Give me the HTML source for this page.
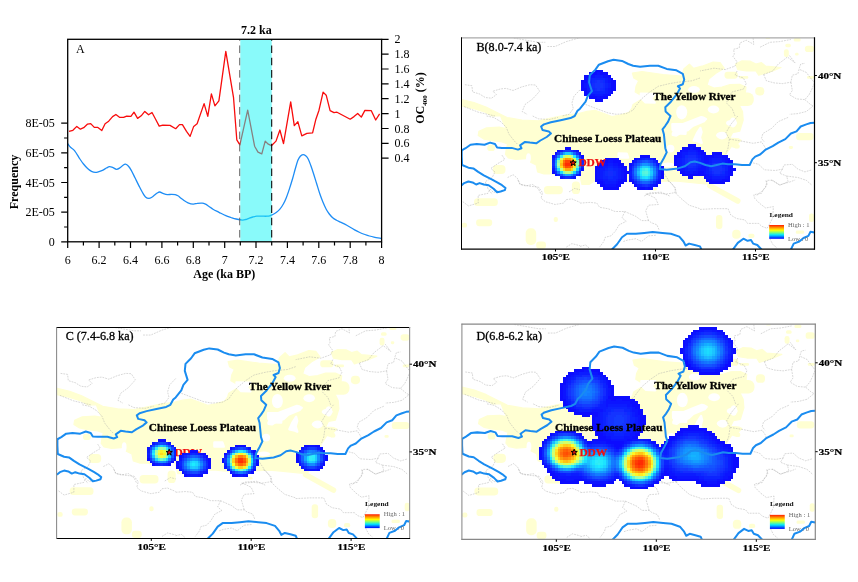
<!DOCTYPE html>
<html><head><meta charset="utf-8"><title>Figure</title>
<style>html,body{margin:0;padding:0;background:#fff;}svg{display:block;font-family:"Liberation Serif", serif;will-change:transform;opacity:0.999}.t{font-size:12px;fill:#000}.b{font-weight:bold}.riv{fill:none;stroke:#1a8cf0;stroke-width:2;stroke-linejoin:round;stroke-linecap:round}.dot{fill:none;stroke:#a8a8a8;stroke-width:0.45;stroke-dasharray:1.8 1}.yl{fill:#ffffd2;stroke:#ffffd2;stroke-width:1.2;stroke-linejoin:round}.wh{fill:#fff;stroke:#fff;stroke-width:2.4;stroke-linejoin:round}</style></head><body>
<svg width="858" height="582" viewBox="0 0 858 582">
<rect width="858" height="582" fill="#fff"/>
<defs>
<linearGradient id="ramp" x1="0" y1="0" x2="0" y2="1"><stop offset="0" stop-color="#ff1a00"/><stop offset="0.2" stop-color="#ff9a00"/><stop offset="0.38" stop-color="#ffff00"/><stop offset="0.55" stop-color="#7dff7d"/><stop offset="0.72" stop-color="#00e6ff"/><stop offset="0.88" stop-color="#0060ff"/><stop offset="1" stop-color="#0000ff"/></linearGradient>
<g id="land">
<polygon class="yl" points="0,61.7 12.5,64.7 24.5,69.2 35.5,74.7 45.5,79.7 60.5,82.2 77.1,83 91.5,79.9 104.5,77.2 117,75.7 125.5,73.6 133.5,72.5 142.5,75.7 150.5,78.8 158.5,77.2 167.5,74.6 170.5,70.2 171.5,66.7 178.5,62.5 184.2,59.7 178.5,56.9 173.7,54.1 174.5,48.5 177.2,43 172.3,40.2 170.9,35.2 180.5,33.7 201.5,36.7 220.5,38.2 222.3,31.2 227.9,26.3 232.1,30.5 240.5,28.4 251.6,24.2 258.6,24.9 262.8,30.5 254.4,35.4 247.5,41 245.5,47.2 252.5,50.2 260.5,49.2 268.5,46.7 278.2,46.6 284.5,49.2 283.8,55.6 279.6,61.2 276.8,65.4 281,73.8 281.7,82.2 278.2,93.4 271.2,94.8 268.4,100.3 276.8,101 279.6,102.4 276.1,105.9 274.7,110.1 269.8,108.7 267,112.9 264.2,117.1 260.5,127.2 254.5,138.2 250.5,146.2 243.5,146.2 228.5,144.7 218.5,143.7 210.5,143.2 200.5,143.7 194.5,144.7 189.5,147.2 183.5,145.2 168.5,144.2 158.5,143.2 143.5,143.2 133.8,142.7 127.5,146.7 120.5,146.7 119,140.2 117,133.4 98.5,138.2 90.8,136.2 82.4,136.2 76.1,134.1 74.7,127.2 69.1,124.4 68.4,116.7 65.6,116 64.2,120.9 54.4,121.6 46.8,120.2 44,116.7 44.7,111.8 46.1,106.2 40.5,104.1 29.3,102.7 22.3,101.3 16.7,97.8 17.4,93.6 25.1,90.1 37.7,89.4 44.7,90.8 41.9,85.2 39.1,78.2 30.7,78.2 23.7,74.4 12.5,70.9 0,68.1"/>
<polygon class="yl" points="274.2,26.2 280.5,23.1 288.8,23.4 294.4,26.2 300,24.8 304.2,28.3 319.6,29.7 311.2,33.2 304.2,35.3 297.2,37.4 294.4,33.2 284.7,33.2 276.3,31.8"/>
<polygon class="wh" points="179.3,56 193.2,56.1 189.5,61 193.2,64.8 184,64.5 179.5,60.2"/>
<polygon class="wh" points="210.9,86.5 224,86.5 224,95.9 214.9,95.5 211.1,92.1"/>
<ellipse fill="#fff" cx="210.1" cy="110.8" rx="2.4" ry="2.7"/>
<ellipse fill="#fff" cx="206.6" cy="127.1" rx="6.3" ry="2.3"/>
<ellipse fill="#fff" cx="241.3" cy="81.7" rx="3.1" ry="3.1"/>
<ellipse fill="#fff" cx="270" cy="85.2" rx="5.5" ry="3.1"/>
<ellipse fill="#fff" cx="260.5" cy="97.8" rx="5.1" ry="3.9"/>
<polygon class="wh" points="211.3,95.8 214.9,89.2 222.9,85.8 230.1,83 239.7,79.3 244.5,81.2 239.5,84.6 231.1,88 226.3,92.4 220.2,94.1 214.7,97.7 211.3,97.1"/>
<ellipse fill="#fff" cx="220.2" cy="74.5" rx="5.5" ry="7.1"/>
<ellipse fill="#fff" cx="232.5" cy="51.8" rx="5.9" ry="3.5"/>
<ellipse fill="#fff" cx="252" cy="71.7" rx="5.8" ry="3.9"/>
<polygon class="wh" points="232.2,102.6 235.4,95.6 238.9,90.2 240,94.3 238.4,99.6 240.1,105 236.5,103.5"/>
<ellipse fill="#fff" cx="259.7" cy="97.5" rx="5.1" ry="3.1"/>
<ellipse fill="#fff" cx="271.5" cy="84.7" rx="3.5" ry="5.1"/>
<ellipse fill="#fff" cx="209" cy="110.8" rx="3.9" ry="3.9"/>
<polygon class="wh" points="157.2,115.7 165.2,115.8 166.6,119.8 157.2,119.8"/>
<ellipse fill="#fff" cx="67" cy="120.1" rx="2.4" ry="4.6"/>
<rect class="yl" style="stroke:none" x="25.8" y="106.9" width="7.7" height="6.3" rx="2.8"/>
<rect class="yl" style="stroke:none" x="31.4" y="127.2" width="12.6" height="9" rx="4"/>
<rect class="yl" style="stroke:none" x="82.4" y="148.2" width="18.9" height="8.3" rx="3.7"/>
<rect class="yl" style="stroke:none" x="110.4" y="143.6" width="8.1" height="12.6" rx="3.6"/>
<rect class="yl" style="stroke:none" x="12.5" y="160.4" width="23.8" height="7.7" rx="3.5"/>
<rect class="yl" style="stroke:none" x="14.6" y="181.4" width="16.1" height="7" rx="3.1"/>
<rect class="yl" style="stroke:none" x="0.2" y="184.9" width="5.3" height="4.9" rx="2.2"/>
<rect class="yl" style="stroke:none" x="64.2" y="190.5" width="10.5" height="16.7" rx="4.7"/>
<rect class="yl" style="stroke:none" x="74.7" y="203.7" width="9.8" height="7.3" rx="3.3"/>
<rect class="yl" style="stroke:none" x="92.2" y="179.2" width="4.2" height="5" rx="1.9"/>
<rect class="yl" style="stroke:none" x="263" y="33.9" width="13.3" height="7" rx="3.1"/>
<rect class="yl" style="stroke:none" x="277.7" y="38.1" width="9.1" height="2.8" rx="1.3"/>
<rect class="yl" style="stroke:none" x="268.5" y="46.5" width="9.9" height="4.1" rx="1.8"/>
<rect class="yl" style="stroke:none" x="293.7" y="49.2" width="9.1" height="8.4" rx="3.8"/>
<rect class="yl" style="stroke:none" x="266.5" y="54.8" width="25.8" height="13.3" rx="6"/>
<rect class="yl" style="stroke:none" x="322.4" y="11.5" width="4.9" height="7.7" rx="2.2"/>
<rect class="yl" style="stroke:none" x="323.8" y="5.9" width="5.6" height="3.5" rx="1.6"/>
<rect class="yl" style="stroke:none" x="332.2" y="0.3" width="7" height="3.5" rx="1.6"/>
<rect class="yl" style="stroke:none" x="333.6" y="15" width="3.5" height="2.8" rx="1.3"/>
<rect class="yl" style="stroke:none" x="343.4" y="8" width="9.1" height="6.3" rx="2.8"/>
<rect class="yl" style="stroke:none" x="345.5" y="38.1" width="7" height="2.8" rx="1.3"/>
<rect class="yl" style="stroke:none" x="304.2" y="0" width="4.2" height="1.2" rx="0.5"/>
<rect class="yl" style="stroke:none" x="254.5" y="177.2" width="6.4" height="14" rx="2.9"/>
<rect class="yl" style="stroke:none" x="270.7" y="191.9" width="8.4" height="9" rx="3.8"/>
<rect class="yl" style="stroke:none" x="286.8" y="196" width="6.2" height="4.2" rx="1.9"/>
<rect class="yl" style="stroke:none" x="334.3" y="192.8" width="8.4" height="3.2" rx="1.4"/>
<rect class="yl" style="stroke:none" x="347.5" y="175.8" width="5" height="8.4" rx="2.2"/>
<rect class="yl" style="stroke:none" x="334.6" y="95.2" width="17.4" height="7.2" rx="3.2"/>
<rect class="yl" style="stroke:none" x="327.3" y="108.3" width="4.2" height="2.8" rx="1.3"/>
<rect class="yl" style="stroke:none" x="274.2" y="106.2" width="3.5" height="4.2" rx="1.6"/>
<rect class="yl" style="stroke:none" x="273.3" y="106.6" width="4.9" height="4.2" rx="1.9"/>
<rect class="yl" style="stroke:none" x="191.2" y="149.9" width="4.2" height="2.8" rx="1.3"/>
<line x1="248.3" y1="147.8" x2="276.3" y2="163.2" stroke="#ffffd2" stroke-width="5.5" stroke-linecap="round"/>
<polyline class="dot" points="52.3,0.3 76.8,4.5 83.8,4.5"/>
<polyline class="dot" points="85.9,8.7 93.6,8.7 104.8,3.8 118.5,-0.1"/>
<polyline class="dot" points="3.4,46.9 10.4,47.9 11.1,54.1 18.1,56.2 23.7,59.7 30,60.4 34.9,56.9 31.4,53.4 39.1,51.1 44.7,50.6 51.6,52.7 60,49.2 68.4,46.9 74,47.2 78.2,53.4 71.2,61.1 63.5,66.7 60.7,73.7 65.6,76.5"/>
<polyline class="dot" points="118.5,52 112.5,58.3 110.4,65.3 111.8,70.9 107.6,76.5 100.6,78.2"/>
<polyline class="dot" points="2.7,68.8 16.7,74.4 33.5,78.2"/>
<polyline class="dot" points="124.1,66.7 135.3,70.9 146.5,75.1 154.9,76.5 164.7,75.8 171.6,72.3 174.4,68.1 180,61.1 188.4,54.1 196.8,48.5 208,45.8 216.4,44.4 230.4,43 238.5,40.2"/>
<polyline class="dot" points="291.6,0.3 292.3,6.6 284.7,2.4 278.4,5.2 277.7,10.1 272.1,11.5 272.8,16.4 271.4,18.5 275.6,24.1 273.5,28.3 263.7,31.8 252.5,30.4 238.5,33.2"/>
<polyline class="dot" points="298.6,9.4 308.4,4.5 318.2,3.8 329.4,1.7"/>
<polyline class="dot" points="275.6,33.2 273.5,37.4 281.9,40.2 284.7,45.8 281.9,51.3 270.7,54.1 266.5,59.7 265.1,65.3 270.7,70.9 273.5,78.2"/>
<polyline class="dot" points="302.1,36.7 311.2,33.2 316.8,26.2 322.4,22 325.9,19.2 333.6,25.1 328,17.8"/>
<polyline class="dot" points="302.1,36.7 304.9,43 312.6,45.1 321,45.8 329.4,44.4 330.8,37.4 336.4,36 337.8,30.4 339.2,26.2 343.4,25.5"/>
<polyline class="dot" points="329.4,44.4 330.8,52.7 328,56.9 335,61.1 343.4,61.8 347.6,56.9 350.4,51.3 352.5,45.8"/>
<polyline class="dot" points="343.4,61.8 349,66.7 351.8,68.1 344.8,73.7 336.4,75.8 328,76.5"/>
<polyline class="dot" points="338.5,31.8 344.8,34.6 349,40.2 352.5,44.4"/>
<polyline class="dot" points="276.3,78.2 269.3,86.6 264.4,95 267.9,101.3 280.5,103.4 291.6,105.5 300,104.1 302.8,108.3 304.2,111.1"/>
<polyline class="dot" points="267.9,101.3 266.5,110.4 264.4,116"/>
<polyline class="dot" points="326.6,79.6 316.8,83.8 309.8,90.8 301.4,95.7 300,100.6 302.8,104.1"/>
<polyline class="dot" points="291.6,125.1 297.2,126.5 302.8,132 314,132.7 321,131.3 322.4,127.2 330.8,126.5 336.4,131.3 343.4,134.1 350.4,132"/>
<polyline class="dot" points="321,131.3 318.2,135.5 325.2,138.3 326.6,143.9 318.2,147.4 311.2,142.5 305.6,142.5 304.2,149.5 300,153.7 294.4,158.2"/>
<polyline class="dot" points="325.2,138.3 336.4,139.7 344.8,142.5 350.4,147.4"/>
<polyline class="dot" points="238.5,171.6 252.5,170.9 266.5,170.9 269.3,177.2 274.9,180.7 283.3,182.1 286.1,185.6 297.2,185.6 300,188.4 305.6,190.5 308.4,185.6 311.2,180 311.9,168.8 304.2,170.2 298.6,166 293,160.4 292.3,156.9 300,155.5 302.8,150.6 305.6,146.4 304.2,142.2"/>
<polyline class="dot" points="308.4,200.9 311.2,206.5 315.4,210"/>
<polyline class="dot" points="309.8,142.2 318.2,147.1 328,144.3 333.6,142.2"/>
<polyline class="dot" points="118.5,165.3 128.3,164.6 135.3,165.3 138.1,169.5 146.5,170.9 153.5,173.7 163.3,173.7 174.4,178.6 180,182.8 187,182.8 189.8,184.9 195.4,187 197.5,191.9"/>
<polyline class="dot" points="163.3,173.7 160.5,180 164.7,183.5 157.7,187 153.5,193.9 149.3,198.1 143.7,199.5 142.3,203.7 138.1,209.3"/>
<polyline class="dot" points="187,182.8 184.2,173 187,167.4 196.8,166.7 194,160.4 188.4,157.6 184.2,156.2 196.8,155.5 205.2,156.2 213.6,154.8 213.6,150.6 209.4,145 205.2,142.2"/>
<polyline class="dot" points="213.6,154.8 219.2,160.4 227.6,167.4 238.5,170.9"/>
<polyline class="dot" points="161.9,203.7 166.1,202.3 174.4,200.9 180,203.7 187,198.1 194.7,197.4"/>
<polyline class="dot" points="118.5,208.6 124.1,207.2 128.3,210.7"/>
<polyline class="dot" points="1.3,163.9 6.9,168.1 16.7,165.3 16.7,157.6 26.5,155.5 28.6,151.3 32.1,154.8 36.3,152.7"/>
<polyline class="dot" points="56.5,142.2 58.6,146.4 68.4,148.5 76.8,149.2 81,154.8 79.6,160.4 83.8,163.9 93.6,166.7 102,165.3 104.8,161.8 110.4,161.1 118.5,164.6"/>
<polyline class="dot" points="107.6,154.1 113.2,150.6 118.5,152"/>
<polyline class="dot" points="104.8,209.3 110.4,205.8 118.5,207.9"/>
<polyline class="dot" points="25.1,78.2 32.1,79.6 39.1,83.8 44.7,89.4 47.5,96.4 53,103.4 55.8,106.2"/>
<polyline class="dot" points="40.5,117.4 43.3,121.6 36.3,125.8 29.3,130.6 33.5,134.1 30.7,139.7 23.7,143.9 26.5,150.9 30.7,156.5"/>
<polyline class="dot" points="46.1,139.7 51.6,136.9 55.8,140.4 58.6,146.7 64.2,148.1 71.2,146.7 76.8,150.9 79.6,156.5"/>
<polyline class="dot" points="71.2,78.2 76.8,81 88,81.7 96.4,79.6"/>
<polyline class="dot" points="202.4,135.5 208,143.9 213.6,149.5 215,156.5"/>
<polyline class="dot" points="182.8,158.2 188.4,155.1 199.6,154.4 208,158.2"/>
</g>
<g id="riv">
<polyline class="riv" points="0.2,112.5 4.1,110.4 9,106.9 15.3,106.2 23,106.9 28.6,104.8 33.5,106.2 35.6,109.7 40.4,110.1 50.2,110.1 56.5,111.8 60,110.4 58.6,107.6 63.5,104.1 68.4,104.8 74.7,105.5 78.9,102.7 85.2,99.2 89.4,95.7 87.3,93.6 81,92.2 79.6,88.7 82.4,86.6 89.4,84.5 99.2,82.4 109,80.3 113.2,78.2 116,73 118.5,70.9 124.1,63.9 126.2,58.3 130.4,53.4 127.6,44.4 128.3,37.4 133.9,31.8 137.4,26.9 146.5,23.4 152.1,22 160.5,23.1 166.8,26.2 171.6,27.9 178.6,29 188.4,27.9 196.8,27.9 205.2,31.1 215,32.5 221.3,36 222.7,41.6 221.3,46.5 216.4,48.5 218.5,50.6 215,56.9 209.4,63.9 203.8,69.5 204.1,73.7 209,78.2 206.6,83.8 203.8,88 201,91.5 202.4,96.4 203.1,103.4 203.8,110.4 205.2,114.6 202.4,120.2 198.9,126.5 198.2,131.3 205.2,132 216.4,130.6 223.4,128.5 229,124.4 233.2,123.7 238.5,125.1 244.1,127.2 249.7,128.5 255.3,127.2 260.9,125.8 266.5,126.5 273.5,126.5 280.5,127.2 288.2,127.2 290.9,121.6 293.7,118.8 298.6,116.7 304.2,111.8 311.2,108.3 316.8,104.8 323.8,101.3 329.4,95.7 335,93.6 339.2,88.7 344.8,86.6 349,85.2 353,84.9"/>
<polyline class="riv" points="0.2,112.5 0.2,118.8 0.6,127.2 6.9,129.9 11.8,130.6 16.7,134.1 22.3,137.6 30.7,141.8 37,145.3 40.5,147.4 44,150.2 43.3,152.3 39.1,153.7 35.6,154.4 32.1,150.9 27.2,147.4 22.3,146.7 18.1,145.3 14.6,146.7 11.1,144.6 6.9,143.7 2.7,145.3 0.2,147.4"/>
<polyline class="riv" points="150.7,211.4 155.6,206.5 160.5,199.5 165.4,196 174.4,196 182.8,195.1 191.2,194.2 201,195.1 209.4,196 217.8,198.8 222,203.7 224.1,207.7 227.6,205.8 233.2,207.2 238.5,208.6 239.9,211.7"/>
<polyline class="riv" points="271.4,211.7 276.3,205.1 281.9,200.9 286.1,203 289.5,202.3 291.6,205.8 295.8,207.2 300,211.7"/>
<polyline class="riv" points="329.4,211.7 332.2,205.8 337.8,203.7 342,200.2 346.9,198.1 349,193.9 353,194.6"/>
</g>
<g id="legend">
<g transform="translate(307.9,178.8) scale(1.13,1)"><text x="0" y="0" font-size="6.6" font-weight="bold" fill="#111">Legend</text></g>
<rect x="307.7" y="187.2" width="14.8" height="13.8" fill="url(#ramp)"/>
<g transform="translate(326.5,189.4) scale(1.13,1)"><text x="0" y="0" font-size="5.8" fill="#666">High : 1</text></g>
<g transform="translate(326.5,202.8) scale(1.13,1)"><text x="0" y="0" font-size="5.8" fill="#666">Low : 0</text></g>
</g>
</defs>
<g id="panelA">
<path d="M67.7 143.6 C68.17 144.22 69.33 146.10 70.5 147.3 C71.67 148.50 73.13 148.85 74.7 150.8 C76.27 152.75 78.43 156.80 79.9 159 C81.37 161.20 82.22 162.42 83.5 164 C84.78 165.58 86.27 167.28 87.6 168.5 C88.93 169.72 90.22 170.65 91.5 171.3 C92.78 171.95 94.05 172.35 95.3 172.4 C96.55 172.45 97.72 171.98 99 171.6 C100.28 171.22 101.75 170.70 103 170.1 C104.25 169.50 105.42 168.57 106.5 168 C107.58 167.43 108.42 166.77 109.5 166.7 C110.58 166.63 111.85 167.17 113 167.6 C114.15 168.03 115.23 169.27 116.4 169.3 C117.57 169.33 118.90 168.48 120 167.8 C121.10 167.12 122.08 165.80 123 165.2 C123.92 164.60 124.58 164.02 125.5 164.2 C126.42 164.38 127.52 165.23 128.5 166.3 C129.48 167.37 130.32 168.68 131.4 170.6 C132.48 172.52 133.72 175.22 135 177.8 C136.28 180.38 137.85 183.65 139.1 186.1 C140.35 188.55 141.43 190.70 142.5 192.5 C143.57 194.30 144.43 195.92 145.5 196.9 C146.57 197.88 147.85 198.33 148.9 198.4 C149.95 198.47 150.85 197.85 151.8 197.3 C152.75 196.75 153.70 195.82 154.6 195.1 C155.50 194.38 156.35 193.52 157.2 193 C158.05 192.48 158.65 191.90 159.7 192 C160.75 192.10 162.22 193.17 163.5 193.6 C164.78 194.03 166.10 194.47 167.4 194.6 C168.70 194.73 170.00 194.40 171.3 194.4 C172.60 194.40 174.08 194.37 175.2 194.6 C176.32 194.83 177.15 195.28 178 195.8 C178.85 196.32 179.30 196.92 180.3 197.7 C181.30 198.48 182.72 199.65 184 200.5 C185.28 201.35 186.47 202.20 188 202.8 C189.53 203.40 191.62 204.02 193.2 204.1 C194.78 204.18 196.00 203.47 197.5 203.3 C199.00 203.13 200.87 202.95 202.2 203.1 C203.53 203.25 204.42 203.68 205.5 204.2 C206.58 204.72 207.45 205.37 208.7 206.2 C209.95 207.03 211.28 208.18 213 209.2 C214.72 210.22 216.87 211.22 219 212.3 C221.13 213.38 223.80 214.83 225.8 215.7 C227.80 216.57 229.28 216.95 231 217.5 C232.72 218.05 234.18 218.57 236.1 219 C238.02 219.43 240.88 220.02 242.5 220.1 C244.12 220.18 244.73 219.80 245.8 219.5 C246.87 219.20 247.73 218.72 248.9 218.3 C250.07 217.88 251.50 217.35 252.8 217 C254.10 216.65 255.17 216.33 256.7 216.2 C258.23 216.07 260.28 216.20 262 216.2 C263.72 216.20 265.70 216.27 267 216.2 C268.30 216.13 268.95 216.02 269.8 215.8 C270.65 215.58 271.03 215.43 272.1 214.9 C273.17 214.37 274.90 213.55 276.2 212.6 C277.50 211.65 278.73 210.58 279.9 209.2 C281.07 207.82 282.13 206.22 283.2 204.3 C284.27 202.38 285.25 200.32 286.3 197.7 C287.35 195.08 288.43 191.83 289.5 188.6 C290.57 185.37 291.73 181.60 292.7 178.3 C293.67 175.00 294.43 171.80 295.3 168.8 C296.17 165.80 297.07 162.40 297.9 160.3 C298.73 158.20 299.45 157.15 300.3 156.2 C301.15 155.25 302.10 154.67 303 154.6 C303.90 154.53 304.83 155.07 305.7 155.8 C306.57 156.53 307.35 157.38 308.2 159 C309.05 160.62 309.93 163.13 310.8 165.5 C311.67 167.87 312.43 170.20 313.4 173.2 C314.37 176.20 315.53 180.07 316.6 183.5 C317.67 186.93 318.73 190.67 319.8 193.8 C320.87 196.93 321.93 199.73 323 202.3 C324.07 204.87 325.15 207.25 326.2 209.2 C327.25 211.15 328.22 212.58 329.3 214 C330.38 215.42 331.50 216.67 332.7 217.7 C333.90 218.73 335.22 219.47 336.5 220.2 C337.78 220.93 338.68 221.27 340.4 222.1 C342.12 222.93 344.43 223.90 346.8 225.2 C349.17 226.50 352.43 228.68 354.6 229.9 C356.77 231.12 358.08 231.73 359.8 232.5 C361.52 233.27 363.30 233.92 364.9 234.5 C366.50 235.08 367.90 235.57 369.4 236 C370.90 236.43 371.87 236.70 373.9 237.1 C375.93 237.50 380.32 238.18 381.6 238.4" fill="none" stroke="#1e8df5" stroke-width="1.3" stroke-linejoin="round"/>
<path d="M69 131.3 L72.9 130.3 L76.8 126.4 L80.4 129.2 L83.7 127.7 L87.6 124.1 L90.7 123.6 L94.3 127.4 L97.9 127.4 L101.8 130.5 L105.1 123.8 L108.7 121.2 L112.6 116.6 L115.9 114.5 L119.8 117.4 L123.6 117.4 L126.7 116.1 L130.9 116.3 L134 112.2 L137.6 118.4 L141.2 115.8 L144.8 111.4 L148.6 114.8 L152 112.5 L155.6 119.2 L159.2 126.1 L162.8 125.1 L170 125.4 L175.7 128.7 L179.5 124.6 L182.4 124.6 L186.5 131.3 L190.1 136.4 L193.7 126.4 L197.1 123.8 L204.1 103.6 L207.8 116.4 L211.4 93.9 L214.9 105.9 L218.9 100.8 L225.8 51.4 L229.6 74.1 L233.5 97.3 L236.8 139.8 L239.9 144.9 L247.7 110.2 L254.6 146.2 L258 152.1 L261.8 153.9 L265.2 141.1 L268.3 144.2 L271.4 145.7 L276 141.1 L279.9 130 L283.5 143.6 L290.7 101.9 L294.3 125.6 L297.9 121.8 L301.8 135.9 L306.9 133.3 L312.6 132.8 L315.9 119.2 L319 110.2 L323.1 92.1 L326.2 95.2 L330.1 110.7 L334 112.7 L337 112.2 L350.2 119.2 L354 116.6 L357.7 113.5 L361.3 117.1 L364.9 110.4 L371.3 110.7 L375.7 120 L379.6 113.8" fill="none" stroke="#f80c0c" stroke-width="1.3" stroke-linejoin="round"/>
<rect x="240.3" y="39.3" width="31.4" height="202.5" fill="#14f5f5" fill-opacity="0.5"/>
<line x1="239.7" y1="39.3" x2="239.7" y2="241.8" stroke="#666" stroke-width="1" stroke-dasharray="7.6 4.7" stroke-dashoffset="6.15"/>
<line x1="271.7" y1="39.3" x2="271.7" y2="241.8" stroke="#000" stroke-width="1.05" stroke-dasharray="7.6 4.7" stroke-dashoffset="6.15"/>
<rect x="67.7" y="39.3" width="313.9" height="202.5" fill="none" stroke="#000" stroke-width="1.3"/>
<path d="M67.7 241.8 v6.3 M83.4 241.8 v3.6 M99.1 241.8 v6.3 M114.8 241.8 v3.6 M130.5 241.8 v6.3 M146.2 241.8 v3.6 M161.9 241.8 v6.3 M177.6 241.8 v3.6 M193.3 241.8 v6.3 M209 241.8 v3.6 M224.7 241.8 v6.3 M240.3 241.8 v3.6 M256 241.8 v6.3 M271.7 241.8 v3.6 M287.4 241.8 v6.3 M303.1 241.8 v3.6 M318.8 241.8 v6.3 M334.5 241.8 v3.6 M350.2 241.8 v6.3 M365.9 241.8 v3.6 M381.6 241.8 v6.3 M67.7 241.8 h-6.5 M67.7 227 h-3.6 M67.7 212.2 h-6.5 M67.7 197.3 h-3.6 M67.7 182.5 h-6.5 M67.7 167.7 h-3.6 M67.7 152.9 h-6.5 M67.7 138 h-3.6 M67.7 123.2 h-6.5 M381.6 158.2 h7 M381.6 143.3 h7 M381.6 128.5 h7 M381.6 113.6 h7 M381.6 98.7 h7 M381.6 83.9 h7 M381.6 69 h7 M381.6 54.2 h7 M381.6 39.3 h7" stroke="#000" stroke-width="1.2" fill="none"/>
<text class="t" x="67.7" y="264.2" text-anchor="middle">6</text>
<text class="t" x="99.1" y="264.2" text-anchor="middle">6.2</text>
<text class="t" x="130.5" y="264.2" text-anchor="middle">6.4</text>
<text class="t" x="161.9" y="264.2" text-anchor="middle">6.6</text>
<text class="t" x="193.3" y="264.2" text-anchor="middle">6.8</text>
<text class="t" x="224.7" y="264.2" text-anchor="middle">7</text>
<text class="t" x="256" y="264.2" text-anchor="middle">7.2</text>
<text class="t" x="287.4" y="264.2" text-anchor="middle">7.4</text>
<text class="t" x="318.8" y="264.2" text-anchor="middle">7.6</text>
<text class="t" x="350.2" y="264.2" text-anchor="middle">7.8</text>
<text class="t" x="381.6" y="264.2" text-anchor="middle">8</text>
<text class="t" x="54.8" y="245.9" text-anchor="end">0</text>
<text class="t" x="54.8" y="216.2" text-anchor="end">2E-05</text>
<text class="t" x="54.8" y="186.6" text-anchor="end">4E-05</text>
<text class="t" x="54.8" y="157" text-anchor="end">6E-05</text>
<text class="t" x="54.8" y="127.3" text-anchor="end">8E-05</text>
<text class="t" x="394.4" y="162.3">0.4</text>
<text class="t" x="394.4" y="147.4">0.6</text>
<text class="t" x="394.4" y="132.6">0.8</text>
<text class="t" x="394.4" y="117.7">1</text>
<text class="t" x="394.4" y="102.8">1.2</text>
<text class="t" x="394.4" y="88">1.4</text>
<text class="t" x="394.4" y="73.1">1.6</text>
<text class="t" x="394.4" y="58.3">1.8</text>
<text class="t" x="394.4" y="43.4">2</text>
<text class="t b" x="224.3" y="277.6" text-anchor="middle">Age (ka BP)</text>
<text class="t b" transform="translate(17.9,182) rotate(-90)" text-anchor="middle">Frequency</text>
<text class="t b" transform="translate(424.3,98) rotate(-90)" text-anchor="middle">OC<tspan font-size="7" dy="2.5">400</tspan><tspan dy="-2.5"> (%)</tspan></text>
<text class="t" x="76" y="53">A</text>
<text class="t b" x="256.3" y="33.6" text-anchor="middle">7.2 ka</text>
</g>
<g id="B">
<clipPath id="clipB"><rect x="461.5" y="37.8" width="353" height="211.3"/></clipPath>
<g clip-path="url(#clipB)">
<use href="#land" transform="translate(461.5,37.8) scale(1,1)"/>
<g shape-rendering="crispEdges"><rect x="594.5" y="69.7" width="8" height="2.7" fill="#0c0cff"/><rect x="589.2" y="72.4" width="8" height="2.7" fill="#0c0cff"/><rect x="597.2" y="72.4" width="2.7" height="2.7" fill="#0c14ff"/><rect x="599.8" y="72.4" width="8" height="2.7" fill="#0c0cff"/><rect x="583.9" y="75" width="5.4" height="2.7" fill="#0c0cff"/><rect x="589.2" y="75" width="5.4" height="2.7" fill="#0c14ff"/><rect x="594.5" y="75" width="8" height="2.7" fill="#0c1cff"/><rect x="602.5" y="75" width="5.4" height="2.7" fill="#0c14ff"/><rect x="607.8" y="75" width="2.7" height="2.7" fill="#0c0cff"/><rect x="583.9" y="77.7" width="2.7" height="2.7" fill="#0c0cff"/><rect x="586.5" y="77.7" width="2.7" height="2.7" fill="#0c14ff"/><rect x="589.2" y="77.7" width="2.7" height="2.7" fill="#0c1cff"/><rect x="591.8" y="77.7" width="13.4" height="2.7" fill="#0c24ff"/><rect x="605.1" y="77.7" width="2.7" height="2.7" fill="#0c1cff"/><rect x="607.8" y="77.7" width="2.7" height="2.7" fill="#0c14ff"/><rect x="610.5" y="77.7" width="2.7" height="2.7" fill="#0c0cff"/><rect x="581.2" y="80.4" width="5.4" height="2.7" fill="#0c0cff"/><rect x="586.5" y="80.4" width="2.7" height="2.7" fill="#0c1cff"/><rect x="589.2" y="80.4" width="2.7" height="2.7" fill="#0c24ff"/><rect x="591.8" y="80.4" width="2.7" height="2.7" fill="#0c2cff"/><rect x="594.5" y="80.4" width="2.7" height="2.7" fill="#142cff"/><rect x="597.2" y="80.4" width="2.7" height="2.7" fill="#1434ff"/><rect x="599.8" y="80.4" width="2.7" height="2.7" fill="#142cff"/><rect x="602.5" y="80.4" width="2.7" height="2.7" fill="#0c2cff"/><rect x="605.1" y="80.4" width="2.7" height="2.7" fill="#0c1cff"/><rect x="607.8" y="80.4" width="2.7" height="2.7" fill="#0c14ff"/><rect x="610.5" y="80.4" width="5.4" height="2.7" fill="#0c0cff"/><rect x="581.2" y="83" width="2.7" height="2.7" fill="#0c0cff"/><rect x="583.9" y="83" width="2.7" height="2.7" fill="#0c14ff"/><rect x="586.5" y="83" width="2.7" height="2.7" fill="#0c1cff"/><rect x="589.2" y="83" width="2.7" height="2.7" fill="#0c24ff"/><rect x="591.8" y="83" width="2.7" height="2.7" fill="#142cff"/><rect x="594.5" y="83" width="8" height="2.7" fill="#1434ff"/><rect x="602.5" y="83" width="2.7" height="2.7" fill="#142cff"/><rect x="605.1" y="83" width="2.7" height="2.7" fill="#0c24ff"/><rect x="607.8" y="83" width="2.7" height="2.7" fill="#0c1cff"/><rect x="610.5" y="83" width="5.4" height="2.7" fill="#0c0cff"/><rect x="581.2" y="85.7" width="2.7" height="2.7" fill="#0c0cff"/><rect x="583.9" y="85.7" width="2.7" height="2.7" fill="#0c14ff"/><rect x="586.5" y="85.7" width="2.7" height="2.7" fill="#0c1cff"/><rect x="589.2" y="85.7" width="2.7" height="2.7" fill="#0c24ff"/><rect x="591.8" y="85.7" width="2.7" height="2.7" fill="#142cff"/><rect x="594.5" y="85.7" width="8" height="2.7" fill="#1434ff"/><rect x="602.5" y="85.7" width="2.7" height="2.7" fill="#142cff"/><rect x="605.1" y="85.7" width="2.7" height="2.7" fill="#0c24ff"/><rect x="607.8" y="85.7" width="2.7" height="2.7" fill="#0c1cff"/><rect x="610.5" y="85.7" width="5.4" height="2.7" fill="#0c0cff"/><rect x="581.2" y="88.3" width="5.4" height="2.7" fill="#0c0cff"/><rect x="586.5" y="88.3" width="2.7" height="2.7" fill="#0c1cff"/><rect x="589.2" y="88.3" width="2.7" height="2.7" fill="#0c24ff"/><rect x="591.8" y="88.3" width="2.7" height="2.7" fill="#0c2cff"/><rect x="594.5" y="88.3" width="2.7" height="2.7" fill="#142cff"/><rect x="597.2" y="88.3" width="2.7" height="2.7" fill="#1434ff"/><rect x="599.8" y="88.3" width="2.7" height="2.7" fill="#142cff"/><rect x="602.5" y="88.3" width="2.7" height="2.7" fill="#0c2cff"/><rect x="605.1" y="88.3" width="2.7" height="2.7" fill="#0c1cff"/><rect x="607.8" y="88.3" width="2.7" height="2.7" fill="#0c14ff"/><rect x="610.5" y="88.3" width="5.4" height="2.7" fill="#0c0cff"/><rect x="583.9" y="91" width="2.7" height="2.7" fill="#0c0cff"/><rect x="586.5" y="91" width="2.7" height="2.7" fill="#0c14ff"/><rect x="589.2" y="91" width="2.7" height="2.7" fill="#0c1cff"/><rect x="591.8" y="91" width="13.4" height="2.7" fill="#0c24ff"/><rect x="605.1" y="91" width="2.7" height="2.7" fill="#0c1cff"/><rect x="607.8" y="91" width="2.7" height="2.7" fill="#0c14ff"/><rect x="610.5" y="91" width="2.7" height="2.7" fill="#0c0cff"/><rect x="583.9" y="93.7" width="5.4" height="2.7" fill="#0c0cff"/><rect x="589.2" y="93.7" width="5.4" height="2.7" fill="#0c14ff"/><rect x="594.5" y="93.7" width="8" height="2.7" fill="#0c1cff"/><rect x="602.5" y="93.7" width="5.4" height="2.7" fill="#0c14ff"/><rect x="607.8" y="93.7" width="2.7" height="2.7" fill="#0c0cff"/><rect x="589.2" y="96.3" width="8" height="2.7" fill="#0c0cff"/><rect x="597.2" y="96.3" width="2.7" height="2.7" fill="#0c14ff"/><rect x="599.8" y="96.3" width="8" height="2.7" fill="#0c0cff"/><rect x="594.5" y="99" width="8" height="2.7" fill="#0c0cff"/><rect x="687.6" y="144.2" width="8" height="2.7" fill="#0c0cff"/><rect x="565.2" y="146.9" width="5.4" height="2.7" fill="#0c0cff"/><rect x="682.3" y="146.9" width="8" height="2.7" fill="#0c0cff"/><rect x="690.3" y="146.9" width="2.7" height="2.7" fill="#0c14ff"/><rect x="692.9" y="146.9" width="8" height="2.7" fill="#0c0cff"/><rect x="557.3" y="149.5" width="2.7" height="2.7" fill="#0c0cff"/><rect x="559.9" y="149.5" width="2.7" height="2.7" fill="#0c1cff"/><rect x="562.6" y="149.5" width="2.7" height="2.7" fill="#1434ff"/><rect x="565.2" y="149.5" width="5.4" height="2.7" fill="#143cff"/><rect x="570.6" y="149.5" width="2.7" height="2.7" fill="#142cff"/><rect x="573.2" y="149.5" width="2.7" height="2.7" fill="#0c1cff"/><rect x="575.9" y="149.5" width="2.7" height="2.7" fill="#0c0cff"/><rect x="679.6" y="149.5" width="2.7" height="2.7" fill="#0c0cff"/><rect x="682.3" y="149.5" width="5.4" height="2.7" fill="#0c14ff"/><rect x="687.6" y="149.5" width="8" height="2.7" fill="#0c1cff"/><rect x="695.6" y="149.5" width="2.7" height="2.7" fill="#0c14ff"/><rect x="698.2" y="149.5" width="5.4" height="2.7" fill="#0c0cff"/><rect x="554.6" y="152.2" width="2.7" height="2.7" fill="#0c0cff"/><rect x="557.3" y="152.2" width="2.7" height="2.7" fill="#1434ff"/><rect x="559.9" y="152.2" width="2.7" height="2.7" fill="#146cff"/><rect x="562.6" y="152.2" width="2.7" height="2.7" fill="#14a4ff"/><rect x="565.2" y="152.2" width="5.4" height="2.7" fill="#1cccff"/><rect x="570.6" y="152.2" width="2.7" height="2.7" fill="#14a4ff"/><rect x="573.2" y="152.2" width="2.7" height="2.7" fill="#1464ff"/><rect x="575.9" y="152.2" width="2.7" height="2.7" fill="#142cff"/><rect x="578.5" y="152.2" width="2.7" height="2.7" fill="#0c0cff"/><rect x="677" y="152.2" width="2.7" height="2.7" fill="#0c0cff"/><rect x="679.6" y="152.2" width="2.7" height="2.7" fill="#0c14ff"/><rect x="682.3" y="152.2" width="5.4" height="2.7" fill="#0c1cff"/><rect x="687.6" y="152.2" width="8" height="2.7" fill="#0c24ff"/><rect x="695.6" y="152.2" width="2.7" height="2.7" fill="#0c1cff"/><rect x="698.2" y="152.2" width="2.7" height="2.7" fill="#0c14ff"/><rect x="700.9" y="152.2" width="5.4" height="2.7" fill="#0c0cff"/><rect x="711.5" y="152.2" width="10.7" height="2.7" fill="#0c0cff"/><rect x="551.9" y="154.8" width="2.7" height="2.7" fill="#0c0cff"/><rect x="554.6" y="154.8" width="2.7" height="2.7" fill="#1434ff"/><rect x="557.3" y="154.8" width="2.7" height="2.7" fill="#1484ff"/><rect x="559.9" y="154.8" width="2.7" height="2.7" fill="#34ecf4"/><rect x="562.6" y="154.8" width="2.7" height="2.7" fill="#acff9c"/><rect x="565.2" y="154.8" width="2.7" height="2.7" fill="#dcff54"/><rect x="567.9" y="154.8" width="2.7" height="2.7" fill="#dcff5c"/><rect x="570.6" y="154.8" width="2.7" height="2.7" fill="#acffa4"/><rect x="573.2" y="154.8" width="2.7" height="2.7" fill="#24ecff"/><rect x="575.9" y="154.8" width="2.7" height="2.7" fill="#147cff"/><rect x="578.5" y="154.8" width="2.7" height="2.7" fill="#142cff"/><rect x="581.2" y="154.8" width="2.7" height="2.7" fill="#0c0cff"/><rect x="639.7" y="154.8" width="10.7" height="2.7" fill="#0c0cff"/><rect x="674.3" y="154.8" width="5.4" height="2.7" fill="#0c0cff"/><rect x="679.6" y="154.8" width="2.7" height="2.7" fill="#0c14ff"/><rect x="682.3" y="154.8" width="2.7" height="2.7" fill="#0c1cff"/><rect x="684.9" y="154.8" width="2.7" height="2.7" fill="#0c2cff"/><rect x="687.6" y="154.8" width="8" height="2.7" fill="#142cff"/><rect x="695.6" y="154.8" width="2.7" height="2.7" fill="#0c24ff"/><rect x="698.2" y="154.8" width="2.7" height="2.7" fill="#0c1cff"/><rect x="700.9" y="154.8" width="2.7" height="2.7" fill="#0c14ff"/><rect x="703.6" y="154.8" width="10.7" height="2.7" fill="#0c0cff"/><rect x="714.2" y="154.8" width="8" height="2.7" fill="#0c14ff"/><rect x="722.2" y="154.8" width="5.4" height="2.7" fill="#0c0cff"/><rect x="551.9" y="157.5" width="2.7" height="2.7" fill="#0c1cff"/><rect x="554.6" y="157.5" width="2.7" height="2.7" fill="#1464ff"/><rect x="557.3" y="157.5" width="2.7" height="2.7" fill="#24ecff"/><rect x="559.9" y="157.5" width="2.7" height="2.7" fill="#d4ff64"/><rect x="562.6" y="157.5" width="2.7" height="2.7" fill="#ffc414"/><rect x="565.2" y="157.5" width="2.7" height="2.7" fill="#ff940c"/><rect x="567.9" y="157.5" width="2.7" height="2.7" fill="#ff9c0c"/><rect x="570.6" y="157.5" width="2.7" height="2.7" fill="#ffcc1c"/><rect x="573.2" y="157.5" width="2.7" height="2.7" fill="#ccff6c"/><rect x="575.9" y="157.5" width="2.7" height="2.7" fill="#1ce4ff"/><rect x="578.5" y="157.5" width="2.7" height="2.7" fill="#145cff"/><rect x="581.2" y="157.5" width="2.7" height="2.7" fill="#0c14ff"/><rect x="605.1" y="157.5" width="13.4" height="2.7" fill="#0c0cff"/><rect x="634.4" y="157.5" width="2.7" height="2.7" fill="#0c0cff"/><rect x="637.1" y="157.5" width="2.7" height="2.7" fill="#0c14ff"/><rect x="639.7" y="157.5" width="2.7" height="2.7" fill="#0c1cff"/><rect x="642.4" y="157.5" width="2.7" height="2.7" fill="#0c24ff"/><rect x="645" y="157.5" width="2.7" height="2.7" fill="#0c2cff"/><rect x="647.7" y="157.5" width="2.7" height="2.7" fill="#0c24ff"/><rect x="650.4" y="157.5" width="2.7" height="2.7" fill="#0c1cff"/><rect x="653" y="157.5" width="2.7" height="2.7" fill="#0c0cff"/><rect x="674.3" y="157.5" width="2.7" height="2.7" fill="#0c0cff"/><rect x="677" y="157.5" width="2.7" height="2.7" fill="#0c14ff"/><rect x="679.6" y="157.5" width="2.7" height="2.7" fill="#0c1cff"/><rect x="682.3" y="157.5" width="2.7" height="2.7" fill="#0c24ff"/><rect x="684.9" y="157.5" width="2.7" height="2.7" fill="#142cff"/><rect x="687.6" y="157.5" width="8" height="2.7" fill="#1434ff"/><rect x="695.6" y="157.5" width="2.7" height="2.7" fill="#142cff"/><rect x="698.2" y="157.5" width="2.7" height="2.7" fill="#0c24ff"/><rect x="700.9" y="157.5" width="2.7" height="2.7" fill="#0c14ff"/><rect x="703.6" y="157.5" width="5.4" height="2.7" fill="#0c0cff"/><rect x="708.9" y="157.5" width="2.7" height="2.7" fill="#0c14ff"/><rect x="711.5" y="157.5" width="10.7" height="2.7" fill="#0c1cff"/><rect x="722.2" y="157.5" width="2.7" height="2.7" fill="#0c14ff"/><rect x="724.8" y="157.5" width="5.4" height="2.7" fill="#0c0cff"/><rect x="551.9" y="160.2" width="2.7" height="2.7" fill="#0c2cff"/><rect x="554.6" y="160.2" width="2.7" height="2.7" fill="#1494ff"/><rect x="557.3" y="160.2" width="2.7" height="2.7" fill="#8cffb4"/><rect x="559.9" y="160.2" width="2.7" height="2.7" fill="#ffd41c"/><rect x="562.6" y="160.2" width="2.7" height="2.7" fill="#ff740c"/><rect x="565.2" y="160.2" width="5.4" height="2.7" fill="#ff4404"/><rect x="570.6" y="160.2" width="2.7" height="2.7" fill="#ff7c0c"/><rect x="573.2" y="160.2" width="2.7" height="2.7" fill="#ffdc1c"/><rect x="575.9" y="160.2" width="2.7" height="2.7" fill="#7cfcc4"/><rect x="578.5" y="160.2" width="2.7" height="2.7" fill="#1484ff"/><rect x="581.2" y="160.2" width="2.7" height="2.7" fill="#0c24ff"/><rect x="599.8" y="160.2" width="8" height="2.7" fill="#0c0cff"/><rect x="607.8" y="160.2" width="5.4" height="2.7" fill="#0c14ff"/><rect x="613.1" y="160.2" width="8" height="2.7" fill="#0c0cff"/><rect x="631.7" y="160.2" width="2.7" height="2.7" fill="#0c0cff"/><rect x="634.4" y="160.2" width="2.7" height="2.7" fill="#0c1cff"/><rect x="637.1" y="160.2" width="2.7" height="2.7" fill="#1434ff"/><rect x="639.7" y="160.2" width="2.7" height="2.7" fill="#1444ff"/><rect x="642.4" y="160.2" width="2.7" height="2.7" fill="#1454ff"/><rect x="645" y="160.2" width="2.7" height="2.7" fill="#145cff"/><rect x="647.7" y="160.2" width="2.7" height="2.7" fill="#144cff"/><rect x="650.4" y="160.2" width="2.7" height="2.7" fill="#143cff"/><rect x="653" y="160.2" width="2.7" height="2.7" fill="#0c24ff"/><rect x="655.7" y="160.2" width="2.7" height="2.7" fill="#0c14ff"/><rect x="674.3" y="160.2" width="2.7" height="2.7" fill="#0c0cff"/><rect x="677" y="160.2" width="2.7" height="2.7" fill="#0c14ff"/><rect x="679.6" y="160.2" width="2.7" height="2.7" fill="#0c1cff"/><rect x="682.3" y="160.2" width="2.7" height="2.7" fill="#0c24ff"/><rect x="684.9" y="160.2" width="2.7" height="2.7" fill="#142cff"/><rect x="687.6" y="160.2" width="8" height="2.7" fill="#1434ff"/><rect x="695.6" y="160.2" width="2.7" height="2.7" fill="#142cff"/><rect x="698.2" y="160.2" width="2.7" height="2.7" fill="#0c24ff"/><rect x="700.9" y="160.2" width="2.7" height="2.7" fill="#0c1cff"/><rect x="703.6" y="160.2" width="5.4" height="2.7" fill="#0c14ff"/><rect x="708.9" y="160.2" width="2.7" height="2.7" fill="#0c1cff"/><rect x="711.5" y="160.2" width="10.7" height="2.7" fill="#0c24ff"/><rect x="722.2" y="160.2" width="2.7" height="2.7" fill="#0c1cff"/><rect x="724.8" y="160.2" width="2.7" height="2.7" fill="#0c14ff"/><rect x="727.5" y="160.2" width="5.4" height="2.7" fill="#0c0cff"/><rect x="551.9" y="162.8" width="2.7" height="2.7" fill="#142cff"/><rect x="554.6" y="162.8" width="2.7" height="2.7" fill="#14a4ff"/><rect x="557.3" y="162.8" width="2.7" height="2.7" fill="#acffa4"/><rect x="559.9" y="162.8" width="2.7" height="2.7" fill="#ffbc14"/><rect x="562.6" y="162.8" width="2.7" height="2.7" fill="#ff5c04"/><rect x="565.2" y="162.8" width="5.4" height="2.7" fill="#ff2c04"/><rect x="570.6" y="162.8" width="2.7" height="2.7" fill="#ff640c"/><rect x="573.2" y="162.8" width="2.7" height="2.7" fill="#ffcc14"/><rect x="575.9" y="162.8" width="2.7" height="2.7" fill="#94ffac"/><rect x="578.5" y="162.8" width="2.7" height="2.7" fill="#1494ff"/><rect x="581.2" y="162.8" width="2.7" height="2.7" fill="#0c2cff"/><rect x="597.2" y="162.8" width="5.4" height="2.7" fill="#0c0cff"/><rect x="602.5" y="162.8" width="5.4" height="2.7" fill="#0c14ff"/><rect x="607.8" y="162.8" width="5.4" height="2.7" fill="#0c1cff"/><rect x="613.1" y="162.8" width="5.4" height="2.7" fill="#0c14ff"/><rect x="618.4" y="162.8" width="5.4" height="2.7" fill="#0c0cff"/><rect x="629.1" y="162.8" width="2.7" height="2.7" fill="#0c0cff"/><rect x="631.7" y="162.8" width="2.7" height="2.7" fill="#0c1cff"/><rect x="634.4" y="162.8" width="2.7" height="2.7" fill="#143cff"/><rect x="637.1" y="162.8" width="2.7" height="2.7" fill="#145cff"/><rect x="639.7" y="162.8" width="2.7" height="2.7" fill="#147cff"/><rect x="642.4" y="162.8" width="5.4" height="2.7" fill="#1494ff"/><rect x="647.7" y="162.8" width="2.7" height="2.7" fill="#1484ff"/><rect x="650.4" y="162.8" width="2.7" height="2.7" fill="#146cff"/><rect x="653" y="162.8" width="2.7" height="2.7" fill="#1444ff"/><rect x="655.7" y="162.8" width="2.7" height="2.7" fill="#0c24ff"/><rect x="658.3" y="162.8" width="2.7" height="2.7" fill="#0c0cff"/><rect x="674.3" y="162.8" width="2.7" height="2.7" fill="#0c0cff"/><rect x="677" y="162.8" width="2.7" height="2.7" fill="#0c14ff"/><rect x="679.6" y="162.8" width="2.7" height="2.7" fill="#0c1cff"/><rect x="682.3" y="162.8" width="2.7" height="2.7" fill="#0c24ff"/><rect x="684.9" y="162.8" width="2.7" height="2.7" fill="#142cff"/><rect x="687.6" y="162.8" width="8" height="2.7" fill="#1434ff"/><rect x="695.6" y="162.8" width="2.7" height="2.7" fill="#0c2cff"/><rect x="698.2" y="162.8" width="2.7" height="2.7" fill="#0c24ff"/><rect x="700.9" y="162.8" width="2.7" height="2.7" fill="#0c1cff"/><rect x="703.6" y="162.8" width="2.7" height="2.7" fill="#0c14ff"/><rect x="706.2" y="162.8" width="2.7" height="2.7" fill="#0c1cff"/><rect x="708.9" y="162.8" width="2.7" height="2.7" fill="#0c24ff"/><rect x="711.5" y="162.8" width="2.7" height="2.7" fill="#142cff"/><rect x="714.2" y="162.8" width="5.4" height="2.7" fill="#1434ff"/><rect x="719.5" y="162.8" width="2.7" height="2.7" fill="#142cff"/><rect x="722.2" y="162.8" width="2.7" height="2.7" fill="#0c24ff"/><rect x="724.8" y="162.8" width="2.7" height="2.7" fill="#0c1cff"/><rect x="727.5" y="162.8" width="2.7" height="2.7" fill="#0c14ff"/><rect x="730.2" y="162.8" width="2.7" height="2.7" fill="#0c0cff"/><rect x="551.9" y="165.5" width="2.7" height="2.7" fill="#0c24ff"/><rect x="554.6" y="165.5" width="2.7" height="2.7" fill="#148cff"/><rect x="557.3" y="165.5" width="2.7" height="2.7" fill="#7cfcc4"/><rect x="559.9" y="165.5" width="2.7" height="2.7" fill="#ffdc1c"/><rect x="562.6" y="165.5" width="2.7" height="2.7" fill="#ff840c"/><rect x="565.2" y="165.5" width="2.7" height="2.7" fill="#ff4c04"/><rect x="567.9" y="165.5" width="2.7" height="2.7" fill="#ff5404"/><rect x="570.6" y="165.5" width="2.7" height="2.7" fill="#ff840c"/><rect x="573.2" y="165.5" width="2.7" height="2.7" fill="#ffe424"/><rect x="575.9" y="165.5" width="2.7" height="2.7" fill="#6cf4cc"/><rect x="578.5" y="165.5" width="2.7" height="2.7" fill="#1484ff"/><rect x="581.2" y="165.5" width="2.7" height="2.7" fill="#0c24ff"/><rect x="594.5" y="165.5" width="5.4" height="2.7" fill="#0c0cff"/><rect x="599.8" y="165.5" width="2.7" height="2.7" fill="#0c14ff"/><rect x="602.5" y="165.5" width="5.4" height="2.7" fill="#0c1cff"/><rect x="607.8" y="165.5" width="5.4" height="2.7" fill="#0c24ff"/><rect x="613.1" y="165.5" width="5.4" height="2.7" fill="#0c1cff"/><rect x="618.4" y="165.5" width="2.7" height="2.7" fill="#0c14ff"/><rect x="621.1" y="165.5" width="5.4" height="2.7" fill="#0c0cff"/><rect x="629.1" y="165.5" width="2.7" height="2.7" fill="#0c14ff"/><rect x="631.7" y="165.5" width="2.7" height="2.7" fill="#142cff"/><rect x="634.4" y="165.5" width="2.7" height="2.7" fill="#1454ff"/><rect x="637.1" y="165.5" width="2.7" height="2.7" fill="#148cff"/><rect x="639.7" y="165.5" width="2.7" height="2.7" fill="#1cb4ff"/><rect x="642.4" y="165.5" width="5.4" height="2.7" fill="#1cd4ff"/><rect x="647.7" y="165.5" width="2.7" height="2.7" fill="#1cc4ff"/><rect x="650.4" y="165.5" width="2.7" height="2.7" fill="#1494ff"/><rect x="653" y="165.5" width="2.7" height="2.7" fill="#146cff"/><rect x="655.7" y="165.5" width="2.7" height="2.7" fill="#143cff"/><rect x="658.3" y="165.5" width="2.7" height="2.7" fill="#0c1cff"/><rect x="661" y="165.5" width="2.7" height="2.7" fill="#0c0cff"/><rect x="677" y="165.5" width="2.7" height="2.7" fill="#0c0cff"/><rect x="679.6" y="165.5" width="2.7" height="2.7" fill="#0c14ff"/><rect x="682.3" y="165.5" width="2.7" height="2.7" fill="#0c1cff"/><rect x="684.9" y="165.5" width="2.7" height="2.7" fill="#0c24ff"/><rect x="687.6" y="165.5" width="5.4" height="2.7" fill="#142cff"/><rect x="692.9" y="165.5" width="2.7" height="2.7" fill="#0c2cff"/><rect x="695.6" y="165.5" width="2.7" height="2.7" fill="#0c24ff"/><rect x="698.2" y="165.5" width="2.7" height="2.7" fill="#0c1cff"/><rect x="700.9" y="165.5" width="5.4" height="2.7" fill="#0c14ff"/><rect x="706.2" y="165.5" width="2.7" height="2.7" fill="#0c1cff"/><rect x="708.9" y="165.5" width="2.7" height="2.7" fill="#0c2cff"/><rect x="711.5" y="165.5" width="10.7" height="2.7" fill="#1434ff"/><rect x="722.2" y="165.5" width="2.7" height="2.7" fill="#0c2cff"/><rect x="724.8" y="165.5" width="2.7" height="2.7" fill="#0c24ff"/><rect x="727.5" y="165.5" width="2.7" height="2.7" fill="#0c14ff"/><rect x="730.2" y="165.5" width="2.7" height="2.7" fill="#0c0cff"/><rect x="551.9" y="168.1" width="2.7" height="2.7" fill="#0c14ff"/><rect x="554.6" y="168.1" width="2.7" height="2.7" fill="#145cff"/><rect x="557.3" y="168.1" width="2.7" height="2.7" fill="#1cdcff"/><rect x="559.9" y="168.1" width="2.7" height="2.7" fill="#c4ff84"/><rect x="562.6" y="168.1" width="2.7" height="2.7" fill="#ffdc1c"/><rect x="565.2" y="168.1" width="5.4" height="2.7" fill="#ffac0c"/><rect x="570.6" y="168.1" width="2.7" height="2.7" fill="#ffdc1c"/><rect x="573.2" y="168.1" width="2.7" height="2.7" fill="#b4ff8c"/><rect x="575.9" y="168.1" width="2.7" height="2.7" fill="#1cd4ff"/><rect x="578.5" y="168.1" width="2.7" height="2.7" fill="#1454ff"/><rect x="581.2" y="168.1" width="2.7" height="2.7" fill="#0c14ff"/><rect x="594.5" y="168.1" width="2.7" height="2.7" fill="#0c0cff"/><rect x="597.2" y="168.1" width="2.7" height="2.7" fill="#0c14ff"/><rect x="599.8" y="168.1" width="5.4" height="2.7" fill="#0c1cff"/><rect x="605.1" y="168.1" width="2.7" height="2.7" fill="#0c24ff"/><rect x="607.8" y="168.1" width="5.4" height="2.7" fill="#0c2cff"/><rect x="613.1" y="168.1" width="5.4" height="2.7" fill="#0c24ff"/><rect x="618.4" y="168.1" width="2.7" height="2.7" fill="#0c1cff"/><rect x="621.1" y="168.1" width="2.7" height="2.7" fill="#0c14ff"/><rect x="623.8" y="168.1" width="2.7" height="2.7" fill="#0c0cff"/><rect x="629.1" y="168.1" width="2.7" height="2.7" fill="#0c14ff"/><rect x="631.7" y="168.1" width="2.7" height="2.7" fill="#143cff"/><rect x="634.4" y="168.1" width="2.7" height="2.7" fill="#1474ff"/><rect x="637.1" y="168.1" width="2.7" height="2.7" fill="#14acff"/><rect x="639.7" y="168.1" width="2.7" height="2.7" fill="#1ce4ff"/><rect x="642.4" y="168.1" width="2.7" height="2.7" fill="#3cecec"/><rect x="645" y="168.1" width="2.7" height="2.7" fill="#44f4ec"/><rect x="647.7" y="168.1" width="2.7" height="2.7" fill="#24ecff"/><rect x="650.4" y="168.1" width="2.7" height="2.7" fill="#1cbcff"/><rect x="653" y="168.1" width="2.7" height="2.7" fill="#1484ff"/><rect x="655.7" y="168.1" width="2.7" height="2.7" fill="#144cff"/><rect x="658.3" y="168.1" width="2.7" height="2.7" fill="#0c24ff"/><rect x="661" y="168.1" width="2.7" height="2.7" fill="#0c0cff"/><rect x="677" y="168.1" width="2.7" height="2.7" fill="#0c0cff"/><rect x="679.6" y="168.1" width="5.4" height="2.7" fill="#0c14ff"/><rect x="684.9" y="168.1" width="2.7" height="2.7" fill="#0c1cff"/><rect x="687.6" y="168.1" width="8" height="2.7" fill="#0c24ff"/><rect x="695.6" y="168.1" width="2.7" height="2.7" fill="#0c1cff"/><rect x="698.2" y="168.1" width="8" height="2.7" fill="#0c14ff"/><rect x="706.2" y="168.1" width="2.7" height="2.7" fill="#0c1cff"/><rect x="708.9" y="168.1" width="2.7" height="2.7" fill="#0c2cff"/><rect x="711.5" y="168.1" width="10.7" height="2.7" fill="#1434ff"/><rect x="722.2" y="168.1" width="2.7" height="2.7" fill="#142cff"/><rect x="724.8" y="168.1" width="2.7" height="2.7" fill="#0c24ff"/><rect x="727.5" y="168.1" width="2.7" height="2.7" fill="#0c14ff"/><rect x="730.2" y="168.1" width="5.4" height="2.7" fill="#0c0cff"/><rect x="551.9" y="170.8" width="2.7" height="2.7" fill="#0c0cff"/><rect x="554.6" y="170.8" width="2.7" height="2.7" fill="#0c2cff"/><rect x="557.3" y="170.8" width="2.7" height="2.7" fill="#1474ff"/><rect x="559.9" y="170.8" width="2.7" height="2.7" fill="#1cdcff"/><rect x="562.6" y="170.8" width="2.7" height="2.7" fill="#84ffbc"/><rect x="565.2" y="170.8" width="5.4" height="2.7" fill="#bcff84"/><rect x="570.6" y="170.8" width="2.7" height="2.7" fill="#7cfcbc"/><rect x="573.2" y="170.8" width="2.7" height="2.7" fill="#1cd4ff"/><rect x="575.9" y="170.8" width="2.7" height="2.7" fill="#146cff"/><rect x="578.5" y="170.8" width="2.7" height="2.7" fill="#0c24ff"/><rect x="594.5" y="170.8" width="2.7" height="2.7" fill="#0c0cff"/><rect x="597.2" y="170.8" width="2.7" height="2.7" fill="#0c14ff"/><rect x="599.8" y="170.8" width="2.7" height="2.7" fill="#0c1cff"/><rect x="602.5" y="170.8" width="2.7" height="2.7" fill="#0c24ff"/><rect x="605.1" y="170.8" width="2.7" height="2.7" fill="#0c2cff"/><rect x="607.8" y="170.8" width="5.4" height="2.7" fill="#142cff"/><rect x="613.1" y="170.8" width="2.7" height="2.7" fill="#0c2cff"/><rect x="615.8" y="170.8" width="2.7" height="2.7" fill="#0c24ff"/><rect x="618.4" y="170.8" width="2.7" height="2.7" fill="#0c1cff"/><rect x="621.1" y="170.8" width="2.7" height="2.7" fill="#0c14ff"/><rect x="623.8" y="170.8" width="5.4" height="2.7" fill="#0c0cff"/><rect x="629.1" y="170.8" width="2.7" height="2.7" fill="#0c1cff"/><rect x="631.7" y="170.8" width="2.7" height="2.7" fill="#1444ff"/><rect x="634.4" y="170.8" width="2.7" height="2.7" fill="#147cff"/><rect x="637.1" y="170.8" width="2.7" height="2.7" fill="#1cbcff"/><rect x="639.7" y="170.8" width="2.7" height="2.7" fill="#24ecfc"/><rect x="642.4" y="170.8" width="2.7" height="2.7" fill="#54f4dc"/><rect x="645" y="170.8" width="2.7" height="2.7" fill="#5cf4dc"/><rect x="647.7" y="170.8" width="2.7" height="2.7" fill="#3cecec"/><rect x="650.4" y="170.8" width="2.7" height="2.7" fill="#1cccff"/><rect x="653" y="170.8" width="2.7" height="2.7" fill="#148cff"/><rect x="655.7" y="170.8" width="2.7" height="2.7" fill="#1454ff"/><rect x="658.3" y="170.8" width="2.7" height="2.7" fill="#0c24ff"/><rect x="661" y="170.8" width="2.7" height="2.7" fill="#0c0cff"/><rect x="679.6" y="170.8" width="5.4" height="2.7" fill="#0c0cff"/><rect x="684.9" y="170.8" width="5.4" height="2.7" fill="#0c14ff"/><rect x="690.3" y="170.8" width="2.7" height="2.7" fill="#0c1cff"/><rect x="692.9" y="170.8" width="5.4" height="2.7" fill="#0c14ff"/><rect x="698.2" y="170.8" width="5.4" height="2.7" fill="#0c0cff"/><rect x="703.6" y="170.8" width="2.7" height="2.7" fill="#0c14ff"/><rect x="706.2" y="170.8" width="2.7" height="2.7" fill="#0c1cff"/><rect x="708.9" y="170.8" width="2.7" height="2.7" fill="#0c24ff"/><rect x="711.5" y="170.8" width="2.7" height="2.7" fill="#142cff"/><rect x="714.2" y="170.8" width="5.4" height="2.7" fill="#1434ff"/><rect x="719.5" y="170.8" width="2.7" height="2.7" fill="#142cff"/><rect x="722.2" y="170.8" width="2.7" height="2.7" fill="#0c2cff"/><rect x="724.8" y="170.8" width="2.7" height="2.7" fill="#0c1cff"/><rect x="727.5" y="170.8" width="2.7" height="2.7" fill="#0c14ff"/><rect x="730.2" y="170.8" width="2.7" height="2.7" fill="#0c0cff"/><rect x="554.6" y="173.5" width="2.7" height="2.7" fill="#0c0cff"/><rect x="557.3" y="173.5" width="2.7" height="2.7" fill="#0c24ff"/><rect x="559.9" y="173.5" width="2.7" height="2.7" fill="#1454ff"/><rect x="562.6" y="173.5" width="2.7" height="2.7" fill="#148cff"/><rect x="565.2" y="173.5" width="5.4" height="2.7" fill="#14acff"/><rect x="570.6" y="173.5" width="2.7" height="2.7" fill="#1484ff"/><rect x="573.2" y="173.5" width="2.7" height="2.7" fill="#1454ff"/><rect x="575.9" y="173.5" width="2.7" height="2.7" fill="#0c24ff"/><rect x="578.5" y="173.5" width="2.7" height="2.7" fill="#0c0cff"/><rect x="594.5" y="173.5" width="2.7" height="2.7" fill="#0c0cff"/><rect x="597.2" y="173.5" width="2.7" height="2.7" fill="#0c14ff"/><rect x="599.8" y="173.5" width="2.7" height="2.7" fill="#0c1cff"/><rect x="602.5" y="173.5" width="2.7" height="2.7" fill="#0c24ff"/><rect x="605.1" y="173.5" width="2.7" height="2.7" fill="#0c2cff"/><rect x="607.8" y="173.5" width="5.4" height="2.7" fill="#142cff"/><rect x="613.1" y="173.5" width="2.7" height="2.7" fill="#0c2cff"/><rect x="615.8" y="173.5" width="2.7" height="2.7" fill="#0c24ff"/><rect x="618.4" y="173.5" width="2.7" height="2.7" fill="#0c1cff"/><rect x="621.1" y="173.5" width="2.7" height="2.7" fill="#0c14ff"/><rect x="623.8" y="173.5" width="2.7" height="2.7" fill="#0c0cff"/><rect x="629.1" y="173.5" width="2.7" height="2.7" fill="#0c1cff"/><rect x="631.7" y="173.5" width="2.7" height="2.7" fill="#143cff"/><rect x="634.4" y="173.5" width="2.7" height="2.7" fill="#1474ff"/><rect x="637.1" y="173.5" width="2.7" height="2.7" fill="#14b4ff"/><rect x="639.7" y="173.5" width="2.7" height="2.7" fill="#1ce4ff"/><rect x="642.4" y="173.5" width="2.7" height="2.7" fill="#44f4e4"/><rect x="645" y="173.5" width="2.7" height="2.7" fill="#4cf4e4"/><rect x="647.7" y="173.5" width="2.7" height="2.7" fill="#2cecf4"/><rect x="650.4" y="173.5" width="2.7" height="2.7" fill="#1cc4ff"/><rect x="653" y="173.5" width="2.7" height="2.7" fill="#1484ff"/><rect x="655.7" y="173.5" width="2.7" height="2.7" fill="#144cff"/><rect x="658.3" y="173.5" width="2.7" height="2.7" fill="#0c24ff"/><rect x="661" y="173.5" width="2.7" height="2.7" fill="#0c0cff"/><rect x="682.3" y="173.5" width="24" height="2.7" fill="#0c0cff"/><rect x="706.2" y="173.5" width="2.7" height="2.7" fill="#0c14ff"/><rect x="708.9" y="173.5" width="2.7" height="2.7" fill="#0c1cff"/><rect x="711.5" y="173.5" width="2.7" height="2.7" fill="#0c24ff"/><rect x="714.2" y="173.5" width="5.4" height="2.7" fill="#0c2cff"/><rect x="719.5" y="173.5" width="5.4" height="2.7" fill="#0c24ff"/><rect x="724.8" y="173.5" width="2.7" height="2.7" fill="#0c1cff"/><rect x="727.5" y="173.5" width="2.7" height="2.7" fill="#0c14ff"/><rect x="730.2" y="173.5" width="2.7" height="2.7" fill="#0c0cff"/><rect x="559.9" y="176.1" width="2.7" height="2.7" fill="#0c14ff"/><rect x="562.6" y="176.1" width="2.7" height="2.7" fill="#0c24ff"/><rect x="565.2" y="176.1" width="5.4" height="2.7" fill="#142cff"/><rect x="570.6" y="176.1" width="2.7" height="2.7" fill="#0c24ff"/><rect x="573.2" y="176.1" width="2.7" height="2.7" fill="#0c14ff"/><rect x="594.5" y="176.1" width="2.7" height="2.7" fill="#0c0cff"/><rect x="597.2" y="176.1" width="2.7" height="2.7" fill="#0c14ff"/><rect x="599.8" y="176.1" width="2.7" height="2.7" fill="#0c1cff"/><rect x="602.5" y="176.1" width="5.4" height="2.7" fill="#0c24ff"/><rect x="607.8" y="176.1" width="5.4" height="2.7" fill="#0c2cff"/><rect x="613.1" y="176.1" width="5.4" height="2.7" fill="#0c24ff"/><rect x="618.4" y="176.1" width="2.7" height="2.7" fill="#0c1cff"/><rect x="621.1" y="176.1" width="2.7" height="2.7" fill="#0c14ff"/><rect x="623.8" y="176.1" width="2.7" height="2.7" fill="#0c0cff"/><rect x="629.1" y="176.1" width="2.7" height="2.7" fill="#0c14ff"/><rect x="631.7" y="176.1" width="2.7" height="2.7" fill="#1434ff"/><rect x="634.4" y="176.1" width="2.7" height="2.7" fill="#145cff"/><rect x="637.1" y="176.1" width="2.7" height="2.7" fill="#148cff"/><rect x="639.7" y="176.1" width="2.7" height="2.7" fill="#1cc4ff"/><rect x="642.4" y="176.1" width="2.7" height="2.7" fill="#1cdcff"/><rect x="645" y="176.1" width="2.7" height="2.7" fill="#1ce4ff"/><rect x="647.7" y="176.1" width="2.7" height="2.7" fill="#1cccff"/><rect x="650.4" y="176.1" width="2.7" height="2.7" fill="#14a4ff"/><rect x="653" y="176.1" width="2.7" height="2.7" fill="#146cff"/><rect x="655.7" y="176.1" width="2.7" height="2.7" fill="#143cff"/><rect x="658.3" y="176.1" width="2.7" height="2.7" fill="#0c1cff"/><rect x="661" y="176.1" width="2.7" height="2.7" fill="#0c0cff"/><rect x="687.6" y="176.1" width="5.4" height="2.7" fill="#0c0cff"/><rect x="703.6" y="176.1" width="2.7" height="2.7" fill="#0c0cff"/><rect x="706.2" y="176.1" width="5.4" height="2.7" fill="#0c14ff"/><rect x="711.5" y="176.1" width="13.4" height="2.7" fill="#0c1cff"/><rect x="724.8" y="176.1" width="2.7" height="2.7" fill="#0c14ff"/><rect x="727.5" y="176.1" width="2.7" height="2.7" fill="#0c0cff"/><rect x="594.5" y="178.8" width="5.4" height="2.7" fill="#0c0cff"/><rect x="599.8" y="178.8" width="2.7" height="2.7" fill="#0c14ff"/><rect x="602.5" y="178.8" width="5.4" height="2.7" fill="#0c1cff"/><rect x="607.8" y="178.8" width="8" height="2.7" fill="#0c24ff"/><rect x="615.8" y="178.8" width="2.7" height="2.7" fill="#0c1cff"/><rect x="618.4" y="178.8" width="2.7" height="2.7" fill="#0c14ff"/><rect x="621.1" y="178.8" width="5.4" height="2.7" fill="#0c0cff"/><rect x="629.1" y="178.8" width="2.7" height="2.7" fill="#0c0cff"/><rect x="631.7" y="178.8" width="2.7" height="2.7" fill="#0c1cff"/><rect x="634.4" y="178.8" width="2.7" height="2.7" fill="#143cff"/><rect x="637.1" y="178.8" width="2.7" height="2.7" fill="#1464ff"/><rect x="639.7" y="178.8" width="2.7" height="2.7" fill="#148cff"/><rect x="642.4" y="178.8" width="2.7" height="2.7" fill="#149cff"/><rect x="645" y="178.8" width="2.7" height="2.7" fill="#14a4ff"/><rect x="647.7" y="178.8" width="2.7" height="2.7" fill="#1494ff"/><rect x="650.4" y="178.8" width="2.7" height="2.7" fill="#1474ff"/><rect x="653" y="178.8" width="2.7" height="2.7" fill="#144cff"/><rect x="655.7" y="178.8" width="2.7" height="2.7" fill="#0c2cff"/><rect x="658.3" y="178.8" width="2.7" height="2.7" fill="#0c14ff"/><rect x="706.2" y="178.8" width="5.4" height="2.7" fill="#0c0cff"/><rect x="711.5" y="178.8" width="10.7" height="2.7" fill="#0c14ff"/><rect x="722.2" y="178.8" width="8" height="2.7" fill="#0c0cff"/><rect x="597.2" y="181.4" width="5.4" height="2.7" fill="#0c0cff"/><rect x="602.5" y="181.4" width="2.7" height="2.7" fill="#0c14ff"/><rect x="605.1" y="181.4" width="10.7" height="2.7" fill="#0c1cff"/><rect x="615.8" y="181.4" width="2.7" height="2.7" fill="#0c14ff"/><rect x="618.4" y="181.4" width="5.4" height="2.7" fill="#0c0cff"/><rect x="631.7" y="181.4" width="2.7" height="2.7" fill="#0c0cff"/><rect x="634.4" y="181.4" width="2.7" height="2.7" fill="#0c24ff"/><rect x="637.1" y="181.4" width="2.7" height="2.7" fill="#143cff"/><rect x="639.7" y="181.4" width="2.7" height="2.7" fill="#1454ff"/><rect x="642.4" y="181.4" width="5.4" height="2.7" fill="#1464ff"/><rect x="647.7" y="181.4" width="2.7" height="2.7" fill="#145cff"/><rect x="650.4" y="181.4" width="2.7" height="2.7" fill="#1444ff"/><rect x="653" y="181.4" width="2.7" height="2.7" fill="#0c2cff"/><rect x="655.7" y="181.4" width="2.7" height="2.7" fill="#0c14ff"/><rect x="658.3" y="181.4" width="2.7" height="2.7" fill="#0c0cff"/><rect x="708.9" y="181.4" width="16" height="2.7" fill="#0c0cff"/><rect x="599.8" y="184.1" width="5.4" height="2.7" fill="#0c0cff"/><rect x="605.1" y="184.1" width="10.7" height="2.7" fill="#0c14ff"/><rect x="615.8" y="184.1" width="5.4" height="2.7" fill="#0c0cff"/><rect x="634.4" y="184.1" width="2.7" height="2.7" fill="#0c0cff"/><rect x="637.1" y="184.1" width="2.7" height="2.7" fill="#0c1cff"/><rect x="639.7" y="184.1" width="2.7" height="2.7" fill="#0c24ff"/><rect x="642.4" y="184.1" width="2.7" height="2.7" fill="#142cff"/><rect x="645" y="184.1" width="2.7" height="2.7" fill="#1434ff"/><rect x="647.7" y="184.1" width="2.7" height="2.7" fill="#0c2cff"/><rect x="650.4" y="184.1" width="2.7" height="2.7" fill="#0c1cff"/><rect x="653" y="184.1" width="2.7" height="2.7" fill="#0c14ff"/><rect x="655.7" y="184.1" width="2.7" height="2.7" fill="#0c0cff"/><rect x="602.5" y="186.8" width="16" height="2.7" fill="#0c0cff"/><rect x="637.1" y="186.8" width="8" height="2.7" fill="#0c0cff"/><rect x="645" y="186.8" width="2.7" height="2.7" fill="#0c14ff"/><rect x="647.7" y="186.8" width="5.4" height="2.7" fill="#0c0cff"/></g>
<use href="#riv" transform="translate(461.5,37.8) scale(1,1)"/>
<use href="#legend" transform="translate(461.5,37.8) scale(1,1)"/>
</g>
<path d="M461 37.8 H815" stroke="#aaa" stroke-width="1.2"/>
<path d="M814.5 37.3 V249.6" stroke="#000" stroke-width="1.2"/>
<path d="M461 249.1 H815" stroke="#000" stroke-width="1.2"/>
<path d="M461.5 37.3 V249.6" stroke="#000" stroke-width="1.05"/>
<text class="t" x="476.5" y="51.1" stroke="#000" stroke-width="0.3" style="font-size:12.1px">B(8.0-7.4 ka)</text>
<text x="554" y="141.9" font-size="11.3" font-weight="bold" stroke="#000" stroke-width="0.3">Chinese Loess Plateau</text>
<text x="653.3" y="100.4" font-size="11.2" font-weight="bold" stroke="#000" stroke-width="0.3">The Yellow River</text>
<text x="578.4" y="166" font-size="11.4" font-weight="bold" fill="#f01010" stroke="#f01010" stroke-width="0.25">DDW</text>
<path d="M0,-3.2 L0.85,-1.05 3.1,-1 1.35,0.45 1.95,2.7 0,1.4 -1.95,2.7 -1.35,0.45 -3.1,-1 -0.85,-1.05Z" transform="translate(573.2,162.9)" fill="#d81010" stroke="#000" stroke-width="1.0" stroke-linejoin="miter"/>
<path d="M555.5 249.1 v2.4" stroke="#000" stroke-width="1"/>
<g transform="translate(555.8,260.4) scale(1.33,1)"><text x="0" y="0" font-size="8.3" font-weight="bold" stroke="#000" stroke-width="0.2" text-anchor="middle">105°E</text></g>
<path d="M655.5 249.1 v2.4" stroke="#000" stroke-width="1"/>
<g transform="translate(655.8,260.4) scale(1.33,1)"><text x="0" y="0" font-size="8.3" font-weight="bold" stroke="#000" stroke-width="0.2" text-anchor="middle">110°E</text></g>
<path d="M755.5 249.1 v2.4" stroke="#000" stroke-width="1"/>
<g transform="translate(755.8,260.4) scale(1.33,1)"><text x="0" y="0" font-size="8.3" font-weight="bold" stroke="#000" stroke-width="0.2" text-anchor="middle">115°E</text></g>
<path d="M814.5 75.5 h2.4" stroke="#000" stroke-width="1"/>
<g transform="translate(817.9,78.5) scale(1.33,1)"><text x="0" y="0" font-size="8.3" font-weight="bold" stroke="#000" stroke-width="0.2">40°N</text></g>
<path d="M814.5 162.7 h2.4" stroke="#000" stroke-width="1"/>
<g transform="translate(817.9,165.7) scale(1.33,1)"><text x="0" y="0" font-size="8.3" font-weight="bold" stroke="#000" stroke-width="0.2">35°N</text></g>
</g>
<g id="C">
<clipPath id="clipC"><rect x="56.6" y="327.5" width="353" height="211"/></clipPath>
<g clip-path="url(#clipC)">
<use href="#land" transform="translate(57.2,326.3) scale(1,1.004)"/>
<text x="174.4" y="455.8" font-size="11.4" font-weight="bold" fill="#f01010" stroke="#f01010" stroke-width="0.25">DDW</text>
<g shape-rendering="crispEdges"><rect x="157.7" y="439.2" width="8" height="2.7" fill="#0c0cff"/><rect x="152.4" y="441.9" width="2.7" height="2.7" fill="#0c14ff"/><rect x="155" y="441.9" width="2.7" height="2.7" fill="#0c2cff"/><rect x="157.7" y="441.9" width="2.7" height="2.7" fill="#1444ff"/><rect x="160.3" y="441.9" width="2.7" height="2.7" fill="#144cff"/><rect x="163" y="441.9" width="2.7" height="2.7" fill="#1444ff"/><rect x="165.7" y="441.9" width="2.7" height="2.7" fill="#142cff"/><rect x="168.3" y="441.9" width="2.7" height="2.7" fill="#0c14ff"/><rect x="149.7" y="444.5" width="2.7" height="2.7" fill="#0c1cff"/><rect x="152.4" y="444.5" width="2.7" height="2.7" fill="#1444ff"/><rect x="155" y="444.5" width="2.7" height="2.7" fill="#1484ff"/><rect x="157.7" y="444.5" width="2.7" height="2.7" fill="#1cb4ff"/><rect x="160.3" y="444.5" width="2.7" height="2.7" fill="#1cccff"/><rect x="163" y="444.5" width="2.7" height="2.7" fill="#1cb4ff"/><rect x="165.7" y="444.5" width="2.7" height="2.7" fill="#1484ff"/><rect x="168.3" y="444.5" width="2.7" height="2.7" fill="#144cff"/><rect x="171" y="444.5" width="2.7" height="2.7" fill="#0c1cff"/><rect x="234.8" y="444.5" width="10.7" height="2.7" fill="#0c0cff"/><rect x="304" y="444.5" width="5.4" height="2.7" fill="#0c0cff"/><rect x="309.3" y="444.5" width="5.4" height="2.7" fill="#0c14ff"/><rect x="314.6" y="444.5" width="5.4" height="2.7" fill="#0c0cff"/><rect x="147" y="447.2" width="2.7" height="2.7" fill="#0c14ff"/><rect x="149.7" y="447.2" width="2.7" height="2.7" fill="#1444ff"/><rect x="152.4" y="447.2" width="2.7" height="2.7" fill="#1494ff"/><rect x="155" y="447.2" width="2.7" height="2.7" fill="#34ecf4"/><rect x="157.7" y="447.2" width="2.7" height="2.7" fill="#8cffb4"/><rect x="160.3" y="447.2" width="2.7" height="2.7" fill="#acff9c"/><rect x="163" y="447.2" width="2.7" height="2.7" fill="#94ffb4"/><rect x="165.7" y="447.2" width="2.7" height="2.7" fill="#34ecf4"/><rect x="168.3" y="447.2" width="2.7" height="2.7" fill="#1494ff"/><rect x="171" y="447.2" width="2.7" height="2.7" fill="#1444ff"/><rect x="173.6" y="447.2" width="2.7" height="2.7" fill="#0c14ff"/><rect x="229.5" y="447.2" width="2.7" height="2.7" fill="#0c0cff"/><rect x="232.2" y="447.2" width="2.7" height="2.7" fill="#0c24ff"/><rect x="234.8" y="447.2" width="2.7" height="2.7" fill="#143cff"/><rect x="237.5" y="447.2" width="2.7" height="2.7" fill="#144cff"/><rect x="240.1" y="447.2" width="2.7" height="2.7" fill="#1454ff"/><rect x="242.8" y="447.2" width="2.7" height="2.7" fill="#1444ff"/><rect x="245.5" y="447.2" width="2.7" height="2.7" fill="#0c2cff"/><rect x="248.1" y="447.2" width="2.7" height="2.7" fill="#0c14ff"/><rect x="301.3" y="447.2" width="2.7" height="2.7" fill="#0c14ff"/><rect x="304" y="447.2" width="2.7" height="2.7" fill="#0c24ff"/><rect x="306.6" y="447.2" width="2.7" height="2.7" fill="#1434ff"/><rect x="309.3" y="447.2" width="5.4" height="2.7" fill="#143cff"/><rect x="314.6" y="447.2" width="2.7" height="2.7" fill="#1434ff"/><rect x="317.3" y="447.2" width="2.7" height="2.7" fill="#0c1cff"/><rect x="319.9" y="447.2" width="2.7" height="2.7" fill="#0c0cff"/><rect x="147" y="449.9" width="2.7" height="2.7" fill="#0c1cff"/><rect x="149.7" y="449.9" width="2.7" height="2.7" fill="#1464ff"/><rect x="152.4" y="449.9" width="2.7" height="2.7" fill="#1cdcff"/><rect x="155" y="449.9" width="2.7" height="2.7" fill="#a4ffa4"/><rect x="157.7" y="449.9" width="2.7" height="2.7" fill="#ecff44"/><rect x="160.3" y="449.9" width="2.7" height="2.7" fill="#fff424"/><rect x="163" y="449.9" width="2.7" height="2.7" fill="#ecff3c"/><rect x="165.7" y="449.9" width="2.7" height="2.7" fill="#a4ffa4"/><rect x="168.3" y="449.9" width="2.7" height="2.7" fill="#1cdcff"/><rect x="171" y="449.9" width="2.7" height="2.7" fill="#146cff"/><rect x="173.6" y="449.9" width="2.7" height="2.7" fill="#0c1cff"/><rect x="189.6" y="449.9" width="8" height="2.7" fill="#0c0cff"/><rect x="226.8" y="449.9" width="2.7" height="2.7" fill="#0c14ff"/><rect x="229.5" y="449.9" width="2.7" height="2.7" fill="#143cff"/><rect x="232.2" y="449.9" width="2.7" height="2.7" fill="#147cff"/><rect x="234.8" y="449.9" width="2.7" height="2.7" fill="#1cbcff"/><rect x="237.5" y="449.9" width="2.7" height="2.7" fill="#24ecff"/><rect x="240.1" y="449.9" width="2.7" height="2.7" fill="#2cecf4"/><rect x="242.8" y="449.9" width="2.7" height="2.7" fill="#1cd4ff"/><rect x="245.5" y="449.9" width="2.7" height="2.7" fill="#1494ff"/><rect x="248.1" y="449.9" width="2.7" height="2.7" fill="#1454ff"/><rect x="250.8" y="449.9" width="2.7" height="2.7" fill="#0c24ff"/><rect x="253.4" y="449.9" width="2.7" height="2.7" fill="#0c0cff"/><rect x="298.7" y="449.9" width="2.7" height="2.7" fill="#0c14ff"/><rect x="301.3" y="449.9" width="2.7" height="2.7" fill="#142cff"/><rect x="304" y="449.9" width="2.7" height="2.7" fill="#1454ff"/><rect x="306.6" y="449.9" width="2.7" height="2.7" fill="#1474ff"/><rect x="309.3" y="449.9" width="2.7" height="2.7" fill="#1484ff"/><rect x="312" y="449.9" width="2.7" height="2.7" fill="#147cff"/><rect x="314.6" y="449.9" width="2.7" height="2.7" fill="#146cff"/><rect x="317.3" y="449.9" width="2.7" height="2.7" fill="#1444ff"/><rect x="319.9" y="449.9" width="2.7" height="2.7" fill="#0c24ff"/><rect x="322.6" y="449.9" width="2.7" height="2.7" fill="#0c0cff"/><rect x="147" y="452.5" width="2.7" height="2.7" fill="#0c24ff"/><rect x="149.7" y="452.5" width="2.7" height="2.7" fill="#1474ff"/><rect x="152.4" y="452.5" width="2.7" height="2.7" fill="#24ecff"/><rect x="155" y="452.5" width="2.7" height="2.7" fill="#bcff8c"/><rect x="157.7" y="452.5" width="2.7" height="2.7" fill="#fff424"/><rect x="160.3" y="452.5" width="2.7" height="2.7" fill="#ffdc1c"/><rect x="163" y="452.5" width="2.7" height="2.7" fill="#fff424"/><rect x="165.7" y="452.5" width="2.7" height="2.7" fill="#bcff8c"/><rect x="168.3" y="452.5" width="2.7" height="2.7" fill="#24ecff"/><rect x="171" y="452.5" width="2.7" height="2.7" fill="#1474ff"/><rect x="173.6" y="452.5" width="2.7" height="2.7" fill="#0c24ff"/><rect x="181.6" y="452.5" width="2.7" height="2.7" fill="#0c0cff"/><rect x="184.3" y="452.5" width="2.7" height="2.7" fill="#0c14ff"/><rect x="186.9" y="452.5" width="2.7" height="2.7" fill="#0c1cff"/><rect x="189.6" y="452.5" width="2.7" height="2.7" fill="#0c24ff"/><rect x="192.3" y="452.5" width="2.7" height="2.7" fill="#0c2cff"/><rect x="194.9" y="452.5" width="2.7" height="2.7" fill="#0c24ff"/><rect x="197.6" y="452.5" width="2.7" height="2.7" fill="#0c1cff"/><rect x="200.2" y="452.5" width="2.7" height="2.7" fill="#0c14ff"/><rect x="202.9" y="452.5" width="2.7" height="2.7" fill="#0c0cff"/><rect x="224.2" y="452.5" width="2.7" height="2.7" fill="#0c0cff"/><rect x="226.8" y="452.5" width="2.7" height="2.7" fill="#143cff"/><rect x="229.5" y="452.5" width="2.7" height="2.7" fill="#1494ff"/><rect x="232.2" y="452.5" width="2.7" height="2.7" fill="#4cf4e4"/><rect x="234.8" y="452.5" width="2.7" height="2.7" fill="#c4ff7c"/><rect x="237.5" y="452.5" width="2.7" height="2.7" fill="#ffff2c"/><rect x="240.1" y="452.5" width="2.7" height="2.7" fill="#fff424"/><rect x="242.8" y="452.5" width="2.7" height="2.7" fill="#e4ff54"/><rect x="245.5" y="452.5" width="2.7" height="2.7" fill="#84ffbc"/><rect x="248.1" y="452.5" width="2.7" height="2.7" fill="#1cc4ff"/><rect x="250.8" y="452.5" width="2.7" height="2.7" fill="#145cff"/><rect x="253.4" y="452.5" width="2.7" height="2.7" fill="#0c1cff"/><rect x="296" y="452.5" width="2.7" height="2.7" fill="#0c0cff"/><rect x="298.7" y="452.5" width="2.7" height="2.7" fill="#0c24ff"/><rect x="301.3" y="452.5" width="2.7" height="2.7" fill="#144cff"/><rect x="304" y="452.5" width="2.7" height="2.7" fill="#1484ff"/><rect x="306.6" y="452.5" width="2.7" height="2.7" fill="#14b4ff"/><rect x="309.3" y="452.5" width="2.7" height="2.7" fill="#1cccff"/><rect x="312" y="452.5" width="2.7" height="2.7" fill="#1cc4ff"/><rect x="314.6" y="452.5" width="2.7" height="2.7" fill="#14a4ff"/><rect x="317.3" y="452.5" width="2.7" height="2.7" fill="#1474ff"/><rect x="319.9" y="452.5" width="2.7" height="2.7" fill="#143cff"/><rect x="322.6" y="452.5" width="2.7" height="2.7" fill="#0c14ff"/><rect x="147" y="455.2" width="2.7" height="2.7" fill="#0c1cff"/><rect x="149.7" y="455.2" width="2.7" height="2.7" fill="#145cff"/><rect x="152.4" y="455.2" width="2.7" height="2.7" fill="#1cc4ff"/><rect x="155" y="455.2" width="2.7" height="2.7" fill="#84fcbc"/><rect x="157.7" y="455.2" width="2.7" height="2.7" fill="#d4ff64"/><rect x="160.3" y="455.2" width="2.7" height="2.7" fill="#f4ff3c"/><rect x="163" y="455.2" width="2.7" height="2.7" fill="#dcff5c"/><rect x="165.7" y="455.2" width="2.7" height="2.7" fill="#84ffbc"/><rect x="168.3" y="455.2" width="2.7" height="2.7" fill="#1cccff"/><rect x="171" y="455.2" width="2.7" height="2.7" fill="#145cff"/><rect x="173.6" y="455.2" width="2.7" height="2.7" fill="#0c1cff"/><rect x="179" y="455.2" width="2.7" height="2.7" fill="#0c0cff"/><rect x="181.6" y="455.2" width="2.7" height="2.7" fill="#0c1cff"/><rect x="184.3" y="455.2" width="2.7" height="2.7" fill="#142cff"/><rect x="186.9" y="455.2" width="2.7" height="2.7" fill="#1444ff"/><rect x="189.6" y="455.2" width="2.7" height="2.7" fill="#145cff"/><rect x="192.3" y="455.2" width="2.7" height="2.7" fill="#1464ff"/><rect x="194.9" y="455.2" width="2.7" height="2.7" fill="#145cff"/><rect x="197.6" y="455.2" width="2.7" height="2.7" fill="#144cff"/><rect x="200.2" y="455.2" width="2.7" height="2.7" fill="#1434ff"/><rect x="202.9" y="455.2" width="2.7" height="2.7" fill="#0c1cff"/><rect x="205.6" y="455.2" width="2.7" height="2.7" fill="#0c0cff"/><rect x="224.2" y="455.2" width="2.7" height="2.7" fill="#0c24ff"/><rect x="226.8" y="455.2" width="2.7" height="2.7" fill="#1474ff"/><rect x="229.5" y="455.2" width="2.7" height="2.7" fill="#34ecec"/><rect x="232.2" y="455.2" width="2.7" height="2.7" fill="#e4ff54"/><rect x="234.8" y="455.2" width="2.7" height="2.7" fill="#ffbc14"/><rect x="237.5" y="455.2" width="2.7" height="2.7" fill="#ff840c"/><rect x="240.1" y="455.2" width="2.7" height="2.7" fill="#ff7c0c"/><rect x="242.8" y="455.2" width="2.7" height="2.7" fill="#ff9c0c"/><rect x="245.5" y="455.2" width="2.7" height="2.7" fill="#ffec24"/><rect x="248.1" y="455.2" width="2.7" height="2.7" fill="#8cffb4"/><rect x="250.8" y="455.2" width="2.7" height="2.7" fill="#14a4ff"/><rect x="253.4" y="455.2" width="2.7" height="2.7" fill="#143cff"/><rect x="256.1" y="455.2" width="2.7" height="2.7" fill="#0c0cff"/><rect x="296" y="455.2" width="2.7" height="2.7" fill="#0c0cff"/><rect x="298.7" y="455.2" width="2.7" height="2.7" fill="#142cff"/><rect x="301.3" y="455.2" width="2.7" height="2.7" fill="#1464ff"/><rect x="304" y="455.2" width="2.7" height="2.7" fill="#14a4ff"/><rect x="306.6" y="455.2" width="2.7" height="2.7" fill="#1cdcff"/><rect x="309.3" y="455.2" width="2.7" height="2.7" fill="#34ecf4"/><rect x="312" y="455.2" width="2.7" height="2.7" fill="#2cecfc"/><rect x="314.6" y="455.2" width="2.7" height="2.7" fill="#1cccff"/><rect x="317.3" y="455.2" width="2.7" height="2.7" fill="#148cff"/><rect x="319.9" y="455.2" width="2.7" height="2.7" fill="#144cff"/><rect x="322.6" y="455.2" width="2.7" height="2.7" fill="#0c24ff"/><rect x="325.3" y="455.2" width="2.7" height="2.7" fill="#0c0cff"/><rect x="147" y="457.8" width="2.7" height="2.7" fill="#0c0cff"/><rect x="149.7" y="457.8" width="2.7" height="2.7" fill="#1434ff"/><rect x="152.4" y="457.8" width="2.7" height="2.7" fill="#147cff"/><rect x="155" y="457.8" width="2.7" height="2.7" fill="#1cd4ff"/><rect x="157.7" y="457.8" width="2.7" height="2.7" fill="#54f4dc"/><rect x="160.3" y="457.8" width="2.7" height="2.7" fill="#74fcc4"/><rect x="163" y="457.8" width="2.7" height="2.7" fill="#54f4dc"/><rect x="165.7" y="457.8" width="2.7" height="2.7" fill="#1cd4ff"/><rect x="168.3" y="457.8" width="2.7" height="2.7" fill="#147cff"/><rect x="171" y="457.8" width="2.7" height="2.7" fill="#1434ff"/><rect x="173.6" y="457.8" width="2.7" height="2.7" fill="#0c0cff"/><rect x="179" y="457.8" width="2.7" height="2.7" fill="#0c14ff"/><rect x="181.6" y="457.8" width="2.7" height="2.7" fill="#1434ff"/><rect x="184.3" y="457.8" width="2.7" height="2.7" fill="#1454ff"/><rect x="186.9" y="457.8" width="2.7" height="2.7" fill="#147cff"/><rect x="189.6" y="457.8" width="2.7" height="2.7" fill="#1494ff"/><rect x="192.3" y="457.8" width="2.7" height="2.7" fill="#14a4ff"/><rect x="194.9" y="457.8" width="2.7" height="2.7" fill="#149cff"/><rect x="197.6" y="457.8" width="2.7" height="2.7" fill="#1484ff"/><rect x="200.2" y="457.8" width="2.7" height="2.7" fill="#145cff"/><rect x="202.9" y="457.8" width="2.7" height="2.7" fill="#1434ff"/><rect x="205.6" y="457.8" width="2.7" height="2.7" fill="#0c1cff"/><rect x="208.2" y="457.8" width="2.7" height="2.7" fill="#0c0cff"/><rect x="221.5" y="457.8" width="2.7" height="2.7" fill="#0c0cff"/><rect x="224.2" y="457.8" width="2.7" height="2.7" fill="#1434ff"/><rect x="226.8" y="457.8" width="2.7" height="2.7" fill="#149cff"/><rect x="229.5" y="457.8" width="2.7" height="2.7" fill="#8cffb4"/><rect x="232.2" y="457.8" width="2.7" height="2.7" fill="#ffd41c"/><rect x="234.8" y="457.8" width="2.7" height="2.7" fill="#ff740c"/><rect x="237.5" y="457.8" width="2.7" height="2.7" fill="#ff3c04"/><rect x="240.1" y="457.8" width="2.7" height="2.7" fill="#ff3404"/><rect x="242.8" y="457.8" width="2.7" height="2.7" fill="#ff5c04"/><rect x="245.5" y="457.8" width="2.7" height="2.7" fill="#ffac0c"/><rect x="248.1" y="457.8" width="2.7" height="2.7" fill="#dcff5c"/><rect x="250.8" y="457.8" width="2.7" height="2.7" fill="#1cdcff"/><rect x="253.4" y="457.8" width="2.7" height="2.7" fill="#1454ff"/><rect x="256.1" y="457.8" width="2.7" height="2.7" fill="#0c14ff"/><rect x="296" y="457.8" width="2.7" height="2.7" fill="#0c0cff"/><rect x="298.7" y="457.8" width="2.7" height="2.7" fill="#142cff"/><rect x="301.3" y="457.8" width="2.7" height="2.7" fill="#1464ff"/><rect x="304" y="457.8" width="2.7" height="2.7" fill="#14a4ff"/><rect x="306.6" y="457.8" width="2.7" height="2.7" fill="#1cdcff"/><rect x="309.3" y="457.8" width="2.7" height="2.7" fill="#34ecf4"/><rect x="312" y="457.8" width="2.7" height="2.7" fill="#2cecf4"/><rect x="314.6" y="457.8" width="2.7" height="2.7" fill="#1cccff"/><rect x="317.3" y="457.8" width="2.7" height="2.7" fill="#148cff"/><rect x="319.9" y="457.8" width="2.7" height="2.7" fill="#1454ff"/><rect x="322.6" y="457.8" width="2.7" height="2.7" fill="#0c24ff"/><rect x="325.3" y="457.8" width="2.7" height="2.7" fill="#0c0cff"/><rect x="149.7" y="460.5" width="2.7" height="2.7" fill="#0c14ff"/><rect x="152.4" y="460.5" width="2.7" height="2.7" fill="#1434ff"/><rect x="155" y="460.5" width="2.7" height="2.7" fill="#1464ff"/><rect x="157.7" y="460.5" width="2.7" height="2.7" fill="#1484ff"/><rect x="160.3" y="460.5" width="2.7" height="2.7" fill="#1494ff"/><rect x="163" y="460.5" width="2.7" height="2.7" fill="#148cff"/><rect x="165.7" y="460.5" width="2.7" height="2.7" fill="#1464ff"/><rect x="168.3" y="460.5" width="2.7" height="2.7" fill="#1434ff"/><rect x="171" y="460.5" width="2.7" height="2.7" fill="#0c14ff"/><rect x="176.3" y="460.5" width="2.7" height="2.7" fill="#0c0cff"/><rect x="179" y="460.5" width="2.7" height="2.7" fill="#0c24ff"/><rect x="181.6" y="460.5" width="2.7" height="2.7" fill="#1444ff"/><rect x="184.3" y="460.5" width="2.7" height="2.7" fill="#1474ff"/><rect x="186.9" y="460.5" width="2.7" height="2.7" fill="#14a4ff"/><rect x="189.6" y="460.5" width="2.7" height="2.7" fill="#1cccff"/><rect x="192.3" y="460.5" width="2.7" height="2.7" fill="#1cdcff"/><rect x="194.9" y="460.5" width="2.7" height="2.7" fill="#1cd4ff"/><rect x="197.6" y="460.5" width="2.7" height="2.7" fill="#14acff"/><rect x="200.2" y="460.5" width="2.7" height="2.7" fill="#147cff"/><rect x="202.9" y="460.5" width="2.7" height="2.7" fill="#144cff"/><rect x="205.6" y="460.5" width="2.7" height="2.7" fill="#0c24ff"/><rect x="208.2" y="460.5" width="2.7" height="2.7" fill="#0c0cff"/><rect x="221.5" y="460.5" width="2.7" height="2.7" fill="#0c0cff"/><rect x="224.2" y="460.5" width="2.7" height="2.7" fill="#1434ff"/><rect x="226.8" y="460.5" width="2.7" height="2.7" fill="#149cff"/><rect x="229.5" y="460.5" width="2.7" height="2.7" fill="#9cffac"/><rect x="232.2" y="460.5" width="2.7" height="2.7" fill="#ffcc1c"/><rect x="234.8" y="460.5" width="2.7" height="2.7" fill="#ff6c0c"/><rect x="237.5" y="460.5" width="2.7" height="2.7" fill="#ff3404"/><rect x="240.1" y="460.5" width="2.7" height="2.7" fill="#ff2c04"/><rect x="242.8" y="460.5" width="2.7" height="2.7" fill="#ff4c04"/><rect x="245.5" y="460.5" width="2.7" height="2.7" fill="#ffa40c"/><rect x="248.1" y="460.5" width="2.7" height="2.7" fill="#e4ff54"/><rect x="250.8" y="460.5" width="2.7" height="2.7" fill="#1ce4ff"/><rect x="253.4" y="460.5" width="2.7" height="2.7" fill="#145cff"/><rect x="256.1" y="460.5" width="2.7" height="2.7" fill="#0c14ff"/><rect x="296" y="460.5" width="2.7" height="2.7" fill="#0c0cff"/><rect x="298.7" y="460.5" width="2.7" height="2.7" fill="#0c24ff"/><rect x="301.3" y="460.5" width="2.7" height="2.7" fill="#1454ff"/><rect x="304" y="460.5" width="2.7" height="2.7" fill="#1484ff"/><rect x="306.6" y="460.5" width="2.7" height="2.7" fill="#1cbcff"/><rect x="309.3" y="460.5" width="2.7" height="2.7" fill="#1cd4ff"/><rect x="312" y="460.5" width="2.7" height="2.7" fill="#1cccff"/><rect x="314.6" y="460.5" width="2.7" height="2.7" fill="#14acff"/><rect x="317.3" y="460.5" width="2.7" height="2.7" fill="#1474ff"/><rect x="319.9" y="460.5" width="2.7" height="2.7" fill="#143cff"/><rect x="322.6" y="460.5" width="2.7" height="2.7" fill="#0c1cff"/><rect x="152.4" y="463.2" width="2.7" height="2.7" fill="#0c0cff"/><rect x="155" y="463.2" width="2.7" height="2.7" fill="#0c1cff"/><rect x="157.7" y="463.2" width="2.7" height="2.7" fill="#0c24ff"/><rect x="160.3" y="463.2" width="2.7" height="2.7" fill="#142cff"/><rect x="163" y="463.2" width="2.7" height="2.7" fill="#0c24ff"/><rect x="165.7" y="463.2" width="2.7" height="2.7" fill="#0c1cff"/><rect x="168.3" y="463.2" width="2.7" height="2.7" fill="#0c0cff"/><rect x="176.3" y="463.2" width="2.7" height="2.7" fill="#0c0cff"/><rect x="179" y="463.2" width="2.7" height="2.7" fill="#0c24ff"/><rect x="181.6" y="463.2" width="2.7" height="2.7" fill="#144cff"/><rect x="184.3" y="463.2" width="2.7" height="2.7" fill="#1484ff"/><rect x="186.9" y="463.2" width="2.7" height="2.7" fill="#1cb4ff"/><rect x="189.6" y="463.2" width="2.7" height="2.7" fill="#1cdcff"/><rect x="192.3" y="463.2" width="2.7" height="2.7" fill="#1cecff"/><rect x="194.9" y="463.2" width="2.7" height="2.7" fill="#1cdcff"/><rect x="197.6" y="463.2" width="2.7" height="2.7" fill="#1cbcff"/><rect x="200.2" y="463.2" width="2.7" height="2.7" fill="#148cff"/><rect x="202.9" y="463.2" width="2.7" height="2.7" fill="#1454ff"/><rect x="205.6" y="463.2" width="2.7" height="2.7" fill="#0c2cff"/><rect x="208.2" y="463.2" width="2.7" height="2.7" fill="#0c0cff"/><rect x="224.2" y="463.2" width="2.7" height="2.7" fill="#0c24ff"/><rect x="226.8" y="463.2" width="2.7" height="2.7" fill="#1484ff"/><rect x="229.5" y="463.2" width="2.7" height="2.7" fill="#5cf4dc"/><rect x="232.2" y="463.2" width="2.7" height="2.7" fill="#ffff2c"/><rect x="234.8" y="463.2" width="2.7" height="2.7" fill="#ffa40c"/><rect x="237.5" y="463.2" width="2.7" height="2.7" fill="#ff6c0c"/><rect x="240.1" y="463.2" width="2.7" height="2.7" fill="#ff6404"/><rect x="242.8" y="463.2" width="2.7" height="2.7" fill="#ff840c"/><rect x="245.5" y="463.2" width="2.7" height="2.7" fill="#ffd41c"/><rect x="248.1" y="463.2" width="2.7" height="2.7" fill="#acff9c"/><rect x="250.8" y="463.2" width="2.7" height="2.7" fill="#1cbcff"/><rect x="253.4" y="463.2" width="2.7" height="2.7" fill="#1444ff"/><rect x="256.1" y="463.2" width="2.7" height="2.7" fill="#0c0cff"/><rect x="298.7" y="463.2" width="2.7" height="2.7" fill="#0c14ff"/><rect x="301.3" y="463.2" width="2.7" height="2.7" fill="#1434ff"/><rect x="304" y="463.2" width="2.7" height="2.7" fill="#1454ff"/><rect x="306.6" y="463.2" width="2.7" height="2.7" fill="#147cff"/><rect x="309.3" y="463.2" width="5.4" height="2.7" fill="#148cff"/><rect x="314.6" y="463.2" width="2.7" height="2.7" fill="#146cff"/><rect x="317.3" y="463.2" width="2.7" height="2.7" fill="#144cff"/><rect x="319.9" y="463.2" width="2.7" height="2.7" fill="#0c24ff"/><rect x="322.6" y="463.2" width="2.7" height="2.7" fill="#0c0cff"/><rect x="176.3" y="465.8" width="2.7" height="2.7" fill="#0c0cff"/><rect x="179" y="465.8" width="2.7" height="2.7" fill="#0c1cff"/><rect x="181.6" y="465.8" width="2.7" height="2.7" fill="#1444ff"/><rect x="184.3" y="465.8" width="2.7" height="2.7" fill="#146cff"/><rect x="186.9" y="465.8" width="2.7" height="2.7" fill="#149cff"/><rect x="189.6" y="465.8" width="2.7" height="2.7" fill="#1cc4ff"/><rect x="192.3" y="465.8" width="2.7" height="2.7" fill="#1cccff"/><rect x="194.9" y="465.8" width="2.7" height="2.7" fill="#1cc4ff"/><rect x="197.6" y="465.8" width="2.7" height="2.7" fill="#14a4ff"/><rect x="200.2" y="465.8" width="2.7" height="2.7" fill="#1474ff"/><rect x="202.9" y="465.8" width="2.7" height="2.7" fill="#1444ff"/><rect x="205.6" y="465.8" width="2.7" height="2.7" fill="#0c24ff"/><rect x="208.2" y="465.8" width="2.7" height="2.7" fill="#0c0cff"/><rect x="224.2" y="465.8" width="2.7" height="2.7" fill="#0c14ff"/><rect x="226.8" y="465.8" width="2.7" height="2.7" fill="#144cff"/><rect x="229.5" y="465.8" width="2.7" height="2.7" fill="#1cb4ff"/><rect x="232.2" y="465.8" width="2.7" height="2.7" fill="#84fcbc"/><rect x="234.8" y="465.8" width="2.7" height="2.7" fill="#f4ff3c"/><rect x="237.5" y="465.8" width="2.7" height="2.7" fill="#ffd41c"/><rect x="240.1" y="465.8" width="2.7" height="2.7" fill="#ffcc1c"/><rect x="242.8" y="465.8" width="2.7" height="2.7" fill="#ffec24"/><rect x="245.5" y="465.8" width="2.7" height="2.7" fill="#bcff84"/><rect x="248.1" y="465.8" width="2.7" height="2.7" fill="#24ecff"/><rect x="250.8" y="465.8" width="2.7" height="2.7" fill="#1474ff"/><rect x="253.4" y="465.8" width="2.7" height="2.7" fill="#0c24ff"/><rect x="301.3" y="465.8" width="2.7" height="2.7" fill="#0c14ff"/><rect x="304" y="465.8" width="2.7" height="2.7" fill="#0c2cff"/><rect x="306.6" y="465.8" width="2.7" height="2.7" fill="#143cff"/><rect x="309.3" y="465.8" width="5.4" height="2.7" fill="#1444ff"/><rect x="314.6" y="465.8" width="2.7" height="2.7" fill="#1434ff"/><rect x="317.3" y="465.8" width="2.7" height="2.7" fill="#0c24ff"/><rect x="319.9" y="465.8" width="2.7" height="2.7" fill="#0c0cff"/><rect x="179" y="468.5" width="2.7" height="2.7" fill="#0c14ff"/><rect x="181.6" y="468.5" width="2.7" height="2.7" fill="#0c2cff"/><rect x="184.3" y="468.5" width="2.7" height="2.7" fill="#144cff"/><rect x="186.9" y="468.5" width="2.7" height="2.7" fill="#146cff"/><rect x="189.6" y="468.5" width="2.7" height="2.7" fill="#1484ff"/><rect x="192.3" y="468.5" width="5.4" height="2.7" fill="#148cff"/><rect x="197.6" y="468.5" width="2.7" height="2.7" fill="#1474ff"/><rect x="200.2" y="468.5" width="2.7" height="2.7" fill="#144cff"/><rect x="202.9" y="468.5" width="2.7" height="2.7" fill="#142cff"/><rect x="205.6" y="468.5" width="2.7" height="2.7" fill="#0c14ff"/><rect x="226.8" y="468.5" width="2.7" height="2.7" fill="#0c1cff"/><rect x="229.5" y="468.5" width="2.7" height="2.7" fill="#1454ff"/><rect x="232.2" y="468.5" width="2.7" height="2.7" fill="#14a4ff"/><rect x="234.8" y="468.5" width="2.7" height="2.7" fill="#2cecf4"/><rect x="237.5" y="468.5" width="2.7" height="2.7" fill="#6cf4cc"/><rect x="240.1" y="468.5" width="2.7" height="2.7" fill="#7cfcc4"/><rect x="242.8" y="468.5" width="2.7" height="2.7" fill="#4cf4e4"/><rect x="245.5" y="468.5" width="2.7" height="2.7" fill="#1cc4ff"/><rect x="248.1" y="468.5" width="2.7" height="2.7" fill="#1474ff"/><rect x="250.8" y="468.5" width="2.7" height="2.7" fill="#142cff"/><rect x="253.4" y="468.5" width="2.7" height="2.7" fill="#0c0cff"/><rect x="304" y="468.5" width="2.7" height="2.7" fill="#0c0cff"/><rect x="306.6" y="468.5" width="10.7" height="2.7" fill="#0c14ff"/><rect x="317.3" y="468.5" width="2.7" height="2.7" fill="#0c0cff"/><rect x="181.6" y="471.1" width="2.7" height="2.7" fill="#0c14ff"/><rect x="184.3" y="471.1" width="2.7" height="2.7" fill="#0c24ff"/><rect x="186.9" y="471.1" width="2.7" height="2.7" fill="#1434ff"/><rect x="189.6" y="471.1" width="2.7" height="2.7" fill="#1444ff"/><rect x="192.3" y="471.1" width="5.4" height="2.7" fill="#144cff"/><rect x="197.6" y="471.1" width="2.7" height="2.7" fill="#143cff"/><rect x="200.2" y="471.1" width="2.7" height="2.7" fill="#0c24ff"/><rect x="202.9" y="471.1" width="2.7" height="2.7" fill="#0c14ff"/><rect x="205.6" y="471.1" width="2.7" height="2.7" fill="#0c0cff"/><rect x="229.5" y="471.1" width="2.7" height="2.7" fill="#0c14ff"/><rect x="232.2" y="471.1" width="2.7" height="2.7" fill="#1434ff"/><rect x="234.8" y="471.1" width="2.7" height="2.7" fill="#145cff"/><rect x="237.5" y="471.1" width="2.7" height="2.7" fill="#1474ff"/><rect x="240.1" y="471.1" width="2.7" height="2.7" fill="#147cff"/><rect x="242.8" y="471.1" width="2.7" height="2.7" fill="#1464ff"/><rect x="245.5" y="471.1" width="2.7" height="2.7" fill="#1444ff"/><rect x="248.1" y="471.1" width="2.7" height="2.7" fill="#0c24ff"/><rect x="250.8" y="471.1" width="2.7" height="2.7" fill="#0c0cff"/><rect x="184.3" y="473.8" width="2.7" height="2.7" fill="#0c0cff"/><rect x="186.9" y="473.8" width="2.7" height="2.7" fill="#0c14ff"/><rect x="189.6" y="473.8" width="8" height="2.7" fill="#0c1cff"/><rect x="197.6" y="473.8" width="2.7" height="2.7" fill="#0c14ff"/><rect x="200.2" y="473.8" width="2.7" height="2.7" fill="#0c0cff"/><rect x="232.2" y="473.8" width="5.4" height="2.7" fill="#0c0cff"/><rect x="237.5" y="473.8" width="2.7" height="2.7" fill="#0c14ff"/><rect x="240.1" y="473.8" width="2.7" height="2.7" fill="#0c1cff"/><rect x="242.8" y="473.8" width="2.7" height="2.7" fill="#0c14ff"/><rect x="245.5" y="473.8" width="2.7" height="2.7" fill="#0c0cff"/></g>
<use href="#riv" transform="translate(57.2,326.3) scale(1,1.004)"/>
<use href="#legend" transform="translate(57.2,326.3) scale(1,1.004)"/>
</g>
<path d="M56.1 327.5 H410.1" stroke="#000" stroke-width="1.2"/>
<path d="M409.6 327 V539" stroke="#999" stroke-width="1.2"/>
<path d="M56.1 538.5 H410.1" stroke="#000" stroke-width="1.2"/>
<path d="M56.6 327 V539" stroke="#888" stroke-width="1.05"/>
<text class="t" x="65.7" y="340.4" stroke="#000" stroke-width="0.3" style="font-size:12.1px">C (7.4-6.8 ka)</text>
<text x="148.8" y="430.8" font-size="11.3" font-weight="bold" stroke="#000" stroke-width="0.3">Chinese Loess Plateau</text>
<text x="249.1" y="389.6" font-size="11.2" font-weight="bold" stroke="#000" stroke-width="0.3">The Yellow River</text>
<path d="M0,-3.2 L0.85,-1.05 3.1,-1 1.35,0.45 1.95,2.7 0,1.4 -1.95,2.7 -1.35,0.45 -3.1,-1 -0.85,-1.05Z" transform="translate(169.2,452.4)" fill="#d81010" stroke="#000" stroke-width="1.0" stroke-linejoin="miter"/>
<path d="M151.3 538.5 v2.4" stroke="#000" stroke-width="1"/>
<g transform="translate(151.6,549.8) scale(1.33,1)"><text x="0" y="0" font-size="8.3" font-weight="bold" stroke="#000" stroke-width="0.2" text-anchor="middle">105°E</text></g>
<path d="M251.2 538.5 v2.4" stroke="#000" stroke-width="1"/>
<g transform="translate(251.5,549.8) scale(1.33,1)"><text x="0" y="0" font-size="8.3" font-weight="bold" stroke="#000" stroke-width="0.2" text-anchor="middle">110°E</text></g>
<path d="M351.1 538.5 v2.4" stroke="#000" stroke-width="1"/>
<g transform="translate(351.4,549.8) scale(1.33,1)"><text x="0" y="0" font-size="8.3" font-weight="bold" stroke="#000" stroke-width="0.2" text-anchor="middle">115°E</text></g>
<path d="M409.6 364.2 h2.4" stroke="#000" stroke-width="1"/>
<g transform="translate(413,367.2) scale(1.33,1)"><text x="0" y="0" font-size="8.3" font-weight="bold" stroke="#000" stroke-width="0.2">40°N</text></g>
<path d="M409.6 451.9 h2.4" stroke="#000" stroke-width="1"/>
<g transform="translate(413,454.9) scale(1.33,1)"><text x="0" y="0" font-size="8.3" font-weight="bold" stroke="#000" stroke-width="0.2">35°N</text></g>
</g>
<g id="D">
<clipPath id="clipD"><rect x="461.9" y="324.2" width="353.4" height="215.2"/></clipPath>
<g clip-path="url(#clipD)">
<use href="#land" transform="translate(461.9,324.2) scale(1.001,1.0185)"/>
<g shape-rendering="crispEdges"><rect x="698.6" y="326.9" width="18.7" height="2.7" fill="#0c0cff"/><rect x="693.3" y="329.5" width="5.4" height="2.7" fill="#0c0cff"/><rect x="698.6" y="329.5" width="5.4" height="2.7" fill="#0c14ff"/><rect x="704" y="329.5" width="8" height="2.7" fill="#0c1cff"/><rect x="711.9" y="329.5" width="5.4" height="2.7" fill="#0c14ff"/><rect x="717.3" y="329.5" width="5.4" height="2.7" fill="#0c0cff"/><rect x="690.7" y="332.2" width="2.7" height="2.7" fill="#0c0cff"/><rect x="693.3" y="332.2" width="2.7" height="2.7" fill="#0c14ff"/><rect x="696" y="332.2" width="2.7" height="2.7" fill="#0c1cff"/><rect x="698.6" y="332.2" width="2.7" height="2.7" fill="#0c24ff"/><rect x="701.3" y="332.2" width="2.7" height="2.7" fill="#0c2cff"/><rect x="704" y="332.2" width="8" height="2.7" fill="#142cff"/><rect x="711.9" y="332.2" width="2.7" height="2.7" fill="#0c2cff"/><rect x="714.6" y="332.2" width="2.7" height="2.7" fill="#0c24ff"/><rect x="717.3" y="332.2" width="2.7" height="2.7" fill="#0c1cff"/><rect x="719.9" y="332.2" width="2.7" height="2.7" fill="#0c14ff"/><rect x="722.6" y="332.2" width="2.7" height="2.7" fill="#0c0cff"/><rect x="688" y="334.8" width="2.7" height="2.7" fill="#0c0cff"/><rect x="690.7" y="334.8" width="2.7" height="2.7" fill="#0c14ff"/><rect x="693.3" y="334.8" width="2.7" height="2.7" fill="#0c24ff"/><rect x="696" y="334.8" width="2.7" height="2.7" fill="#142cff"/><rect x="698.6" y="334.8" width="2.7" height="2.7" fill="#143cff"/><rect x="701.3" y="334.8" width="2.7" height="2.7" fill="#1444ff"/><rect x="704" y="334.8" width="8" height="2.7" fill="#144cff"/><rect x="711.9" y="334.8" width="2.7" height="2.7" fill="#1444ff"/><rect x="714.6" y="334.8" width="2.7" height="2.7" fill="#143cff"/><rect x="717.3" y="334.8" width="2.7" height="2.7" fill="#142cff"/><rect x="719.9" y="334.8" width="2.7" height="2.7" fill="#0c24ff"/><rect x="722.6" y="334.8" width="2.7" height="2.7" fill="#0c14ff"/><rect x="725.2" y="334.8" width="2.7" height="2.7" fill="#0c0cff"/><rect x="685.3" y="337.5" width="2.7" height="2.7" fill="#0c0cff"/><rect x="688" y="337.5" width="2.7" height="2.7" fill="#0c14ff"/><rect x="690.7" y="337.5" width="2.7" height="2.7" fill="#0c24ff"/><rect x="693.3" y="337.5" width="2.7" height="2.7" fill="#1434ff"/><rect x="696" y="337.5" width="2.7" height="2.7" fill="#1444ff"/><rect x="698.6" y="337.5" width="2.7" height="2.7" fill="#1454ff"/><rect x="701.3" y="337.5" width="2.7" height="2.7" fill="#1464ff"/><rect x="704" y="337.5" width="8" height="2.7" fill="#146cff"/><rect x="711.9" y="337.5" width="2.7" height="2.7" fill="#1464ff"/><rect x="714.6" y="337.5" width="2.7" height="2.7" fill="#1454ff"/><rect x="717.3" y="337.5" width="2.7" height="2.7" fill="#1444ff"/><rect x="719.9" y="337.5" width="2.7" height="2.7" fill="#1434ff"/><rect x="722.6" y="337.5" width="2.7" height="2.7" fill="#0c24ff"/><rect x="725.2" y="337.5" width="2.7" height="2.7" fill="#0c14ff"/><rect x="727.9" y="337.5" width="2.7" height="2.7" fill="#0c0cff"/><rect x="682.7" y="340.2" width="2.7" height="2.7" fill="#0c0cff"/><rect x="685.3" y="340.2" width="2.7" height="2.7" fill="#0c14ff"/><rect x="688" y="340.2" width="2.7" height="2.7" fill="#0c1cff"/><rect x="690.7" y="340.2" width="2.7" height="2.7" fill="#1434ff"/><rect x="693.3" y="340.2" width="2.7" height="2.7" fill="#1444ff"/><rect x="696" y="340.2" width="2.7" height="2.7" fill="#145cff"/><rect x="698.6" y="340.2" width="2.7" height="2.7" fill="#1474ff"/><rect x="701.3" y="340.2" width="2.7" height="2.7" fill="#1484ff"/><rect x="704" y="340.2" width="8" height="2.7" fill="#148cff"/><rect x="711.9" y="340.2" width="2.7" height="2.7" fill="#1484ff"/><rect x="714.6" y="340.2" width="2.7" height="2.7" fill="#1474ff"/><rect x="717.3" y="340.2" width="2.7" height="2.7" fill="#145cff"/><rect x="719.9" y="340.2" width="2.7" height="2.7" fill="#1444ff"/><rect x="722.6" y="340.2" width="2.7" height="2.7" fill="#1434ff"/><rect x="725.2" y="340.2" width="2.7" height="2.7" fill="#0c24ff"/><rect x="727.9" y="340.2" width="2.7" height="2.7" fill="#0c14ff"/><rect x="730.6" y="340.2" width="2.7" height="2.7" fill="#0c0cff"/><rect x="682.7" y="342.8" width="2.7" height="2.7" fill="#0c0cff"/><rect x="685.3" y="342.8" width="2.7" height="2.7" fill="#0c14ff"/><rect x="688" y="342.8" width="2.7" height="2.7" fill="#0c2cff"/><rect x="690.7" y="342.8" width="2.7" height="2.7" fill="#143cff"/><rect x="693.3" y="342.8" width="2.7" height="2.7" fill="#145cff"/><rect x="696" y="342.8" width="2.7" height="2.7" fill="#1474ff"/><rect x="698.6" y="342.8" width="2.7" height="2.7" fill="#148cff"/><rect x="701.3" y="342.8" width="2.7" height="2.7" fill="#149cff"/><rect x="704" y="342.8" width="2.7" height="2.7" fill="#14acff"/><rect x="706.6" y="342.8" width="2.7" height="2.7" fill="#14b4ff"/><rect x="709.3" y="342.8" width="2.7" height="2.7" fill="#14acff"/><rect x="711.9" y="342.8" width="2.7" height="2.7" fill="#149cff"/><rect x="714.6" y="342.8" width="2.7" height="2.7" fill="#148cff"/><rect x="717.3" y="342.8" width="2.7" height="2.7" fill="#1474ff"/><rect x="719.9" y="342.8" width="2.7" height="2.7" fill="#145cff"/><rect x="722.6" y="342.8" width="2.7" height="2.7" fill="#1444ff"/><rect x="725.2" y="342.8" width="2.7" height="2.7" fill="#0c2cff"/><rect x="727.9" y="342.8" width="2.7" height="2.7" fill="#0c1cff"/><rect x="730.6" y="342.8" width="2.7" height="2.7" fill="#0c0cff"/><rect x="682.7" y="345.5" width="2.7" height="2.7" fill="#0c0cff"/><rect x="685.3" y="345.5" width="2.7" height="2.7" fill="#0c1cff"/><rect x="688" y="345.5" width="2.7" height="2.7" fill="#1434ff"/><rect x="690.7" y="345.5" width="2.7" height="2.7" fill="#144cff"/><rect x="693.3" y="345.5" width="2.7" height="2.7" fill="#146cff"/><rect x="696" y="345.5" width="2.7" height="2.7" fill="#1484ff"/><rect x="698.6" y="345.5" width="2.7" height="2.7" fill="#149cff"/><rect x="701.3" y="345.5" width="2.7" height="2.7" fill="#1cb4ff"/><rect x="704" y="345.5" width="2.7" height="2.7" fill="#1cc4ff"/><rect x="706.6" y="345.5" width="2.7" height="2.7" fill="#1cccff"/><rect x="709.3" y="345.5" width="2.7" height="2.7" fill="#1cc4ff"/><rect x="711.9" y="345.5" width="2.7" height="2.7" fill="#1cb4ff"/><rect x="714.6" y="345.5" width="2.7" height="2.7" fill="#14a4ff"/><rect x="717.3" y="345.5" width="2.7" height="2.7" fill="#1484ff"/><rect x="719.9" y="345.5" width="2.7" height="2.7" fill="#146cff"/><rect x="722.6" y="345.5" width="2.7" height="2.7" fill="#144cff"/><rect x="725.2" y="345.5" width="2.7" height="2.7" fill="#1434ff"/><rect x="727.9" y="345.5" width="2.7" height="2.7" fill="#0c1cff"/><rect x="730.6" y="345.5" width="2.7" height="2.7" fill="#0c0cff"/><rect x="680" y="348.1" width="2.7" height="2.7" fill="#0c0cff"/><rect x="682.7" y="348.1" width="2.7" height="2.7" fill="#0c14ff"/><rect x="685.3" y="348.1" width="2.7" height="2.7" fill="#0c24ff"/><rect x="688" y="348.1" width="2.7" height="2.7" fill="#1434ff"/><rect x="690.7" y="348.1" width="2.7" height="2.7" fill="#1454ff"/><rect x="693.3" y="348.1" width="2.7" height="2.7" fill="#1474ff"/><rect x="696" y="348.1" width="2.7" height="2.7" fill="#148cff"/><rect x="698.6" y="348.1" width="2.7" height="2.7" fill="#14acff"/><rect x="701.3" y="348.1" width="2.7" height="2.7" fill="#1cc4ff"/><rect x="704" y="348.1" width="2.7" height="2.7" fill="#1cd4ff"/><rect x="706.6" y="348.1" width="2.7" height="2.7" fill="#1cdcff"/><rect x="709.3" y="348.1" width="2.7" height="2.7" fill="#1cd4ff"/><rect x="711.9" y="348.1" width="2.7" height="2.7" fill="#1cc4ff"/><rect x="714.6" y="348.1" width="2.7" height="2.7" fill="#14acff"/><rect x="717.3" y="348.1" width="2.7" height="2.7" fill="#148cff"/><rect x="719.9" y="348.1" width="2.7" height="2.7" fill="#1474ff"/><rect x="722.6" y="348.1" width="2.7" height="2.7" fill="#1454ff"/><rect x="725.2" y="348.1" width="2.7" height="2.7" fill="#1434ff"/><rect x="727.9" y="348.1" width="2.7" height="2.7" fill="#0c24ff"/><rect x="730.6" y="348.1" width="2.7" height="2.7" fill="#0c14ff"/><rect x="733.2" y="348.1" width="2.7" height="2.7" fill="#0c0cff"/><rect x="680" y="350.8" width="2.7" height="2.7" fill="#0c0cff"/><rect x="682.7" y="350.8" width="2.7" height="2.7" fill="#0c14ff"/><rect x="685.3" y="350.8" width="2.7" height="2.7" fill="#0c24ff"/><rect x="688" y="350.8" width="2.7" height="2.7" fill="#1434ff"/><rect x="690.7" y="350.8" width="2.7" height="2.7" fill="#1454ff"/><rect x="693.3" y="350.8" width="2.7" height="2.7" fill="#1474ff"/><rect x="696" y="350.8" width="2.7" height="2.7" fill="#1494ff"/><rect x="698.6" y="350.8" width="2.7" height="2.7" fill="#14acff"/><rect x="701.3" y="350.8" width="2.7" height="2.7" fill="#1cc4ff"/><rect x="704" y="350.8" width="2.7" height="2.7" fill="#1cd4ff"/><rect x="706.6" y="350.8" width="2.7" height="2.7" fill="#1cdcff"/><rect x="709.3" y="350.8" width="2.7" height="2.7" fill="#1cd4ff"/><rect x="711.9" y="350.8" width="2.7" height="2.7" fill="#1cc4ff"/><rect x="714.6" y="350.8" width="2.7" height="2.7" fill="#14acff"/><rect x="717.3" y="350.8" width="2.7" height="2.7" fill="#1494ff"/><rect x="719.9" y="350.8" width="2.7" height="2.7" fill="#1474ff"/><rect x="722.6" y="350.8" width="2.7" height="2.7" fill="#1454ff"/><rect x="725.2" y="350.8" width="2.7" height="2.7" fill="#143cff"/><rect x="727.9" y="350.8" width="2.7" height="2.7" fill="#0c24ff"/><rect x="730.6" y="350.8" width="2.7" height="2.7" fill="#0c14ff"/><rect x="733.2" y="350.8" width="2.7" height="2.7" fill="#0c0cff"/><rect x="682.7" y="353.5" width="2.7" height="2.7" fill="#0c0cff"/><rect x="685.3" y="353.5" width="2.7" height="2.7" fill="#0c1cff"/><rect x="688" y="353.5" width="2.7" height="2.7" fill="#1434ff"/><rect x="690.7" y="353.5" width="2.7" height="2.7" fill="#144cff"/><rect x="693.3" y="353.5" width="2.7" height="2.7" fill="#146cff"/><rect x="696" y="353.5" width="2.7" height="2.7" fill="#148cff"/><rect x="698.6" y="353.5" width="2.7" height="2.7" fill="#14a4ff"/><rect x="701.3" y="353.5" width="2.7" height="2.7" fill="#1cbcff"/><rect x="704" y="353.5" width="2.7" height="2.7" fill="#1cccff"/><rect x="706.6" y="353.5" width="2.7" height="2.7" fill="#1cd4ff"/><rect x="709.3" y="353.5" width="2.7" height="2.7" fill="#1cccff"/><rect x="711.9" y="353.5" width="2.7" height="2.7" fill="#1cbcff"/><rect x="714.6" y="353.5" width="2.7" height="2.7" fill="#14a4ff"/><rect x="717.3" y="353.5" width="2.7" height="2.7" fill="#148cff"/><rect x="719.9" y="353.5" width="2.7" height="2.7" fill="#146cff"/><rect x="722.6" y="353.5" width="2.7" height="2.7" fill="#144cff"/><rect x="725.2" y="353.5" width="2.7" height="2.7" fill="#1434ff"/><rect x="727.9" y="353.5" width="2.7" height="2.7" fill="#0c1cff"/><rect x="730.6" y="353.5" width="2.7" height="2.7" fill="#0c14ff"/><rect x="682.7" y="356.1" width="2.7" height="2.7" fill="#0c0cff"/><rect x="685.3" y="356.1" width="2.7" height="2.7" fill="#0c1cff"/><rect x="688" y="356.1" width="2.7" height="2.7" fill="#142cff"/><rect x="690.7" y="356.1" width="2.7" height="2.7" fill="#1444ff"/><rect x="693.3" y="356.1" width="2.7" height="2.7" fill="#145cff"/><rect x="696" y="356.1" width="2.7" height="2.7" fill="#147cff"/><rect x="698.6" y="356.1" width="2.7" height="2.7" fill="#1494ff"/><rect x="701.3" y="356.1" width="2.7" height="2.7" fill="#14a4ff"/><rect x="704" y="356.1" width="2.7" height="2.7" fill="#1cb4ff"/><rect x="706.6" y="356.1" width="2.7" height="2.7" fill="#1cbcff"/><rect x="709.3" y="356.1" width="2.7" height="2.7" fill="#1cb4ff"/><rect x="711.9" y="356.1" width="2.7" height="2.7" fill="#14a4ff"/><rect x="714.6" y="356.1" width="2.7" height="2.7" fill="#1494ff"/><rect x="717.3" y="356.1" width="2.7" height="2.7" fill="#147cff"/><rect x="719.9" y="356.1" width="2.7" height="2.7" fill="#145cff"/><rect x="722.6" y="356.1" width="2.7" height="2.7" fill="#1444ff"/><rect x="725.2" y="356.1" width="2.7" height="2.7" fill="#142cff"/><rect x="727.9" y="356.1" width="2.7" height="2.7" fill="#0c1cff"/><rect x="730.6" y="356.1" width="2.7" height="2.7" fill="#0c0cff"/><rect x="682.7" y="358.8" width="2.7" height="2.7" fill="#0c0cff"/><rect x="685.3" y="358.8" width="2.7" height="2.7" fill="#0c14ff"/><rect x="688" y="358.8" width="2.7" height="2.7" fill="#0c24ff"/><rect x="690.7" y="358.8" width="2.7" height="2.7" fill="#1434ff"/><rect x="693.3" y="358.8" width="2.7" height="2.7" fill="#144cff"/><rect x="696" y="358.8" width="2.7" height="2.7" fill="#1464ff"/><rect x="698.6" y="358.8" width="2.7" height="2.7" fill="#147cff"/><rect x="701.3" y="358.8" width="2.7" height="2.7" fill="#148cff"/><rect x="704" y="358.8" width="2.7" height="2.7" fill="#1494ff"/><rect x="706.6" y="358.8" width="2.7" height="2.7" fill="#149cff"/><rect x="709.3" y="358.8" width="2.7" height="2.7" fill="#1494ff"/><rect x="711.9" y="358.8" width="2.7" height="2.7" fill="#148cff"/><rect x="714.6" y="358.8" width="2.7" height="2.7" fill="#147cff"/><rect x="717.3" y="358.8" width="2.7" height="2.7" fill="#1464ff"/><rect x="719.9" y="358.8" width="2.7" height="2.7" fill="#144cff"/><rect x="722.6" y="358.8" width="2.7" height="2.7" fill="#1434ff"/><rect x="725.2" y="358.8" width="2.7" height="2.7" fill="#0c24ff"/><rect x="727.9" y="358.8" width="2.7" height="2.7" fill="#0c14ff"/><rect x="730.6" y="358.8" width="2.7" height="2.7" fill="#0c0cff"/><rect x="685.3" y="361.4" width="2.7" height="2.7" fill="#0c0cff"/><rect x="688" y="361.4" width="2.7" height="2.7" fill="#0c1cff"/><rect x="690.7" y="361.4" width="2.7" height="2.7" fill="#0c24ff"/><rect x="693.3" y="361.4" width="2.7" height="2.7" fill="#143cff"/><rect x="696" y="361.4" width="2.7" height="2.7" fill="#144cff"/><rect x="698.6" y="361.4" width="2.7" height="2.7" fill="#145cff"/><rect x="701.3" y="361.4" width="2.7" height="2.7" fill="#146cff"/><rect x="704" y="361.4" width="2.7" height="2.7" fill="#1474ff"/><rect x="706.6" y="361.4" width="2.7" height="2.7" fill="#147cff"/><rect x="709.3" y="361.4" width="2.7" height="2.7" fill="#1474ff"/><rect x="711.9" y="361.4" width="2.7" height="2.7" fill="#146cff"/><rect x="714.6" y="361.4" width="2.7" height="2.7" fill="#145cff"/><rect x="717.3" y="361.4" width="2.7" height="2.7" fill="#144cff"/><rect x="719.9" y="361.4" width="2.7" height="2.7" fill="#143cff"/><rect x="722.6" y="361.4" width="2.7" height="2.7" fill="#0c2cff"/><rect x="725.2" y="361.4" width="2.7" height="2.7" fill="#0c1cff"/><rect x="727.9" y="361.4" width="2.7" height="2.7" fill="#0c0cff"/><rect x="685.3" y="364.1" width="5.4" height="2.7" fill="#0c0cff"/><rect x="690.7" y="364.1" width="2.7" height="2.7" fill="#0c1cff"/><rect x="693.3" y="364.1" width="2.7" height="2.7" fill="#0c24ff"/><rect x="696" y="364.1" width="2.7" height="2.7" fill="#1434ff"/><rect x="698.6" y="364.1" width="2.7" height="2.7" fill="#1444ff"/><rect x="701.3" y="364.1" width="2.7" height="2.7" fill="#144cff"/><rect x="704" y="364.1" width="8" height="2.7" fill="#1454ff"/><rect x="711.9" y="364.1" width="2.7" height="2.7" fill="#144cff"/><rect x="714.6" y="364.1" width="2.7" height="2.7" fill="#1444ff"/><rect x="717.3" y="364.1" width="2.7" height="2.7" fill="#1434ff"/><rect x="719.9" y="364.1" width="2.7" height="2.7" fill="#0c24ff"/><rect x="722.6" y="364.1" width="2.7" height="2.7" fill="#0c1cff"/><rect x="725.2" y="364.1" width="5.4" height="2.7" fill="#0c0cff"/><rect x="581.6" y="366.8" width="8" height="2.7" fill="#0c0cff"/><rect x="688" y="366.8" width="5.4" height="2.7" fill="#0c0cff"/><rect x="693.3" y="366.8" width="2.7" height="2.7" fill="#0c14ff"/><rect x="696" y="366.8" width="2.7" height="2.7" fill="#0c1cff"/><rect x="698.6" y="366.8" width="2.7" height="2.7" fill="#0c2cff"/><rect x="701.3" y="366.8" width="13.4" height="2.7" fill="#1434ff"/><rect x="714.6" y="366.8" width="2.7" height="2.7" fill="#0c2cff"/><rect x="717.3" y="366.8" width="2.7" height="2.7" fill="#0c24ff"/><rect x="719.9" y="366.8" width="2.7" height="2.7" fill="#0c14ff"/><rect x="722.6" y="366.8" width="5.4" height="2.7" fill="#0c0cff"/><rect x="573.6" y="369.4" width="10.7" height="2.7" fill="#0c0cff"/><rect x="584.3" y="369.4" width="5.4" height="2.7" fill="#0c14ff"/><rect x="589.6" y="369.4" width="10.7" height="2.7" fill="#0c0cff"/><rect x="693.3" y="369.4" width="2.7" height="2.7" fill="#0c0cff"/><rect x="696" y="369.4" width="5.4" height="2.7" fill="#0c14ff"/><rect x="701.3" y="369.4" width="13.4" height="2.7" fill="#0c1cff"/><rect x="714.6" y="369.4" width="5.4" height="2.7" fill="#0c14ff"/><rect x="719.9" y="369.4" width="2.7" height="2.7" fill="#0c0cff"/><rect x="568.3" y="372.1" width="5.4" height="2.7" fill="#0c0cff"/><rect x="573.6" y="372.1" width="5.4" height="2.7" fill="#0c14ff"/><rect x="578.9" y="372.1" width="13.4" height="2.7" fill="#0c1cff"/><rect x="592.2" y="372.1" width="5.4" height="2.7" fill="#0c14ff"/><rect x="597.6" y="372.1" width="5.4" height="2.7" fill="#0c0cff"/><rect x="698.6" y="372.1" width="21.3" height="2.7" fill="#0c0cff"/><rect x="565.6" y="374.7" width="5.4" height="2.7" fill="#0c0cff"/><rect x="571" y="374.7" width="2.7" height="2.7" fill="#0c14ff"/><rect x="573.6" y="374.7" width="2.7" height="2.7" fill="#0c1cff"/><rect x="576.3" y="374.7" width="5.4" height="2.7" fill="#0c24ff"/><rect x="581.6" y="374.7" width="8" height="2.7" fill="#142cff"/><rect x="589.6" y="374.7" width="2.7" height="2.7" fill="#0c2cff"/><rect x="592.2" y="374.7" width="2.7" height="2.7" fill="#0c24ff"/><rect x="594.9" y="374.7" width="5.4" height="2.7" fill="#0c1cff"/><rect x="600.2" y="374.7" width="2.7" height="2.7" fill="#0c14ff"/><rect x="602.9" y="374.7" width="2.7" height="2.7" fill="#0c0cff"/><rect x="563" y="377.4" width="5.4" height="2.7" fill="#0c0cff"/><rect x="568.3" y="377.4" width="2.7" height="2.7" fill="#0c14ff"/><rect x="571" y="377.4" width="2.7" height="2.7" fill="#0c1cff"/><rect x="573.6" y="377.4" width="2.7" height="2.7" fill="#0c24ff"/><rect x="576.3" y="377.4" width="2.7" height="2.7" fill="#1434ff"/><rect x="578.9" y="377.4" width="5.4" height="2.7" fill="#143cff"/><rect x="584.3" y="377.4" width="2.7" height="2.7" fill="#1444ff"/><rect x="586.9" y="377.4" width="5.4" height="2.7" fill="#143cff"/><rect x="592.2" y="377.4" width="2.7" height="2.7" fill="#1434ff"/><rect x="594.9" y="377.4" width="2.7" height="2.7" fill="#142cff"/><rect x="597.6" y="377.4" width="2.7" height="2.7" fill="#0c24ff"/><rect x="600.2" y="377.4" width="2.7" height="2.7" fill="#0c1cff"/><rect x="602.9" y="377.4" width="2.7" height="2.7" fill="#0c14ff"/><rect x="605.5" y="377.4" width="2.7" height="2.7" fill="#0c0cff"/><rect x="563" y="380.1" width="2.7" height="2.7" fill="#0c0cff"/><rect x="565.6" y="380.1" width="2.7" height="2.7" fill="#0c14ff"/><rect x="568.3" y="380.1" width="2.7" height="2.7" fill="#0c1cff"/><rect x="571" y="380.1" width="2.7" height="2.7" fill="#0c2cff"/><rect x="573.6" y="380.1" width="2.7" height="2.7" fill="#1434ff"/><rect x="576.3" y="380.1" width="2.7" height="2.7" fill="#1444ff"/><rect x="578.9" y="380.1" width="2.7" height="2.7" fill="#144cff"/><rect x="581.6" y="380.1" width="8" height="2.7" fill="#1454ff"/><rect x="589.6" y="380.1" width="2.7" height="2.7" fill="#144cff"/><rect x="592.2" y="380.1" width="2.7" height="2.7" fill="#1444ff"/><rect x="594.9" y="380.1" width="2.7" height="2.7" fill="#143cff"/><rect x="597.6" y="380.1" width="2.7" height="2.7" fill="#1434ff"/><rect x="600.2" y="380.1" width="2.7" height="2.7" fill="#0c24ff"/><rect x="602.9" y="380.1" width="2.7" height="2.7" fill="#0c1cff"/><rect x="605.5" y="380.1" width="2.7" height="2.7" fill="#0c14ff"/><rect x="608.2" y="380.1" width="2.7" height="2.7" fill="#0c0cff"/><rect x="560.3" y="382.7" width="5.4" height="2.7" fill="#0c0cff"/><rect x="565.6" y="382.7" width="2.7" height="2.7" fill="#0c1cff"/><rect x="568.3" y="382.7" width="2.7" height="2.7" fill="#0c24ff"/><rect x="571" y="382.7" width="2.7" height="2.7" fill="#1434ff"/><rect x="573.6" y="382.7" width="2.7" height="2.7" fill="#1444ff"/><rect x="576.3" y="382.7" width="2.7" height="2.7" fill="#144cff"/><rect x="578.9" y="382.7" width="2.7" height="2.7" fill="#145cff"/><rect x="581.6" y="382.7" width="2.7" height="2.7" fill="#1464ff"/><rect x="584.3" y="382.7" width="2.7" height="2.7" fill="#146cff"/><rect x="586.9" y="382.7" width="5.4" height="2.7" fill="#1464ff"/><rect x="592.2" y="382.7" width="2.7" height="2.7" fill="#145cff"/><rect x="594.9" y="382.7" width="2.7" height="2.7" fill="#144cff"/><rect x="597.6" y="382.7" width="2.7" height="2.7" fill="#143cff"/><rect x="600.2" y="382.7" width="2.7" height="2.7" fill="#142cff"/><rect x="602.9" y="382.7" width="2.7" height="2.7" fill="#0c24ff"/><rect x="605.5" y="382.7" width="2.7" height="2.7" fill="#0c14ff"/><rect x="608.2" y="382.7" width="2.7" height="2.7" fill="#0c0cff"/><rect x="560.3" y="385.4" width="2.7" height="2.7" fill="#0c0cff"/><rect x="563" y="385.4" width="2.7" height="2.7" fill="#0c14ff"/><rect x="565.6" y="385.4" width="2.7" height="2.7" fill="#0c1cff"/><rect x="568.3" y="385.4" width="2.7" height="2.7" fill="#142cff"/><rect x="571" y="385.4" width="2.7" height="2.7" fill="#143cff"/><rect x="573.6" y="385.4" width="2.7" height="2.7" fill="#144cff"/><rect x="576.3" y="385.4" width="2.7" height="2.7" fill="#145cff"/><rect x="578.9" y="385.4" width="2.7" height="2.7" fill="#146cff"/><rect x="581.6" y="385.4" width="10.7" height="2.7" fill="#1474ff"/><rect x="592.2" y="385.4" width="2.7" height="2.7" fill="#1464ff"/><rect x="594.9" y="385.4" width="2.7" height="2.7" fill="#1454ff"/><rect x="597.6" y="385.4" width="2.7" height="2.7" fill="#1444ff"/><rect x="600.2" y="385.4" width="2.7" height="2.7" fill="#1434ff"/><rect x="602.9" y="385.4" width="2.7" height="2.7" fill="#0c24ff"/><rect x="605.5" y="385.4" width="2.7" height="2.7" fill="#0c1cff"/><rect x="608.2" y="385.4" width="5.4" height="2.7" fill="#0c0cff"/><rect x="560.3" y="388" width="2.7" height="2.7" fill="#0c0cff"/><rect x="563" y="388" width="2.7" height="2.7" fill="#0c14ff"/><rect x="565.6" y="388" width="2.7" height="2.7" fill="#0c24ff"/><rect x="568.3" y="388" width="2.7" height="2.7" fill="#1434ff"/><rect x="571" y="388" width="2.7" height="2.7" fill="#1444ff"/><rect x="573.6" y="388" width="2.7" height="2.7" fill="#1454ff"/><rect x="576.3" y="388" width="2.7" height="2.7" fill="#1464ff"/><rect x="578.9" y="388" width="2.7" height="2.7" fill="#1474ff"/><rect x="581.6" y="388" width="2.7" height="2.7" fill="#147cff"/><rect x="584.3" y="388" width="2.7" height="2.7" fill="#1484ff"/><rect x="586.9" y="388" width="5.4" height="2.7" fill="#147cff"/><rect x="592.2" y="388" width="2.7" height="2.7" fill="#146cff"/><rect x="594.9" y="388" width="2.7" height="2.7" fill="#145cff"/><rect x="597.6" y="388" width="2.7" height="2.7" fill="#144cff"/><rect x="600.2" y="388" width="2.7" height="2.7" fill="#143cff"/><rect x="602.9" y="388" width="2.7" height="2.7" fill="#142cff"/><rect x="605.5" y="388" width="2.7" height="2.7" fill="#0c1cff"/><rect x="608.2" y="388" width="2.7" height="2.7" fill="#0c14ff"/><rect x="610.9" y="388" width="2.7" height="2.7" fill="#0c0cff"/><rect x="560.3" y="390.7" width="2.7" height="2.7" fill="#0c0cff"/><rect x="563" y="390.7" width="2.7" height="2.7" fill="#0c14ff"/><rect x="565.6" y="390.7" width="2.7" height="2.7" fill="#0c24ff"/><rect x="568.3" y="390.7" width="2.7" height="2.7" fill="#1434ff"/><rect x="571" y="390.7" width="2.7" height="2.7" fill="#1444ff"/><rect x="573.6" y="390.7" width="2.7" height="2.7" fill="#1454ff"/><rect x="576.3" y="390.7" width="2.7" height="2.7" fill="#1464ff"/><rect x="578.9" y="390.7" width="2.7" height="2.7" fill="#1474ff"/><rect x="581.6" y="390.7" width="2.7" height="2.7" fill="#147cff"/><rect x="584.3" y="390.7" width="5.4" height="2.7" fill="#1484ff"/><rect x="589.6" y="390.7" width="2.7" height="2.7" fill="#147cff"/><rect x="592.2" y="390.7" width="2.7" height="2.7" fill="#1474ff"/><rect x="594.9" y="390.7" width="2.7" height="2.7" fill="#1464ff"/><rect x="597.6" y="390.7" width="2.7" height="2.7" fill="#1454ff"/><rect x="600.2" y="390.7" width="2.7" height="2.7" fill="#143cff"/><rect x="602.9" y="390.7" width="2.7" height="2.7" fill="#142cff"/><rect x="605.5" y="390.7" width="2.7" height="2.7" fill="#0c1cff"/><rect x="608.2" y="390.7" width="2.7" height="2.7" fill="#0c14ff"/><rect x="610.9" y="390.7" width="2.7" height="2.7" fill="#0c0cff"/><rect x="560.3" y="393.4" width="2.7" height="2.7" fill="#0c0cff"/><rect x="563" y="393.4" width="2.7" height="2.7" fill="#0c14ff"/><rect x="565.6" y="393.4" width="2.7" height="2.7" fill="#0c24ff"/><rect x="568.3" y="393.4" width="2.7" height="2.7" fill="#1434ff"/><rect x="571" y="393.4" width="2.7" height="2.7" fill="#1444ff"/><rect x="573.6" y="393.4" width="2.7" height="2.7" fill="#1454ff"/><rect x="576.3" y="393.4" width="2.7" height="2.7" fill="#1464ff"/><rect x="578.9" y="393.4" width="2.7" height="2.7" fill="#1474ff"/><rect x="581.6" y="393.4" width="2.7" height="2.7" fill="#147cff"/><rect x="584.3" y="393.4" width="2.7" height="2.7" fill="#1484ff"/><rect x="586.9" y="393.4" width="5.4" height="2.7" fill="#147cff"/><rect x="592.2" y="393.4" width="2.7" height="2.7" fill="#146cff"/><rect x="594.9" y="393.4" width="2.7" height="2.7" fill="#145cff"/><rect x="597.6" y="393.4" width="2.7" height="2.7" fill="#144cff"/><rect x="600.2" y="393.4" width="2.7" height="2.7" fill="#143cff"/><rect x="602.9" y="393.4" width="2.7" height="2.7" fill="#142cff"/><rect x="605.5" y="393.4" width="2.7" height="2.7" fill="#0c1cff"/><rect x="608.2" y="393.4" width="2.7" height="2.7" fill="#0c14ff"/><rect x="610.9" y="393.4" width="2.7" height="2.7" fill="#0c0cff"/><rect x="560.3" y="396" width="2.7" height="2.7" fill="#0c0cff"/><rect x="563" y="396" width="2.7" height="2.7" fill="#0c14ff"/><rect x="565.6" y="396" width="2.7" height="2.7" fill="#0c1cff"/><rect x="568.3" y="396" width="2.7" height="2.7" fill="#142cff"/><rect x="571" y="396" width="2.7" height="2.7" fill="#143cff"/><rect x="573.6" y="396" width="2.7" height="2.7" fill="#144cff"/><rect x="576.3" y="396" width="2.7" height="2.7" fill="#145cff"/><rect x="578.9" y="396" width="2.7" height="2.7" fill="#146cff"/><rect x="581.6" y="396" width="10.7" height="2.7" fill="#1474ff"/><rect x="592.2" y="396" width="2.7" height="2.7" fill="#1464ff"/><rect x="594.9" y="396" width="2.7" height="2.7" fill="#1454ff"/><rect x="597.6" y="396" width="2.7" height="2.7" fill="#1444ff"/><rect x="600.2" y="396" width="2.7" height="2.7" fill="#1434ff"/><rect x="602.9" y="396" width="2.7" height="2.7" fill="#0c24ff"/><rect x="605.5" y="396" width="2.7" height="2.7" fill="#0c1cff"/><rect x="608.2" y="396" width="21.3" height="2.7" fill="#0c0cff"/><rect x="560.3" y="398.7" width="5.4" height="2.7" fill="#0c0cff"/><rect x="565.6" y="398.7" width="2.7" height="2.7" fill="#0c1cff"/><rect x="568.3" y="398.7" width="2.7" height="2.7" fill="#0c24ff"/><rect x="571" y="398.7" width="2.7" height="2.7" fill="#1434ff"/><rect x="573.6" y="398.7" width="2.7" height="2.7" fill="#1444ff"/><rect x="576.3" y="398.7" width="2.7" height="2.7" fill="#144cff"/><rect x="578.9" y="398.7" width="2.7" height="2.7" fill="#145cff"/><rect x="581.6" y="398.7" width="10.7" height="2.7" fill="#1464ff"/><rect x="592.2" y="398.7" width="2.7" height="2.7" fill="#1454ff"/><rect x="594.9" y="398.7" width="2.7" height="2.7" fill="#144cff"/><rect x="597.6" y="398.7" width="2.7" height="2.7" fill="#143cff"/><rect x="600.2" y="398.7" width="2.7" height="2.7" fill="#142cff"/><rect x="602.9" y="398.7" width="2.7" height="2.7" fill="#0c24ff"/><rect x="605.5" y="398.7" width="5.4" height="2.7" fill="#0c14ff"/><rect x="610.9" y="398.7" width="5.4" height="2.7" fill="#0c0cff"/><rect x="616.2" y="398.7" width="5.4" height="2.7" fill="#0c14ff"/><rect x="621.5" y="398.7" width="13.4" height="2.7" fill="#0c0cff"/><rect x="563" y="401.3" width="2.7" height="2.7" fill="#0c0cff"/><rect x="565.6" y="401.3" width="2.7" height="2.7" fill="#0c14ff"/><rect x="568.3" y="401.3" width="2.7" height="2.7" fill="#0c1cff"/><rect x="571" y="401.3" width="2.7" height="2.7" fill="#0c2cff"/><rect x="573.6" y="401.3" width="2.7" height="2.7" fill="#1434ff"/><rect x="576.3" y="401.3" width="2.7" height="2.7" fill="#143cff"/><rect x="578.9" y="401.3" width="2.7" height="2.7" fill="#144cff"/><rect x="581.6" y="401.3" width="8" height="2.7" fill="#1454ff"/><rect x="589.6" y="401.3" width="2.7" height="2.7" fill="#144cff"/><rect x="592.2" y="401.3" width="2.7" height="2.7" fill="#1444ff"/><rect x="594.9" y="401.3" width="2.7" height="2.7" fill="#143cff"/><rect x="597.6" y="401.3" width="2.7" height="2.7" fill="#1434ff"/><rect x="600.2" y="401.3" width="2.7" height="2.7" fill="#0c24ff"/><rect x="602.9" y="401.3" width="2.7" height="2.7" fill="#0c1cff"/><rect x="605.5" y="401.3" width="24" height="2.7" fill="#0c14ff"/><rect x="629.5" y="401.3" width="8" height="2.7" fill="#0c0cff"/><rect x="563" y="404" width="5.4" height="2.7" fill="#0c0cff"/><rect x="568.3" y="404" width="2.7" height="2.7" fill="#0c14ff"/><rect x="571" y="404" width="2.7" height="2.7" fill="#0c1cff"/><rect x="573.6" y="404" width="2.7" height="2.7" fill="#0c24ff"/><rect x="576.3" y="404" width="5.4" height="2.7" fill="#1434ff"/><rect x="581.6" y="404" width="10.7" height="2.7" fill="#143cff"/><rect x="592.2" y="404" width="2.7" height="2.7" fill="#1434ff"/><rect x="594.9" y="404" width="2.7" height="2.7" fill="#142cff"/><rect x="597.6" y="404" width="2.7" height="2.7" fill="#0c24ff"/><rect x="600.2" y="404" width="5.4" height="2.7" fill="#0c1cff"/><rect x="605.5" y="404" width="2.7" height="2.7" fill="#0c14ff"/><rect x="608.2" y="404" width="18.7" height="2.7" fill="#0c1cff"/><rect x="626.8" y="404" width="5.4" height="2.7" fill="#0c14ff"/><rect x="632.1" y="404" width="8" height="2.7" fill="#0c0cff"/><rect x="565.6" y="406.7" width="5.4" height="2.7" fill="#0c0cff"/><rect x="571" y="406.7" width="2.7" height="2.7" fill="#0c14ff"/><rect x="573.6" y="406.7" width="2.7" height="2.7" fill="#0c1cff"/><rect x="576.3" y="406.7" width="5.4" height="2.7" fill="#0c24ff"/><rect x="581.6" y="406.7" width="2.7" height="2.7" fill="#0c2cff"/><rect x="584.3" y="406.7" width="5.4" height="2.7" fill="#142cff"/><rect x="589.6" y="406.7" width="2.7" height="2.7" fill="#0c2cff"/><rect x="592.2" y="406.7" width="2.7" height="2.7" fill="#0c24ff"/><rect x="594.9" y="406.7" width="13.4" height="2.7" fill="#0c1cff"/><rect x="608.2" y="406.7" width="18.7" height="2.7" fill="#0c24ff"/><rect x="626.8" y="406.7" width="5.4" height="2.7" fill="#0c1cff"/><rect x="632.1" y="406.7" width="2.7" height="2.7" fill="#0c14ff"/><rect x="634.8" y="406.7" width="5.4" height="2.7" fill="#0c0cff"/><rect x="568.3" y="409.3" width="8" height="2.7" fill="#0c0cff"/><rect x="576.3" y="409.3" width="2.7" height="2.7" fill="#0c14ff"/><rect x="578.9" y="409.3" width="13.4" height="2.7" fill="#0c1cff"/><rect x="592.2" y="409.3" width="10.7" height="2.7" fill="#0c14ff"/><rect x="602.9" y="409.3" width="2.7" height="2.7" fill="#0c1cff"/><rect x="605.5" y="409.3" width="5.4" height="2.7" fill="#0c24ff"/><rect x="610.9" y="409.3" width="2.7" height="2.7" fill="#0c2cff"/><rect x="613.5" y="409.3" width="10.7" height="2.7" fill="#142cff"/><rect x="624.2" y="409.3" width="5.4" height="2.7" fill="#0c24ff"/><rect x="629.5" y="409.3" width="2.7" height="2.7" fill="#0c1cff"/><rect x="632.1" y="409.3" width="5.4" height="2.7" fill="#0c14ff"/><rect x="637.5" y="409.3" width="5.4" height="2.7" fill="#0c0cff"/><rect x="573.6" y="412" width="24" height="2.7" fill="#0c0cff"/><rect x="597.6" y="412" width="2.7" height="2.7" fill="#0c14ff"/><rect x="600.2" y="412" width="2.7" height="2.7" fill="#0c1cff"/><rect x="602.9" y="412" width="5.4" height="2.7" fill="#0c24ff"/><rect x="608.2" y="412" width="2.7" height="2.7" fill="#142cff"/><rect x="610.9" y="412" width="13.4" height="2.7" fill="#1434ff"/><rect x="624.2" y="412" width="2.7" height="2.7" fill="#142cff"/><rect x="626.8" y="412" width="2.7" height="2.7" fill="#0c2cff"/><rect x="629.5" y="412" width="2.7" height="2.7" fill="#0c24ff"/><rect x="632.1" y="412" width="2.7" height="2.7" fill="#0c1cff"/><rect x="634.8" y="412" width="2.7" height="2.7" fill="#0c14ff"/><rect x="637.5" y="412" width="5.4" height="2.7" fill="#0c0cff"/><rect x="581.6" y="414.6" width="8" height="2.7" fill="#0c0cff"/><rect x="592.2" y="414.6" width="5.4" height="2.7" fill="#0c0cff"/><rect x="597.6" y="414.6" width="2.7" height="2.7" fill="#0c14ff"/><rect x="600.2" y="414.6" width="2.7" height="2.7" fill="#0c1cff"/><rect x="602.9" y="414.6" width="2.7" height="2.7" fill="#0c24ff"/><rect x="605.5" y="414.6" width="2.7" height="2.7" fill="#0c2cff"/><rect x="608.2" y="414.6" width="8" height="2.7" fill="#1434ff"/><rect x="616.2" y="414.6" width="5.4" height="2.7" fill="#143cff"/><rect x="621.5" y="414.6" width="5.4" height="2.7" fill="#1434ff"/><rect x="626.8" y="414.6" width="2.7" height="2.7" fill="#142cff"/><rect x="629.5" y="414.6" width="2.7" height="2.7" fill="#0c24ff"/><rect x="632.1" y="414.6" width="2.7" height="2.7" fill="#0c1cff"/><rect x="634.8" y="414.6" width="5.4" height="2.7" fill="#0c14ff"/><rect x="640.1" y="414.6" width="5.4" height="2.7" fill="#0c0cff"/><rect x="592.2" y="417.3" width="2.7" height="2.7" fill="#0c0cff"/><rect x="594.9" y="417.3" width="5.4" height="2.7" fill="#0c14ff"/><rect x="600.2" y="417.3" width="2.7" height="2.7" fill="#0c1cff"/><rect x="602.9" y="417.3" width="2.7" height="2.7" fill="#0c24ff"/><rect x="605.5" y="417.3" width="2.7" height="2.7" fill="#142cff"/><rect x="608.2" y="417.3" width="5.4" height="2.7" fill="#1434ff"/><rect x="613.5" y="417.3" width="10.7" height="2.7" fill="#143cff"/><rect x="624.2" y="417.3" width="2.7" height="2.7" fill="#1434ff"/><rect x="626.8" y="417.3" width="2.7" height="2.7" fill="#142cff"/><rect x="629.5" y="417.3" width="5.4" height="2.7" fill="#0c24ff"/><rect x="634.8" y="417.3" width="2.7" height="2.7" fill="#0c1cff"/><rect x="637.5" y="417.3" width="2.7" height="2.7" fill="#0c14ff"/><rect x="640.1" y="417.3" width="5.4" height="2.7" fill="#0c0cff"/><rect x="592.2" y="420" width="2.7" height="2.7" fill="#0c0cff"/><rect x="594.9" y="420" width="5.4" height="2.7" fill="#0c14ff"/><rect x="600.2" y="420" width="2.7" height="2.7" fill="#0c1cff"/><rect x="602.9" y="420" width="2.7" height="2.7" fill="#0c24ff"/><rect x="605.5" y="420" width="2.7" height="2.7" fill="#142cff"/><rect x="608.2" y="420" width="5.4" height="2.7" fill="#1434ff"/><rect x="613.5" y="420" width="10.7" height="2.7" fill="#143cff"/><rect x="624.2" y="420" width="2.7" height="2.7" fill="#1434ff"/><rect x="626.8" y="420" width="2.7" height="2.7" fill="#142cff"/><rect x="629.5" y="420" width="5.4" height="2.7" fill="#0c24ff"/><rect x="634.8" y="420" width="2.7" height="2.7" fill="#0c1cff"/><rect x="637.5" y="420" width="2.7" height="2.7" fill="#0c14ff"/><rect x="640.1" y="420" width="5.4" height="2.7" fill="#0c0cff"/><rect x="592.2" y="422.6" width="5.4" height="2.7" fill="#0c0cff"/><rect x="597.6" y="422.6" width="2.7" height="2.7" fill="#0c14ff"/><rect x="600.2" y="422.6" width="2.7" height="2.7" fill="#0c1cff"/><rect x="602.9" y="422.6" width="2.7" height="2.7" fill="#0c24ff"/><rect x="605.5" y="422.6" width="2.7" height="2.7" fill="#142cff"/><rect x="608.2" y="422.6" width="5.4" height="2.7" fill="#1434ff"/><rect x="613.5" y="422.6" width="8" height="2.7" fill="#143cff"/><rect x="621.5" y="422.6" width="5.4" height="2.7" fill="#1434ff"/><rect x="626.8" y="422.6" width="2.7" height="2.7" fill="#142cff"/><rect x="629.5" y="422.6" width="2.7" height="2.7" fill="#0c24ff"/><rect x="632.1" y="422.6" width="5.4" height="2.7" fill="#0c1cff"/><rect x="637.5" y="422.6" width="2.7" height="2.7" fill="#0c14ff"/><rect x="640.1" y="422.6" width="5.4" height="2.7" fill="#0c0cff"/><rect x="592.2" y="425.3" width="5.4" height="2.7" fill="#0c0cff"/><rect x="597.6" y="425.3" width="2.7" height="2.7" fill="#0c14ff"/><rect x="600.2" y="425.3" width="2.7" height="2.7" fill="#0c1cff"/><rect x="602.9" y="425.3" width="2.7" height="2.7" fill="#0c24ff"/><rect x="605.5" y="425.3" width="2.7" height="2.7" fill="#0c2cff"/><rect x="608.2" y="425.3" width="2.7" height="2.7" fill="#142cff"/><rect x="610.9" y="425.3" width="13.4" height="2.7" fill="#1434ff"/><rect x="624.2" y="425.3" width="2.7" height="2.7" fill="#142cff"/><rect x="626.8" y="425.3" width="2.7" height="2.7" fill="#0c2cff"/><rect x="629.5" y="425.3" width="2.7" height="2.7" fill="#0c24ff"/><rect x="632.1" y="425.3" width="2.7" height="2.7" fill="#0c1cff"/><rect x="634.8" y="425.3" width="5.4" height="2.7" fill="#0c14ff"/><rect x="640.1" y="425.3" width="2.7" height="2.7" fill="#0c0cff"/><rect x="688" y="425.3" width="10.7" height="2.7" fill="#0c0cff"/><rect x="592.2" y="427.9" width="5.4" height="2.7" fill="#0c0cff"/><rect x="597.6" y="427.9" width="5.4" height="2.7" fill="#0c14ff"/><rect x="602.9" y="427.9" width="2.7" height="2.7" fill="#0c1cff"/><rect x="605.5" y="427.9" width="2.7" height="2.7" fill="#0c24ff"/><rect x="608.2" y="427.9" width="2.7" height="2.7" fill="#0c2cff"/><rect x="610.9" y="427.9" width="2.7" height="2.7" fill="#142cff"/><rect x="613.5" y="427.9" width="8" height="2.7" fill="#1434ff"/><rect x="621.5" y="427.9" width="2.7" height="2.7" fill="#142cff"/><rect x="624.2" y="427.9" width="2.7" height="2.7" fill="#0c2cff"/><rect x="626.8" y="427.9" width="2.7" height="2.7" fill="#0c24ff"/><rect x="629.5" y="427.9" width="5.4" height="2.7" fill="#0c1cff"/><rect x="634.8" y="427.9" width="2.7" height="2.7" fill="#0c14ff"/><rect x="637.5" y="427.9" width="5.4" height="2.7" fill="#0c0cff"/><rect x="680" y="427.9" width="26.7" height="2.7" fill="#0c0cff"/><rect x="555" y="430.6" width="5.4" height="2.7" fill="#0c0cff"/><rect x="560.3" y="430.6" width="10.7" height="2.7" fill="#0c14ff"/><rect x="571" y="430.6" width="5.4" height="2.7" fill="#0c0cff"/><rect x="594.9" y="430.6" width="5.4" height="2.7" fill="#0c0cff"/><rect x="600.2" y="430.6" width="2.7" height="2.7" fill="#0c14ff"/><rect x="602.9" y="430.6" width="5.4" height="2.7" fill="#0c1cff"/><rect x="608.2" y="430.6" width="5.4" height="2.7" fill="#0c24ff"/><rect x="613.5" y="430.6" width="8" height="2.7" fill="#0c2cff"/><rect x="621.5" y="430.6" width="5.4" height="2.7" fill="#0c24ff"/><rect x="626.8" y="430.6" width="5.4" height="2.7" fill="#0c1cff"/><rect x="632.1" y="430.6" width="5.4" height="2.7" fill="#0c14ff"/><rect x="637.5" y="430.6" width="5.4" height="2.7" fill="#0c0cff"/><rect x="677.4" y="430.6" width="5.4" height="2.7" fill="#0c0cff"/><rect x="682.7" y="430.6" width="21.3" height="2.7" fill="#0c14ff"/><rect x="704" y="430.6" width="8" height="2.7" fill="#0c0cff"/><rect x="549.7" y="433.3" width="2.7" height="2.7" fill="#0c0cff"/><rect x="552.3" y="433.3" width="2.7" height="2.7" fill="#0c14ff"/><rect x="555" y="433.3" width="2.7" height="2.7" fill="#0c24ff"/><rect x="557.7" y="433.3" width="2.7" height="2.7" fill="#1434ff"/><rect x="560.3" y="433.3" width="2.7" height="2.7" fill="#143cff"/><rect x="563" y="433.3" width="5.4" height="2.7" fill="#1444ff"/><rect x="568.3" y="433.3" width="2.7" height="2.7" fill="#143cff"/><rect x="571" y="433.3" width="2.7" height="2.7" fill="#1434ff"/><rect x="573.6" y="433.3" width="2.7" height="2.7" fill="#0c24ff"/><rect x="576.3" y="433.3" width="2.7" height="2.7" fill="#0c14ff"/><rect x="578.9" y="433.3" width="2.7" height="2.7" fill="#0c0cff"/><rect x="594.9" y="433.3" width="8" height="2.7" fill="#0c0cff"/><rect x="602.9" y="433.3" width="2.7" height="2.7" fill="#0c14ff"/><rect x="605.5" y="433.3" width="8" height="2.7" fill="#0c1cff"/><rect x="613.5" y="433.3" width="10.7" height="2.7" fill="#0c24ff"/><rect x="624.2" y="433.3" width="5.4" height="2.7" fill="#0c1cff"/><rect x="629.5" y="433.3" width="5.4" height="2.7" fill="#0c14ff"/><rect x="634.8" y="433.3" width="5.4" height="2.7" fill="#0c0cff"/><rect x="674.7" y="433.3" width="5.4" height="2.7" fill="#0c0cff"/><rect x="680" y="433.3" width="2.7" height="2.7" fill="#0c14ff"/><rect x="682.7" y="433.3" width="5.4" height="2.7" fill="#0c1cff"/><rect x="688" y="433.3" width="10.7" height="2.7" fill="#0c24ff"/><rect x="698.6" y="433.3" width="5.4" height="2.7" fill="#0c1cff"/><rect x="704" y="433.3" width="5.4" height="2.7" fill="#0c14ff"/><rect x="709.3" y="433.3" width="5.4" height="2.7" fill="#0c0cff"/><rect x="547" y="435.9" width="2.7" height="2.7" fill="#0c0cff"/><rect x="549.7" y="435.9" width="2.7" height="2.7" fill="#0c24ff"/><rect x="552.3" y="435.9" width="2.7" height="2.7" fill="#143cff"/><rect x="555" y="435.9" width="2.7" height="2.7" fill="#1454ff"/><rect x="557.7" y="435.9" width="2.7" height="2.7" fill="#1474ff"/><rect x="560.3" y="435.9" width="2.7" height="2.7" fill="#1484ff"/><rect x="563" y="435.9" width="5.4" height="2.7" fill="#1494ff"/><rect x="568.3" y="435.9" width="2.7" height="2.7" fill="#148cff"/><rect x="571" y="435.9" width="2.7" height="2.7" fill="#1474ff"/><rect x="573.6" y="435.9" width="2.7" height="2.7" fill="#145cff"/><rect x="576.3" y="435.9" width="2.7" height="2.7" fill="#143cff"/><rect x="578.9" y="435.9" width="2.7" height="2.7" fill="#0c24ff"/><rect x="581.6" y="435.9" width="2.7" height="2.7" fill="#0c14ff"/><rect x="597.6" y="435.9" width="8" height="2.7" fill="#0c0cff"/><rect x="605.5" y="435.9" width="5.4" height="2.7" fill="#0c14ff"/><rect x="610.9" y="435.9" width="13.4" height="2.7" fill="#0c1cff"/><rect x="624.2" y="435.9" width="8" height="2.7" fill="#0c14ff"/><rect x="632.1" y="435.9" width="5.4" height="2.7" fill="#0c0cff"/><rect x="669.4" y="435.9" width="5.4" height="2.7" fill="#0c0cff"/><rect x="674.7" y="435.9" width="2.7" height="2.7" fill="#0c14ff"/><rect x="677.4" y="435.9" width="2.7" height="2.7" fill="#0c1cff"/><rect x="680" y="435.9" width="2.7" height="2.7" fill="#0c24ff"/><rect x="682.7" y="435.9" width="2.7" height="2.7" fill="#0c2cff"/><rect x="685.3" y="435.9" width="2.7" height="2.7" fill="#142cff"/><rect x="688" y="435.9" width="8" height="2.7" fill="#1434ff"/><rect x="696" y="435.9" width="2.7" height="2.7" fill="#142cff"/><rect x="698.6" y="435.9" width="2.7" height="2.7" fill="#0c2cff"/><rect x="701.3" y="435.9" width="2.7" height="2.7" fill="#0c24ff"/><rect x="704" y="435.9" width="5.4" height="2.7" fill="#0c1cff"/><rect x="709.3" y="435.9" width="2.7" height="2.7" fill="#0c14ff"/><rect x="711.9" y="435.9" width="5.4" height="2.7" fill="#0c0cff"/><rect x="544.4" y="438.6" width="2.7" height="2.7" fill="#0c0cff"/><rect x="547" y="438.6" width="2.7" height="2.7" fill="#0c24ff"/><rect x="549.7" y="438.6" width="2.7" height="2.7" fill="#1444ff"/><rect x="552.3" y="438.6" width="2.7" height="2.7" fill="#1474ff"/><rect x="555" y="438.6" width="2.7" height="2.7" fill="#14a4ff"/><rect x="557.7" y="438.6" width="2.7" height="2.7" fill="#1cd4ff"/><rect x="560.3" y="438.6" width="2.7" height="2.7" fill="#2cecf4"/><rect x="563" y="438.6" width="2.7" height="2.7" fill="#44f4e4"/><rect x="565.6" y="438.6" width="2.7" height="2.7" fill="#4cf4e4"/><rect x="568.3" y="438.6" width="2.7" height="2.7" fill="#34ecf4"/><rect x="571" y="438.6" width="2.7" height="2.7" fill="#1cdcff"/><rect x="573.6" y="438.6" width="2.7" height="2.7" fill="#14acff"/><rect x="576.3" y="438.6" width="2.7" height="2.7" fill="#147cff"/><rect x="578.9" y="438.6" width="2.7" height="2.7" fill="#144cff"/><rect x="581.6" y="438.6" width="2.7" height="2.7" fill="#0c2cff"/><rect x="584.3" y="438.6" width="2.7" height="2.7" fill="#0c14ff"/><rect x="592.2" y="438.6" width="18.7" height="2.7" fill="#0c0cff"/><rect x="610.9" y="438.6" width="16" height="2.7" fill="#0c14ff"/><rect x="626.8" y="438.6" width="5.4" height="2.7" fill="#0c0cff"/><rect x="632.1" y="438.6" width="5.4" height="2.7" fill="#0c14ff"/><rect x="637.5" y="438.6" width="5.4" height="2.7" fill="#0c1cff"/><rect x="642.8" y="438.6" width="5.4" height="2.7" fill="#0c14ff"/><rect x="648.1" y="438.6" width="2.7" height="2.7" fill="#0c0cff"/><rect x="666.7" y="438.6" width="5.4" height="2.7" fill="#0c0cff"/><rect x="672" y="438.6" width="2.7" height="2.7" fill="#0c14ff"/><rect x="674.7" y="438.6" width="2.7" height="2.7" fill="#0c1cff"/><rect x="677.4" y="438.6" width="2.7" height="2.7" fill="#0c2cff"/><rect x="680" y="438.6" width="2.7" height="2.7" fill="#1434ff"/><rect x="682.7" y="438.6" width="2.7" height="2.7" fill="#143cff"/><rect x="685.3" y="438.6" width="10.7" height="2.7" fill="#1444ff"/><rect x="696" y="438.6" width="2.7" height="2.7" fill="#143cff"/><rect x="698.6" y="438.6" width="5.4" height="2.7" fill="#1434ff"/><rect x="704" y="438.6" width="2.7" height="2.7" fill="#0c2cff"/><rect x="706.6" y="438.6" width="2.7" height="2.7" fill="#0c24ff"/><rect x="709.3" y="438.6" width="2.7" height="2.7" fill="#0c1cff"/><rect x="711.9" y="438.6" width="2.7" height="2.7" fill="#0c14ff"/><rect x="714.6" y="438.6" width="5.4" height="2.7" fill="#0c0cff"/><rect x="541.7" y="441.2" width="2.7" height="2.7" fill="#0c0cff"/><rect x="544.4" y="441.2" width="2.7" height="2.7" fill="#0c1cff"/><rect x="547" y="441.2" width="2.7" height="2.7" fill="#1444ff"/><rect x="549.7" y="441.2" width="2.7" height="2.7" fill="#147cff"/><rect x="552.3" y="441.2" width="2.7" height="2.7" fill="#1cbcff"/><rect x="555" y="441.2" width="2.7" height="2.7" fill="#3cecec"/><rect x="557.7" y="441.2" width="2.7" height="2.7" fill="#8cffb4"/><rect x="560.3" y="441.2" width="2.7" height="2.7" fill="#bcff84"/><rect x="563" y="441.2" width="5.4" height="2.7" fill="#d4ff64"/><rect x="568.3" y="441.2" width="2.7" height="2.7" fill="#c4ff7c"/><rect x="571" y="441.2" width="2.7" height="2.7" fill="#9cffac"/><rect x="573.6" y="441.2" width="2.7" height="2.7" fill="#54f4dc"/><rect x="576.3" y="441.2" width="2.7" height="2.7" fill="#1cccff"/><rect x="578.9" y="441.2" width="2.7" height="2.7" fill="#1484ff"/><rect x="581.6" y="441.2" width="2.7" height="2.7" fill="#144cff"/><rect x="584.3" y="441.2" width="2.7" height="2.7" fill="#0c24ff"/><rect x="586.9" y="441.2" width="5.4" height="2.7" fill="#0c0cff"/><rect x="592.2" y="441.2" width="13.4" height="2.7" fill="#0c14ff"/><rect x="605.5" y="441.2" width="18.7" height="2.7" fill="#0c0cff"/><rect x="624.2" y="441.2" width="2.7" height="2.7" fill="#0c14ff"/><rect x="626.8" y="441.2" width="2.7" height="2.7" fill="#0c1cff"/><rect x="629.5" y="441.2" width="2.7" height="2.7" fill="#0c2cff"/><rect x="632.1" y="441.2" width="2.7" height="2.7" fill="#143cff"/><rect x="634.8" y="441.2" width="2.7" height="2.7" fill="#1444ff"/><rect x="637.5" y="441.2" width="5.4" height="2.7" fill="#144cff"/><rect x="642.8" y="441.2" width="2.7" height="2.7" fill="#1444ff"/><rect x="645.4" y="441.2" width="2.7" height="2.7" fill="#1434ff"/><rect x="648.1" y="441.2" width="2.7" height="2.7" fill="#0c24ff"/><rect x="650.8" y="441.2" width="2.7" height="2.7" fill="#0c14ff"/><rect x="653.4" y="441.2" width="2.7" height="2.7" fill="#0c0cff"/><rect x="664.1" y="441.2" width="5.4" height="2.7" fill="#0c0cff"/><rect x="669.4" y="441.2" width="2.7" height="2.7" fill="#0c14ff"/><rect x="672" y="441.2" width="2.7" height="2.7" fill="#0c24ff"/><rect x="674.7" y="441.2" width="2.7" height="2.7" fill="#142cff"/><rect x="677.4" y="441.2" width="2.7" height="2.7" fill="#143cff"/><rect x="680" y="441.2" width="2.7" height="2.7" fill="#1444ff"/><rect x="682.7" y="441.2" width="2.7" height="2.7" fill="#1454ff"/><rect x="685.3" y="441.2" width="10.7" height="2.7" fill="#145cff"/><rect x="696" y="441.2" width="2.7" height="2.7" fill="#1454ff"/><rect x="698.6" y="441.2" width="2.7" height="2.7" fill="#1444ff"/><rect x="701.3" y="441.2" width="2.7" height="2.7" fill="#143cff"/><rect x="704" y="441.2" width="2.7" height="2.7" fill="#1434ff"/><rect x="706.6" y="441.2" width="2.7" height="2.7" fill="#142cff"/><rect x="709.3" y="441.2" width="2.7" height="2.7" fill="#0c24ff"/><rect x="711.9" y="441.2" width="2.7" height="2.7" fill="#0c1cff"/><rect x="714.6" y="441.2" width="2.7" height="2.7" fill="#0c14ff"/><rect x="717.3" y="441.2" width="8" height="2.7" fill="#0c0cff"/><rect x="541.7" y="443.9" width="2.7" height="2.7" fill="#0c14ff"/><rect x="544.4" y="443.9" width="2.7" height="2.7" fill="#1434ff"/><rect x="547" y="443.9" width="2.7" height="2.7" fill="#146cff"/><rect x="549.7" y="443.9" width="2.7" height="2.7" fill="#14b4ff"/><rect x="552.3" y="443.9" width="2.7" height="2.7" fill="#44f4e4"/><rect x="555" y="443.9" width="2.7" height="2.7" fill="#acff9c"/><rect x="557.7" y="443.9" width="2.7" height="2.7" fill="#ecff3c"/><rect x="560.3" y="443.9" width="2.7" height="2.7" fill="#ffe424"/><rect x="563" y="443.9" width="2.7" height="2.7" fill="#ffcc1c"/><rect x="565.6" y="443.9" width="2.7" height="2.7" fill="#ffcc14"/><rect x="568.3" y="443.9" width="2.7" height="2.7" fill="#ffd41c"/><rect x="571" y="443.9" width="2.7" height="2.7" fill="#fffc24"/><rect x="573.6" y="443.9" width="2.7" height="2.7" fill="#c4ff7c"/><rect x="576.3" y="443.9" width="2.7" height="2.7" fill="#6cf4cc"/><rect x="578.9" y="443.9" width="2.7" height="2.7" fill="#1cccff"/><rect x="581.6" y="443.9" width="2.7" height="2.7" fill="#147cff"/><rect x="584.3" y="443.9" width="2.7" height="2.7" fill="#1444ff"/><rect x="586.9" y="443.9" width="5.4" height="2.7" fill="#0c24ff"/><rect x="592.2" y="443.9" width="2.7" height="2.7" fill="#0c2cff"/><rect x="594.9" y="443.9" width="8" height="2.7" fill="#142cff"/><rect x="602.9" y="443.9" width="2.7" height="2.7" fill="#0c2cff"/><rect x="605.5" y="443.9" width="2.7" height="2.7" fill="#0c24ff"/><rect x="608.2" y="443.9" width="2.7" height="2.7" fill="#0c1cff"/><rect x="610.9" y="443.9" width="2.7" height="2.7" fill="#0c14ff"/><rect x="613.5" y="443.9" width="8" height="2.7" fill="#0c0cff"/><rect x="621.5" y="443.9" width="2.7" height="2.7" fill="#0c14ff"/><rect x="624.2" y="443.9" width="2.7" height="2.7" fill="#0c2cff"/><rect x="626.8" y="443.9" width="2.7" height="2.7" fill="#1444ff"/><rect x="629.5" y="443.9" width="2.7" height="2.7" fill="#1464ff"/><rect x="632.1" y="443.9" width="2.7" height="2.7" fill="#147cff"/><rect x="634.8" y="443.9" width="2.7" height="2.7" fill="#1494ff"/><rect x="637.5" y="443.9" width="5.4" height="2.7" fill="#149cff"/><rect x="642.8" y="443.9" width="2.7" height="2.7" fill="#148cff"/><rect x="645.4" y="443.9" width="2.7" height="2.7" fill="#1474ff"/><rect x="648.1" y="443.9" width="2.7" height="2.7" fill="#145cff"/><rect x="650.8" y="443.9" width="2.7" height="2.7" fill="#143cff"/><rect x="653.4" y="443.9" width="2.7" height="2.7" fill="#0c24ff"/><rect x="656.1" y="443.9" width="2.7" height="2.7" fill="#0c0cff"/><rect x="661.4" y="443.9" width="5.4" height="2.7" fill="#0c0cff"/><rect x="666.7" y="443.9" width="2.7" height="2.7" fill="#0c14ff"/><rect x="669.4" y="443.9" width="2.7" height="2.7" fill="#0c1cff"/><rect x="672" y="443.9" width="2.7" height="2.7" fill="#142cff"/><rect x="674.7" y="443.9" width="2.7" height="2.7" fill="#143cff"/><rect x="677.4" y="443.9" width="2.7" height="2.7" fill="#144cff"/><rect x="680" y="443.9" width="2.7" height="2.7" fill="#145cff"/><rect x="682.7" y="443.9" width="2.7" height="2.7" fill="#146cff"/><rect x="685.3" y="443.9" width="2.7" height="2.7" fill="#1474ff"/><rect x="688" y="443.9" width="2.7" height="2.7" fill="#147cff"/><rect x="690.7" y="443.9" width="5.4" height="2.7" fill="#1474ff"/><rect x="696" y="443.9" width="2.7" height="2.7" fill="#146cff"/><rect x="698.6" y="443.9" width="2.7" height="2.7" fill="#145cff"/><rect x="701.3" y="443.9" width="2.7" height="2.7" fill="#1454ff"/><rect x="704" y="443.9" width="2.7" height="2.7" fill="#144cff"/><rect x="706.6" y="443.9" width="2.7" height="2.7" fill="#143cff"/><rect x="709.3" y="443.9" width="2.7" height="2.7" fill="#1434ff"/><rect x="711.9" y="443.9" width="2.7" height="2.7" fill="#0c2cff"/><rect x="714.6" y="443.9" width="2.7" height="2.7" fill="#0c24ff"/><rect x="717.3" y="443.9" width="2.7" height="2.7" fill="#0c1cff"/><rect x="719.9" y="443.9" width="2.7" height="2.7" fill="#0c14ff"/><rect x="722.6" y="443.9" width="8" height="2.7" fill="#0c0cff"/><rect x="539" y="446.6" width="2.7" height="2.7" fill="#0c0cff"/><rect x="541.7" y="446.6" width="2.7" height="2.7" fill="#0c1cff"/><rect x="544.4" y="446.6" width="2.7" height="2.7" fill="#1444ff"/><rect x="547" y="446.6" width="2.7" height="2.7" fill="#148cff"/><rect x="549.7" y="446.6" width="2.7" height="2.7" fill="#1ce4ff"/><rect x="552.3" y="446.6" width="2.7" height="2.7" fill="#9cffac"/><rect x="555" y="446.6" width="2.7" height="2.7" fill="#f4ff3c"/><rect x="557.7" y="446.6" width="2.7" height="2.7" fill="#ffcc1c"/><rect x="560.3" y="446.6" width="2.7" height="2.7" fill="#ffa40c"/><rect x="563" y="446.6" width="2.7" height="2.7" fill="#ff8c0c"/><rect x="565.6" y="446.6" width="2.7" height="2.7" fill="#ff840c"/><rect x="568.3" y="446.6" width="2.7" height="2.7" fill="#ff940c"/><rect x="571" y="446.6" width="2.7" height="2.7" fill="#ffbc14"/><rect x="573.6" y="446.6" width="2.7" height="2.7" fill="#ffec24"/><rect x="576.3" y="446.6" width="2.7" height="2.7" fill="#bcff84"/><rect x="578.9" y="446.6" width="2.7" height="2.7" fill="#4cf4e4"/><rect x="581.6" y="446.6" width="2.7" height="2.7" fill="#1cb4ff"/><rect x="584.3" y="446.6" width="2.7" height="2.7" fill="#1474ff"/><rect x="586.9" y="446.6" width="2.7" height="2.7" fill="#144cff"/><rect x="589.6" y="446.6" width="2.7" height="2.7" fill="#143cff"/><rect x="592.2" y="446.6" width="2.7" height="2.7" fill="#1444ff"/><rect x="594.9" y="446.6" width="2.7" height="2.7" fill="#144cff"/><rect x="597.6" y="446.6" width="2.7" height="2.7" fill="#1454ff"/><rect x="600.2" y="446.6" width="2.7" height="2.7" fill="#144cff"/><rect x="602.9" y="446.6" width="2.7" height="2.7" fill="#1444ff"/><rect x="605.5" y="446.6" width="2.7" height="2.7" fill="#143cff"/><rect x="608.2" y="446.6" width="2.7" height="2.7" fill="#142cff"/><rect x="610.9" y="446.6" width="2.7" height="2.7" fill="#0c24ff"/><rect x="613.5" y="446.6" width="2.7" height="2.7" fill="#0c14ff"/><rect x="616.2" y="446.6" width="2.7" height="2.7" fill="#0c0cff"/><rect x="618.8" y="446.6" width="2.7" height="2.7" fill="#0c14ff"/><rect x="621.5" y="446.6" width="2.7" height="2.7" fill="#1434ff"/><rect x="624.2" y="446.6" width="2.7" height="2.7" fill="#145cff"/><rect x="626.8" y="446.6" width="2.7" height="2.7" fill="#148cff"/><rect x="629.5" y="446.6" width="2.7" height="2.7" fill="#1cbcff"/><rect x="632.1" y="446.6" width="2.7" height="2.7" fill="#1ce4ff"/><rect x="634.8" y="446.6" width="2.7" height="2.7" fill="#44f4ec"/><rect x="637.5" y="446.6" width="2.7" height="2.7" fill="#54f4dc"/><rect x="640.1" y="446.6" width="2.7" height="2.7" fill="#4cf4dc"/><rect x="642.8" y="446.6" width="2.7" height="2.7" fill="#34ecf4"/><rect x="645.4" y="446.6" width="2.7" height="2.7" fill="#1cd4ff"/><rect x="648.1" y="446.6" width="2.7" height="2.7" fill="#14a4ff"/><rect x="650.8" y="446.6" width="2.7" height="2.7" fill="#1474ff"/><rect x="653.4" y="446.6" width="2.7" height="2.7" fill="#144cff"/><rect x="656.1" y="446.6" width="2.7" height="2.7" fill="#0c24ff"/><rect x="658.7" y="446.6" width="2.7" height="2.7" fill="#0c14ff"/><rect x="661.4" y="446.6" width="2.7" height="2.7" fill="#0c0cff"/><rect x="664.1" y="446.6" width="2.7" height="2.7" fill="#0c14ff"/><rect x="666.7" y="446.6" width="2.7" height="2.7" fill="#0c1cff"/><rect x="669.4" y="446.6" width="2.7" height="2.7" fill="#0c2cff"/><rect x="672" y="446.6" width="2.7" height="2.7" fill="#143cff"/><rect x="674.7" y="446.6" width="2.7" height="2.7" fill="#144cff"/><rect x="677.4" y="446.6" width="2.7" height="2.7" fill="#145cff"/><rect x="680" y="446.6" width="2.7" height="2.7" fill="#1474ff"/><rect x="682.7" y="446.6" width="2.7" height="2.7" fill="#147cff"/><rect x="685.3" y="446.6" width="10.7" height="2.7" fill="#148cff"/><rect x="696" y="446.6" width="2.7" height="2.7" fill="#1484ff"/><rect x="698.6" y="446.6" width="2.7" height="2.7" fill="#147cff"/><rect x="701.3" y="446.6" width="2.7" height="2.7" fill="#146cff"/><rect x="704" y="446.6" width="2.7" height="2.7" fill="#145cff"/><rect x="706.6" y="446.6" width="2.7" height="2.7" fill="#1454ff"/><rect x="709.3" y="446.6" width="2.7" height="2.7" fill="#1444ff"/><rect x="711.9" y="446.6" width="2.7" height="2.7" fill="#143cff"/><rect x="714.6" y="446.6" width="2.7" height="2.7" fill="#142cff"/><rect x="717.3" y="446.6" width="2.7" height="2.7" fill="#0c24ff"/><rect x="719.9" y="446.6" width="2.7" height="2.7" fill="#0c1cff"/><rect x="722.6" y="446.6" width="5.4" height="2.7" fill="#0c14ff"/><rect x="727.9" y="446.6" width="5.4" height="2.7" fill="#0c0cff"/><rect x="539" y="449.2" width="2.7" height="2.7" fill="#0c0cff"/><rect x="541.7" y="449.2" width="2.7" height="2.7" fill="#0c24ff"/><rect x="544.4" y="449.2" width="2.7" height="2.7" fill="#1454ff"/><rect x="547" y="449.2" width="2.7" height="2.7" fill="#14a4ff"/><rect x="549.7" y="449.2" width="2.7" height="2.7" fill="#44f4e4"/><rect x="552.3" y="449.2" width="2.7" height="2.7" fill="#c4ff7c"/><rect x="555" y="449.2" width="2.7" height="2.7" fill="#ffe424"/><rect x="557.7" y="449.2" width="2.7" height="2.7" fill="#ffa40c"/><rect x="560.3" y="449.2" width="2.7" height="2.7" fill="#ff7c0c"/><rect x="563" y="449.2" width="2.7" height="2.7" fill="#ff6404"/><rect x="565.6" y="449.2" width="2.7" height="2.7" fill="#ff5c04"/><rect x="568.3" y="449.2" width="2.7" height="2.7" fill="#ff6c0c"/><rect x="571" y="449.2" width="2.7" height="2.7" fill="#ff940c"/><rect x="573.6" y="449.2" width="2.7" height="2.7" fill="#ffcc14"/><rect x="576.3" y="449.2" width="2.7" height="2.7" fill="#ecff44"/><rect x="578.9" y="449.2" width="2.7" height="2.7" fill="#94ffb4"/><rect x="581.6" y="449.2" width="2.7" height="2.7" fill="#24ecff"/><rect x="584.3" y="449.2" width="2.7" height="2.7" fill="#14a4ff"/><rect x="586.9" y="449.2" width="2.7" height="2.7" fill="#1474ff"/><rect x="589.6" y="449.2" width="2.7" height="2.7" fill="#1464ff"/><rect x="592.2" y="449.2" width="2.7" height="2.7" fill="#146cff"/><rect x="594.9" y="449.2" width="2.7" height="2.7" fill="#1474ff"/><rect x="597.6" y="449.2" width="2.7" height="2.7" fill="#147cff"/><rect x="600.2" y="449.2" width="2.7" height="2.7" fill="#1474ff"/><rect x="602.9" y="449.2" width="2.7" height="2.7" fill="#146cff"/><rect x="605.5" y="449.2" width="2.7" height="2.7" fill="#145cff"/><rect x="608.2" y="449.2" width="2.7" height="2.7" fill="#1444ff"/><rect x="610.9" y="449.2" width="2.7" height="2.7" fill="#1434ff"/><rect x="613.5" y="449.2" width="2.7" height="2.7" fill="#0c24ff"/><rect x="616.2" y="449.2" width="2.7" height="2.7" fill="#0c1cff"/><rect x="618.8" y="449.2" width="2.7" height="2.7" fill="#1434ff"/><rect x="621.5" y="449.2" width="2.7" height="2.7" fill="#145cff"/><rect x="624.2" y="449.2" width="2.7" height="2.7" fill="#1494ff"/><rect x="626.8" y="449.2" width="2.7" height="2.7" fill="#1ce4ff"/><rect x="629.5" y="449.2" width="2.7" height="2.7" fill="#64f4cc"/><rect x="632.1" y="449.2" width="2.7" height="2.7" fill="#acff9c"/><rect x="634.8" y="449.2" width="2.7" height="2.7" fill="#ccff74"/><rect x="637.5" y="449.2" width="5.4" height="2.7" fill="#dcff5c"/><rect x="642.8" y="449.2" width="2.7" height="2.7" fill="#c4ff7c"/><rect x="645.4" y="449.2" width="2.7" height="2.7" fill="#94ffb4"/><rect x="648.1" y="449.2" width="2.7" height="2.7" fill="#44f4e4"/><rect x="650.8" y="449.2" width="2.7" height="2.7" fill="#1cc4ff"/><rect x="653.4" y="449.2" width="2.7" height="2.7" fill="#1484ff"/><rect x="656.1" y="449.2" width="2.7" height="2.7" fill="#144cff"/><rect x="658.7" y="449.2" width="2.7" height="2.7" fill="#0c24ff"/><rect x="661.4" y="449.2" width="2.7" height="2.7" fill="#0c14ff"/><rect x="664.1" y="449.2" width="2.7" height="2.7" fill="#0c1cff"/><rect x="666.7" y="449.2" width="2.7" height="2.7" fill="#0c24ff"/><rect x="669.4" y="449.2" width="2.7" height="2.7" fill="#1434ff"/><rect x="672" y="449.2" width="2.7" height="2.7" fill="#1444ff"/><rect x="674.7" y="449.2" width="2.7" height="2.7" fill="#1454ff"/><rect x="677.4" y="449.2" width="2.7" height="2.7" fill="#146cff"/><rect x="680" y="449.2" width="2.7" height="2.7" fill="#147cff"/><rect x="682.7" y="449.2" width="2.7" height="2.7" fill="#148cff"/><rect x="685.3" y="449.2" width="2.7" height="2.7" fill="#1494ff"/><rect x="688" y="449.2" width="8" height="2.7" fill="#149cff"/><rect x="696" y="449.2" width="2.7" height="2.7" fill="#1494ff"/><rect x="698.6" y="449.2" width="2.7" height="2.7" fill="#148cff"/><rect x="701.3" y="449.2" width="2.7" height="2.7" fill="#1484ff"/><rect x="704" y="449.2" width="2.7" height="2.7" fill="#1474ff"/><rect x="706.6" y="449.2" width="2.7" height="2.7" fill="#1464ff"/><rect x="709.3" y="449.2" width="2.7" height="2.7" fill="#1454ff"/><rect x="711.9" y="449.2" width="2.7" height="2.7" fill="#1444ff"/><rect x="714.6" y="449.2" width="2.7" height="2.7" fill="#143cff"/><rect x="717.3" y="449.2" width="2.7" height="2.7" fill="#142cff"/><rect x="719.9" y="449.2" width="2.7" height="2.7" fill="#0c24ff"/><rect x="722.6" y="449.2" width="5.4" height="2.7" fill="#0c1cff"/><rect x="727.9" y="449.2" width="2.7" height="2.7" fill="#0c14ff"/><rect x="730.6" y="449.2" width="2.7" height="2.7" fill="#0c0cff"/><rect x="539" y="451.9" width="2.7" height="2.7" fill="#0c0cff"/><rect x="541.7" y="451.9" width="2.7" height="2.7" fill="#0c24ff"/><rect x="544.4" y="451.9" width="2.7" height="2.7" fill="#145cff"/><rect x="547" y="451.9" width="2.7" height="2.7" fill="#14acff"/><rect x="549.7" y="451.9" width="2.7" height="2.7" fill="#54f4dc"/><rect x="552.3" y="451.9" width="2.7" height="2.7" fill="#d4ff6c"/><rect x="555" y="451.9" width="2.7" height="2.7" fill="#ffd41c"/><rect x="557.7" y="451.9" width="2.7" height="2.7" fill="#ff9c0c"/><rect x="560.3" y="451.9" width="2.7" height="2.7" fill="#ff6c0c"/><rect x="563" y="451.9" width="2.7" height="2.7" fill="#ff5404"/><rect x="565.6" y="451.9" width="2.7" height="2.7" fill="#ff4c04"/><rect x="568.3" y="451.9" width="2.7" height="2.7" fill="#ff5c04"/><rect x="571" y="451.9" width="2.7" height="2.7" fill="#ff840c"/><rect x="573.6" y="451.9" width="2.7" height="2.7" fill="#ffbc14"/><rect x="576.3" y="451.9" width="2.7" height="2.7" fill="#fff424"/><rect x="578.9" y="451.9" width="2.7" height="2.7" fill="#bcff8c"/><rect x="581.6" y="451.9" width="2.7" height="2.7" fill="#5cf4d4"/><rect x="584.3" y="451.9" width="2.7" height="2.7" fill="#1cd4ff"/><rect x="586.9" y="451.9" width="2.7" height="2.7" fill="#149cff"/><rect x="589.6" y="451.9" width="2.7" height="2.7" fill="#148cff"/><rect x="592.2" y="451.9" width="2.7" height="2.7" fill="#1494ff"/><rect x="594.9" y="451.9" width="2.7" height="2.7" fill="#149cff"/><rect x="597.6" y="451.9" width="2.7" height="2.7" fill="#14a4ff"/><rect x="600.2" y="451.9" width="2.7" height="2.7" fill="#149cff"/><rect x="602.9" y="451.9" width="2.7" height="2.7" fill="#1494ff"/><rect x="605.5" y="451.9" width="2.7" height="2.7" fill="#147cff"/><rect x="608.2" y="451.9" width="2.7" height="2.7" fill="#1464ff"/><rect x="610.9" y="451.9" width="2.7" height="2.7" fill="#144cff"/><rect x="613.5" y="451.9" width="2.7" height="2.7" fill="#1434ff"/><rect x="616.2" y="451.9" width="2.7" height="2.7" fill="#143cff"/><rect x="618.8" y="451.9" width="2.7" height="2.7" fill="#1454ff"/><rect x="621.5" y="451.9" width="2.7" height="2.7" fill="#148cff"/><rect x="624.2" y="451.9" width="2.7" height="2.7" fill="#1ce4ff"/><rect x="626.8" y="451.9" width="2.7" height="2.7" fill="#84ffbc"/><rect x="629.5" y="451.9" width="2.7" height="2.7" fill="#d4ff64"/><rect x="632.1" y="451.9" width="2.7" height="2.7" fill="#fff424"/><rect x="634.8" y="451.9" width="2.7" height="2.7" fill="#ffd41c"/><rect x="637.5" y="451.9" width="5.4" height="2.7" fill="#ffc414"/><rect x="642.8" y="451.9" width="2.7" height="2.7" fill="#ffdc1c"/><rect x="645.4" y="451.9" width="2.7" height="2.7" fill="#fcff34"/><rect x="648.1" y="451.9" width="2.7" height="2.7" fill="#bcff8c"/><rect x="650.8" y="451.9" width="2.7" height="2.7" fill="#5cf4d4"/><rect x="653.4" y="451.9" width="2.7" height="2.7" fill="#1cc4ff"/><rect x="656.1" y="451.9" width="2.7" height="2.7" fill="#1474ff"/><rect x="658.7" y="451.9" width="2.7" height="2.7" fill="#143cff"/><rect x="661.4" y="451.9" width="2.7" height="2.7" fill="#0c24ff"/><rect x="664.1" y="451.9" width="2.7" height="2.7" fill="#0c1cff"/><rect x="666.7" y="451.9" width="2.7" height="2.7" fill="#0c24ff"/><rect x="669.4" y="451.9" width="2.7" height="2.7" fill="#1434ff"/><rect x="672" y="451.9" width="2.7" height="2.7" fill="#1444ff"/><rect x="674.7" y="451.9" width="2.7" height="2.7" fill="#145cff"/><rect x="677.4" y="451.9" width="2.7" height="2.7" fill="#1474ff"/><rect x="680" y="451.9" width="2.7" height="2.7" fill="#1484ff"/><rect x="682.7" y="451.9" width="2.7" height="2.7" fill="#1494ff"/><rect x="685.3" y="451.9" width="2.7" height="2.7" fill="#149cff"/><rect x="688" y="451.9" width="2.7" height="2.7" fill="#14a4ff"/><rect x="690.7" y="451.9" width="8" height="2.7" fill="#14acff"/><rect x="698.6" y="451.9" width="2.7" height="2.7" fill="#149cff"/><rect x="701.3" y="451.9" width="2.7" height="2.7" fill="#148cff"/><rect x="704" y="451.9" width="2.7" height="2.7" fill="#1484ff"/><rect x="706.6" y="451.9" width="2.7" height="2.7" fill="#1474ff"/><rect x="709.3" y="451.9" width="2.7" height="2.7" fill="#1464ff"/><rect x="711.9" y="451.9" width="2.7" height="2.7" fill="#1454ff"/><rect x="714.6" y="451.9" width="2.7" height="2.7" fill="#1444ff"/><rect x="717.3" y="451.9" width="2.7" height="2.7" fill="#143cff"/><rect x="719.9" y="451.9" width="2.7" height="2.7" fill="#1434ff"/><rect x="722.6" y="451.9" width="2.7" height="2.7" fill="#0c24ff"/><rect x="725.2" y="451.9" width="2.7" height="2.7" fill="#0c1cff"/><rect x="727.9" y="451.9" width="2.7" height="2.7" fill="#0c14ff"/><rect x="730.6" y="451.9" width="5.4" height="2.7" fill="#0c0cff"/><rect x="539" y="454.5" width="2.7" height="2.7" fill="#0c0cff"/><rect x="541.7" y="454.5" width="2.7" height="2.7" fill="#0c24ff"/><rect x="544.4" y="454.5" width="2.7" height="2.7" fill="#1454ff"/><rect x="547" y="454.5" width="2.7" height="2.7" fill="#149cff"/><rect x="549.7" y="454.5" width="2.7" height="2.7" fill="#44f4e4"/><rect x="552.3" y="454.5" width="2.7" height="2.7" fill="#c4ff7c"/><rect x="555" y="454.5" width="2.7" height="2.7" fill="#ffe424"/><rect x="557.7" y="454.5" width="2.7" height="2.7" fill="#ffa40c"/><rect x="560.3" y="454.5" width="2.7" height="2.7" fill="#ff7c0c"/><rect x="563" y="454.5" width="5.4" height="2.7" fill="#ff5c04"/><rect x="568.3" y="454.5" width="2.7" height="2.7" fill="#ff6c0c"/><rect x="571" y="454.5" width="2.7" height="2.7" fill="#ff8c0c"/><rect x="573.6" y="454.5" width="2.7" height="2.7" fill="#ffc414"/><rect x="576.3" y="454.5" width="2.7" height="2.7" fill="#fff424"/><rect x="578.9" y="454.5" width="2.7" height="2.7" fill="#c4ff7c"/><rect x="581.6" y="454.5" width="2.7" height="2.7" fill="#6cf4cc"/><rect x="584.3" y="454.5" width="2.7" height="2.7" fill="#1cecff"/><rect x="586.9" y="454.5" width="2.7" height="2.7" fill="#1cbcff"/><rect x="589.6" y="454.5" width="2.7" height="2.7" fill="#14acff"/><rect x="592.2" y="454.5" width="2.7" height="2.7" fill="#1cbcff"/><rect x="594.9" y="454.5" width="2.7" height="2.7" fill="#1cc4ff"/><rect x="597.6" y="454.5" width="2.7" height="2.7" fill="#1cccff"/><rect x="600.2" y="454.5" width="2.7" height="2.7" fill="#1cc4ff"/><rect x="602.9" y="454.5" width="2.7" height="2.7" fill="#1cb4ff"/><rect x="605.5" y="454.5" width="2.7" height="2.7" fill="#149cff"/><rect x="608.2" y="454.5" width="2.7" height="2.7" fill="#1484ff"/><rect x="610.9" y="454.5" width="2.7" height="2.7" fill="#1464ff"/><rect x="613.5" y="454.5" width="2.7" height="2.7" fill="#144cff"/><rect x="616.2" y="454.5" width="2.7" height="2.7" fill="#145cff"/><rect x="618.8" y="454.5" width="2.7" height="2.7" fill="#1484ff"/><rect x="621.5" y="454.5" width="2.7" height="2.7" fill="#1cccff"/><rect x="624.2" y="454.5" width="2.7" height="2.7" fill="#6cf4cc"/><rect x="626.8" y="454.5" width="2.7" height="2.7" fill="#d4ff64"/><rect x="629.5" y="454.5" width="2.7" height="2.7" fill="#ffdc1c"/><rect x="632.1" y="454.5" width="2.7" height="2.7" fill="#ffac0c"/><rect x="634.8" y="454.5" width="2.7" height="2.7" fill="#ff8c0c"/><rect x="637.5" y="454.5" width="2.7" height="2.7" fill="#ff7c0c"/><rect x="640.1" y="454.5" width="2.7" height="2.7" fill="#ff840c"/><rect x="642.8" y="454.5" width="2.7" height="2.7" fill="#ff9c0c"/><rect x="645.4" y="454.5" width="2.7" height="2.7" fill="#ffbc14"/><rect x="648.1" y="454.5" width="2.7" height="2.7" fill="#fff424"/><rect x="650.8" y="454.5" width="2.7" height="2.7" fill="#b4ff94"/><rect x="653.4" y="454.5" width="2.7" height="2.7" fill="#3cecec"/><rect x="656.1" y="454.5" width="2.7" height="2.7" fill="#14a4ff"/><rect x="658.7" y="454.5" width="2.7" height="2.7" fill="#145cff"/><rect x="661.4" y="454.5" width="2.7" height="2.7" fill="#142cff"/><rect x="664.1" y="454.5" width="2.7" height="2.7" fill="#0c24ff"/><rect x="666.7" y="454.5" width="2.7" height="2.7" fill="#0c2cff"/><rect x="669.4" y="454.5" width="2.7" height="2.7" fill="#1434ff"/><rect x="672" y="454.5" width="2.7" height="2.7" fill="#144cff"/><rect x="674.7" y="454.5" width="2.7" height="2.7" fill="#145cff"/><rect x="677.4" y="454.5" width="2.7" height="2.7" fill="#1474ff"/><rect x="680" y="454.5" width="2.7" height="2.7" fill="#1484ff"/><rect x="682.7" y="454.5" width="2.7" height="2.7" fill="#1494ff"/><rect x="685.3" y="454.5" width="2.7" height="2.7" fill="#149cff"/><rect x="688" y="454.5" width="2.7" height="2.7" fill="#14acff"/><rect x="690.7" y="454.5" width="5.4" height="2.7" fill="#14b4ff"/><rect x="696" y="454.5" width="2.7" height="2.7" fill="#14acff"/><rect x="698.6" y="454.5" width="2.7" height="2.7" fill="#14a4ff"/><rect x="701.3" y="454.5" width="2.7" height="2.7" fill="#1494ff"/><rect x="704" y="454.5" width="2.7" height="2.7" fill="#1484ff"/><rect x="706.6" y="454.5" width="2.7" height="2.7" fill="#147cff"/><rect x="709.3" y="454.5" width="2.7" height="2.7" fill="#146cff"/><rect x="711.9" y="454.5" width="2.7" height="2.7" fill="#145cff"/><rect x="714.6" y="454.5" width="2.7" height="2.7" fill="#144cff"/><rect x="717.3" y="454.5" width="2.7" height="2.7" fill="#1444ff"/><rect x="719.9" y="454.5" width="2.7" height="2.7" fill="#143cff"/><rect x="722.6" y="454.5" width="2.7" height="2.7" fill="#142cff"/><rect x="725.2" y="454.5" width="2.7" height="2.7" fill="#0c24ff"/><rect x="727.9" y="454.5" width="2.7" height="2.7" fill="#0c1cff"/><rect x="730.6" y="454.5" width="2.7" height="2.7" fill="#0c14ff"/><rect x="733.2" y="454.5" width="2.7" height="2.7" fill="#0c0cff"/><rect x="539" y="457.2" width="2.7" height="2.7" fill="#0c0cff"/><rect x="541.7" y="457.2" width="2.7" height="2.7" fill="#0c1cff"/><rect x="544.4" y="457.2" width="2.7" height="2.7" fill="#1444ff"/><rect x="547" y="457.2" width="2.7" height="2.7" fill="#1484ff"/><rect x="549.7" y="457.2" width="2.7" height="2.7" fill="#1ce4ff"/><rect x="552.3" y="457.2" width="2.7" height="2.7" fill="#94ffac"/><rect x="555" y="457.2" width="2.7" height="2.7" fill="#f4ff3c"/><rect x="557.7" y="457.2" width="2.7" height="2.7" fill="#ffcc1c"/><rect x="560.3" y="457.2" width="2.7" height="2.7" fill="#ff9c0c"/><rect x="563" y="457.2" width="5.4" height="2.7" fill="#ff840c"/><rect x="568.3" y="457.2" width="2.7" height="2.7" fill="#ff940c"/><rect x="571" y="457.2" width="2.7" height="2.7" fill="#ffb414"/><rect x="573.6" y="457.2" width="2.7" height="2.7" fill="#ffdc1c"/><rect x="576.3" y="457.2" width="2.7" height="2.7" fill="#ecff4c"/><rect x="578.9" y="457.2" width="2.7" height="2.7" fill="#acff9c"/><rect x="581.6" y="457.2" width="2.7" height="2.7" fill="#64f4d4"/><rect x="584.3" y="457.2" width="2.7" height="2.7" fill="#1cecff"/><rect x="586.9" y="457.2" width="2.7" height="2.7" fill="#1cccff"/><rect x="589.6" y="457.2" width="2.7" height="2.7" fill="#1cc4ff"/><rect x="592.2" y="457.2" width="2.7" height="2.7" fill="#1cd4ff"/><rect x="594.9" y="457.2" width="2.7" height="2.7" fill="#1ce4ff"/><rect x="597.6" y="457.2" width="2.7" height="2.7" fill="#1cecff"/><rect x="600.2" y="457.2" width="2.7" height="2.7" fill="#1ce4ff"/><rect x="602.9" y="457.2" width="2.7" height="2.7" fill="#1cd4ff"/><rect x="605.5" y="457.2" width="2.7" height="2.7" fill="#1cb4ff"/><rect x="608.2" y="457.2" width="2.7" height="2.7" fill="#1494ff"/><rect x="610.9" y="457.2" width="2.7" height="2.7" fill="#1474ff"/><rect x="613.5" y="457.2" width="2.7" height="2.7" fill="#1464ff"/><rect x="616.2" y="457.2" width="2.7" height="2.7" fill="#147cff"/><rect x="618.8" y="457.2" width="2.7" height="2.7" fill="#14acff"/><rect x="621.5" y="457.2" width="2.7" height="2.7" fill="#34ecf4"/><rect x="624.2" y="457.2" width="2.7" height="2.7" fill="#acff9c"/><rect x="626.8" y="457.2" width="2.7" height="2.7" fill="#fff424"/><rect x="629.5" y="457.2" width="2.7" height="2.7" fill="#ffb40c"/><rect x="632.1" y="457.2" width="2.7" height="2.7" fill="#ff7c0c"/><rect x="634.8" y="457.2" width="2.7" height="2.7" fill="#ff5c04"/><rect x="637.5" y="457.2" width="5.4" height="2.7" fill="#ff4c04"/><rect x="642.8" y="457.2" width="2.7" height="2.7" fill="#ff640c"/><rect x="645.4" y="457.2" width="2.7" height="2.7" fill="#ff8c0c"/><rect x="648.1" y="457.2" width="2.7" height="2.7" fill="#ffc414"/><rect x="650.8" y="457.2" width="2.7" height="2.7" fill="#ecff4c"/><rect x="653.4" y="457.2" width="2.7" height="2.7" fill="#7cfcc4"/><rect x="656.1" y="457.2" width="2.7" height="2.7" fill="#1cccff"/><rect x="658.7" y="457.2" width="2.7" height="2.7" fill="#1474ff"/><rect x="661.4" y="457.2" width="2.7" height="2.7" fill="#143cff"/><rect x="664.1" y="457.2" width="2.7" height="2.7" fill="#0c24ff"/><rect x="666.7" y="457.2" width="2.7" height="2.7" fill="#0c2cff"/><rect x="669.4" y="457.2" width="2.7" height="2.7" fill="#1434ff"/><rect x="672" y="457.2" width="2.7" height="2.7" fill="#1444ff"/><rect x="674.7" y="457.2" width="2.7" height="2.7" fill="#145cff"/><rect x="677.4" y="457.2" width="2.7" height="2.7" fill="#146cff"/><rect x="680" y="457.2" width="2.7" height="2.7" fill="#147cff"/><rect x="682.7" y="457.2" width="2.7" height="2.7" fill="#148cff"/><rect x="685.3" y="457.2" width="2.7" height="2.7" fill="#1494ff"/><rect x="688" y="457.2" width="2.7" height="2.7" fill="#14a4ff"/><rect x="690.7" y="457.2" width="8" height="2.7" fill="#14acff"/><rect x="698.6" y="457.2" width="2.7" height="2.7" fill="#14a4ff"/><rect x="701.3" y="457.2" width="2.7" height="2.7" fill="#1494ff"/><rect x="704" y="457.2" width="2.7" height="2.7" fill="#1484ff"/><rect x="706.6" y="457.2" width="2.7" height="2.7" fill="#147cff"/><rect x="709.3" y="457.2" width="2.7" height="2.7" fill="#146cff"/><rect x="711.9" y="457.2" width="2.7" height="2.7" fill="#145cff"/><rect x="714.6" y="457.2" width="2.7" height="2.7" fill="#1454ff"/><rect x="717.3" y="457.2" width="2.7" height="2.7" fill="#1444ff"/><rect x="719.9" y="457.2" width="2.7" height="2.7" fill="#143cff"/><rect x="722.6" y="457.2" width="2.7" height="2.7" fill="#1434ff"/><rect x="725.2" y="457.2" width="2.7" height="2.7" fill="#0c2cff"/><rect x="727.9" y="457.2" width="2.7" height="2.7" fill="#0c1cff"/><rect x="730.6" y="457.2" width="2.7" height="2.7" fill="#0c14ff"/><rect x="733.2" y="457.2" width="5.4" height="2.7" fill="#0c0cff"/><rect x="541.7" y="459.9" width="2.7" height="2.7" fill="#0c14ff"/><rect x="544.4" y="459.9" width="2.7" height="2.7" fill="#142cff"/><rect x="547" y="459.9" width="2.7" height="2.7" fill="#1464ff"/><rect x="549.7" y="459.9" width="2.7" height="2.7" fill="#14acff"/><rect x="552.3" y="459.9" width="2.7" height="2.7" fill="#44f4e4"/><rect x="555" y="459.9" width="2.7" height="2.7" fill="#b4ff9c"/><rect x="557.7" y="459.9" width="2.7" height="2.7" fill="#f4ff3c"/><rect x="560.3" y="459.9" width="2.7" height="2.7" fill="#ffdc1c"/><rect x="563" y="459.9" width="2.7" height="2.7" fill="#ffc414"/><rect x="565.6" y="459.9" width="2.7" height="2.7" fill="#ffbc14"/><rect x="568.3" y="459.9" width="2.7" height="2.7" fill="#ffcc1c"/><rect x="571" y="459.9" width="2.7" height="2.7" fill="#ffec24"/><rect x="573.6" y="459.9" width="2.7" height="2.7" fill="#e4ff54"/><rect x="576.3" y="459.9" width="2.7" height="2.7" fill="#b4ff94"/><rect x="578.9" y="459.9" width="2.7" height="2.7" fill="#74f4c4"/><rect x="581.6" y="459.9" width="2.7" height="2.7" fill="#34ecf4"/><rect x="584.3" y="459.9" width="2.7" height="2.7" fill="#1cdcff"/><rect x="586.9" y="459.9" width="2.7" height="2.7" fill="#1cc4ff"/><rect x="589.6" y="459.9" width="2.7" height="2.7" fill="#1cd4ff"/><rect x="592.2" y="459.9" width="2.7" height="2.7" fill="#1ce4ff"/><rect x="594.9" y="459.9" width="2.7" height="2.7" fill="#2cecfc"/><rect x="597.6" y="459.9" width="2.7" height="2.7" fill="#2cecf4"/><rect x="600.2" y="459.9" width="2.7" height="2.7" fill="#24ecfc"/><rect x="602.9" y="459.9" width="2.7" height="2.7" fill="#1ce4ff"/><rect x="605.5" y="459.9" width="2.7" height="2.7" fill="#1cc4ff"/><rect x="608.2" y="459.9" width="2.7" height="2.7" fill="#14a4ff"/><rect x="610.9" y="459.9" width="2.7" height="2.7" fill="#147cff"/><rect x="613.5" y="459.9" width="2.7" height="2.7" fill="#1474ff"/><rect x="616.2" y="459.9" width="2.7" height="2.7" fill="#148cff"/><rect x="618.8" y="459.9" width="2.7" height="2.7" fill="#1cc4ff"/><rect x="621.5" y="459.9" width="2.7" height="2.7" fill="#54f4dc"/><rect x="624.2" y="459.9" width="2.7" height="2.7" fill="#ccff74"/><rect x="626.8" y="459.9" width="2.7" height="2.7" fill="#ffd41c"/><rect x="629.5" y="459.9" width="2.7" height="2.7" fill="#ff940c"/><rect x="632.1" y="459.9" width="2.7" height="2.7" fill="#ff5c04"/><rect x="634.8" y="459.9" width="2.7" height="2.7" fill="#ff3c04"/><rect x="637.5" y="459.9" width="5.4" height="2.7" fill="#ff2c04"/><rect x="642.8" y="459.9" width="2.7" height="2.7" fill="#ff4404"/><rect x="645.4" y="459.9" width="2.7" height="2.7" fill="#ff740c"/><rect x="648.1" y="459.9" width="2.7" height="2.7" fill="#ffac0c"/><rect x="650.8" y="459.9" width="2.7" height="2.7" fill="#fff424"/><rect x="653.4" y="459.9" width="2.7" height="2.7" fill="#a4ffa4"/><rect x="656.1" y="459.9" width="2.7" height="2.7" fill="#1ce4ff"/><rect x="658.7" y="459.9" width="2.7" height="2.7" fill="#1484ff"/><rect x="661.4" y="459.9" width="2.7" height="2.7" fill="#1444ff"/><rect x="664.1" y="459.9" width="5.4" height="2.7" fill="#0c24ff"/><rect x="669.4" y="459.9" width="2.7" height="2.7" fill="#1434ff"/><rect x="672" y="459.9" width="2.7" height="2.7" fill="#1444ff"/><rect x="674.7" y="459.9" width="2.7" height="2.7" fill="#1454ff"/><rect x="677.4" y="459.9" width="2.7" height="2.7" fill="#1464ff"/><rect x="680" y="459.9" width="2.7" height="2.7" fill="#1474ff"/><rect x="682.7" y="459.9" width="2.7" height="2.7" fill="#147cff"/><rect x="685.3" y="459.9" width="2.7" height="2.7" fill="#1484ff"/><rect x="688" y="459.9" width="2.7" height="2.7" fill="#148cff"/><rect x="690.7" y="459.9" width="2.7" height="2.7" fill="#1494ff"/><rect x="693.3" y="459.9" width="5.4" height="2.7" fill="#149cff"/><rect x="698.6" y="459.9" width="2.7" height="2.7" fill="#1494ff"/><rect x="701.3" y="459.9" width="2.7" height="2.7" fill="#148cff"/><rect x="704" y="459.9" width="2.7" height="2.7" fill="#147cff"/><rect x="706.6" y="459.9" width="2.7" height="2.7" fill="#1474ff"/><rect x="709.3" y="459.9" width="2.7" height="2.7" fill="#146cff"/><rect x="711.9" y="459.9" width="2.7" height="2.7" fill="#145cff"/><rect x="714.6" y="459.9" width="2.7" height="2.7" fill="#1454ff"/><rect x="717.3" y="459.9" width="2.7" height="2.7" fill="#144cff"/><rect x="719.9" y="459.9" width="2.7" height="2.7" fill="#1444ff"/><rect x="722.6" y="459.9" width="2.7" height="2.7" fill="#1434ff"/><rect x="725.2" y="459.9" width="2.7" height="2.7" fill="#0c2cff"/><rect x="727.9" y="459.9" width="2.7" height="2.7" fill="#0c1cff"/><rect x="730.6" y="459.9" width="2.7" height="2.7" fill="#0c14ff"/><rect x="733.2" y="459.9" width="5.4" height="2.7" fill="#0c0cff"/><rect x="541.7" y="462.5" width="2.7" height="2.7" fill="#0c0cff"/><rect x="544.4" y="462.5" width="2.7" height="2.7" fill="#0c1cff"/><rect x="547" y="462.5" width="2.7" height="2.7" fill="#143cff"/><rect x="549.7" y="462.5" width="2.7" height="2.7" fill="#1474ff"/><rect x="552.3" y="462.5" width="2.7" height="2.7" fill="#1cb4ff"/><rect x="555" y="462.5" width="2.7" height="2.7" fill="#3cecec"/><rect x="557.7" y="462.5" width="2.7" height="2.7" fill="#94ffb4"/><rect x="560.3" y="462.5" width="2.7" height="2.7" fill="#c4ff7c"/><rect x="563" y="462.5" width="2.7" height="2.7" fill="#dcff54"/><rect x="565.6" y="462.5" width="2.7" height="2.7" fill="#e4ff4c"/><rect x="568.3" y="462.5" width="2.7" height="2.7" fill="#d4ff64"/><rect x="571" y="462.5" width="2.7" height="2.7" fill="#b4ff94"/><rect x="573.6" y="462.5" width="2.7" height="2.7" fill="#7cfcbc"/><rect x="576.3" y="462.5" width="2.7" height="2.7" fill="#44f4e4"/><rect x="578.9" y="462.5" width="2.7" height="2.7" fill="#1ce4ff"/><rect x="581.6" y="462.5" width="2.7" height="2.7" fill="#1cc4ff"/><rect x="584.3" y="462.5" width="2.7" height="2.7" fill="#1cb4ff"/><rect x="586.9" y="462.5" width="2.7" height="2.7" fill="#1cbcff"/><rect x="589.6" y="462.5" width="2.7" height="2.7" fill="#1cd4ff"/><rect x="592.2" y="462.5" width="2.7" height="2.7" fill="#1ce4ff"/><rect x="594.9" y="462.5" width="2.7" height="2.7" fill="#2cecf4"/><rect x="597.6" y="462.5" width="2.7" height="2.7" fill="#34ecf4"/><rect x="600.2" y="462.5" width="2.7" height="2.7" fill="#24ecfc"/><rect x="602.9" y="462.5" width="2.7" height="2.7" fill="#1ce4ff"/><rect x="605.5" y="462.5" width="2.7" height="2.7" fill="#1cc4ff"/><rect x="608.2" y="462.5" width="2.7" height="2.7" fill="#14a4ff"/><rect x="610.9" y="462.5" width="2.7" height="2.7" fill="#147cff"/><rect x="613.5" y="462.5" width="2.7" height="2.7" fill="#1474ff"/><rect x="616.2" y="462.5" width="2.7" height="2.7" fill="#148cff"/><rect x="618.8" y="462.5" width="2.7" height="2.7" fill="#1cccff"/><rect x="621.5" y="462.5" width="2.7" height="2.7" fill="#5cf4d4"/><rect x="624.2" y="462.5" width="2.7" height="2.7" fill="#d4ff6c"/><rect x="626.8" y="462.5" width="2.7" height="2.7" fill="#ffd41c"/><rect x="629.5" y="462.5" width="2.7" height="2.7" fill="#ff8c0c"/><rect x="632.1" y="462.5" width="2.7" height="2.7" fill="#ff5c04"/><rect x="634.8" y="462.5" width="2.7" height="2.7" fill="#ff3404"/><rect x="637.5" y="462.5" width="2.7" height="2.7" fill="#ff2404"/><rect x="640.1" y="462.5" width="2.7" height="2.7" fill="#ff2c04"/><rect x="642.8" y="462.5" width="2.7" height="2.7" fill="#ff4404"/><rect x="645.4" y="462.5" width="2.7" height="2.7" fill="#ff6c0c"/><rect x="648.1" y="462.5" width="2.7" height="2.7" fill="#ffa40c"/><rect x="650.8" y="462.5" width="2.7" height="2.7" fill="#ffec24"/><rect x="653.4" y="462.5" width="2.7" height="2.7" fill="#acffa4"/><rect x="656.1" y="462.5" width="2.7" height="2.7" fill="#1ce4ff"/><rect x="658.7" y="462.5" width="2.7" height="2.7" fill="#1484ff"/><rect x="661.4" y="462.5" width="2.7" height="2.7" fill="#1444ff"/><rect x="664.1" y="462.5" width="5.4" height="2.7" fill="#0c24ff"/><rect x="669.4" y="462.5" width="2.7" height="2.7" fill="#142cff"/><rect x="672" y="462.5" width="2.7" height="2.7" fill="#143cff"/><rect x="674.7" y="462.5" width="2.7" height="2.7" fill="#1444ff"/><rect x="677.4" y="462.5" width="2.7" height="2.7" fill="#1454ff"/><rect x="680" y="462.5" width="2.7" height="2.7" fill="#145cff"/><rect x="682.7" y="462.5" width="2.7" height="2.7" fill="#146cff"/><rect x="685.3" y="462.5" width="2.7" height="2.7" fill="#1474ff"/><rect x="688" y="462.5" width="2.7" height="2.7" fill="#147cff"/><rect x="690.7" y="462.5" width="10.7" height="2.7" fill="#1484ff"/><rect x="701.3" y="462.5" width="2.7" height="2.7" fill="#147cff"/><rect x="704" y="462.5" width="2.7" height="2.7" fill="#1474ff"/><rect x="706.6" y="462.5" width="5.4" height="2.7" fill="#1464ff"/><rect x="711.9" y="462.5" width="2.7" height="2.7" fill="#145cff"/><rect x="714.6" y="462.5" width="2.7" height="2.7" fill="#1454ff"/><rect x="717.3" y="462.5" width="2.7" height="2.7" fill="#144cff"/><rect x="719.9" y="462.5" width="2.7" height="2.7" fill="#1444ff"/><rect x="722.6" y="462.5" width="2.7" height="2.7" fill="#1434ff"/><rect x="725.2" y="462.5" width="2.7" height="2.7" fill="#0c2cff"/><rect x="727.9" y="462.5" width="2.7" height="2.7" fill="#0c1cff"/><rect x="730.6" y="462.5" width="2.7" height="2.7" fill="#0c14ff"/><rect x="733.2" y="462.5" width="5.4" height="2.7" fill="#0c0cff"/><rect x="544.4" y="465.2" width="2.7" height="2.7" fill="#0c0cff"/><rect x="547" y="465.2" width="2.7" height="2.7" fill="#0c1cff"/><rect x="549.7" y="465.2" width="2.7" height="2.7" fill="#143cff"/><rect x="552.3" y="465.2" width="2.7" height="2.7" fill="#146cff"/><rect x="555" y="465.2" width="2.7" height="2.7" fill="#149cff"/><rect x="557.7" y="465.2" width="2.7" height="2.7" fill="#1cd4ff"/><rect x="560.3" y="465.2" width="2.7" height="2.7" fill="#34ecec"/><rect x="563" y="465.2" width="2.7" height="2.7" fill="#54f4dc"/><rect x="565.6" y="465.2" width="2.7" height="2.7" fill="#5cf4d4"/><rect x="568.3" y="465.2" width="2.7" height="2.7" fill="#4cf4e4"/><rect x="571" y="465.2" width="2.7" height="2.7" fill="#24ecff"/><rect x="573.6" y="465.2" width="2.7" height="2.7" fill="#1cccff"/><rect x="576.3" y="465.2" width="2.7" height="2.7" fill="#14acff"/><rect x="578.9" y="465.2" width="2.7" height="2.7" fill="#1494ff"/><rect x="581.6" y="465.2" width="2.7" height="2.7" fill="#148cff"/><rect x="584.3" y="465.2" width="2.7" height="2.7" fill="#1494ff"/><rect x="586.9" y="465.2" width="2.7" height="2.7" fill="#14acff"/><rect x="589.6" y="465.2" width="2.7" height="2.7" fill="#1cc4ff"/><rect x="592.2" y="465.2" width="2.7" height="2.7" fill="#1cd4ff"/><rect x="594.9" y="465.2" width="2.7" height="2.7" fill="#1ce4ff"/><rect x="597.6" y="465.2" width="2.7" height="2.7" fill="#1cecff"/><rect x="600.2" y="465.2" width="2.7" height="2.7" fill="#1ce4ff"/><rect x="602.9" y="465.2" width="2.7" height="2.7" fill="#1cd4ff"/><rect x="605.5" y="465.2" width="2.7" height="2.7" fill="#1cbcff"/><rect x="608.2" y="465.2" width="2.7" height="2.7" fill="#1494ff"/><rect x="610.9" y="465.2" width="2.7" height="2.7" fill="#1474ff"/><rect x="613.5" y="465.2" width="2.7" height="2.7" fill="#146cff"/><rect x="616.2" y="465.2" width="2.7" height="2.7" fill="#1484ff"/><rect x="618.8" y="465.2" width="2.7" height="2.7" fill="#1cbcff"/><rect x="621.5" y="465.2" width="2.7" height="2.7" fill="#44f4e4"/><rect x="624.2" y="465.2" width="2.7" height="2.7" fill="#c4ff7c"/><rect x="626.8" y="465.2" width="2.7" height="2.7" fill="#ffdc1c"/><rect x="629.5" y="465.2" width="2.7" height="2.7" fill="#ff9c0c"/><rect x="632.1" y="465.2" width="2.7" height="2.7" fill="#ff6c0c"/><rect x="634.8" y="465.2" width="2.7" height="2.7" fill="#ff4404"/><rect x="637.5" y="465.2" width="2.7" height="2.7" fill="#ff3404"/><rect x="640.1" y="465.2" width="2.7" height="2.7" fill="#ff3c04"/><rect x="642.8" y="465.2" width="2.7" height="2.7" fill="#ff5404"/><rect x="645.4" y="465.2" width="2.7" height="2.7" fill="#ff7c0c"/><rect x="648.1" y="465.2" width="2.7" height="2.7" fill="#ffb414"/><rect x="650.8" y="465.2" width="2.7" height="2.7" fill="#ffff2c"/><rect x="653.4" y="465.2" width="2.7" height="2.7" fill="#94ffac"/><rect x="656.1" y="465.2" width="2.7" height="2.7" fill="#1cdcff"/><rect x="658.7" y="465.2" width="2.7" height="2.7" fill="#147cff"/><rect x="661.4" y="465.2" width="2.7" height="2.7" fill="#143cff"/><rect x="664.1" y="465.2" width="5.4" height="2.7" fill="#0c1cff"/><rect x="669.4" y="465.2" width="2.7" height="2.7" fill="#0c24ff"/><rect x="672" y="465.2" width="2.7" height="2.7" fill="#1434ff"/><rect x="674.7" y="465.2" width="2.7" height="2.7" fill="#143cff"/><rect x="677.4" y="465.2" width="2.7" height="2.7" fill="#1444ff"/><rect x="680" y="465.2" width="2.7" height="2.7" fill="#144cff"/><rect x="682.7" y="465.2" width="5.4" height="2.7" fill="#1454ff"/><rect x="688" y="465.2" width="2.7" height="2.7" fill="#145cff"/><rect x="690.7" y="465.2" width="2.7" height="2.7" fill="#1464ff"/><rect x="693.3" y="465.2" width="5.4" height="2.7" fill="#146cff"/><rect x="698.6" y="465.2" width="5.4" height="2.7" fill="#1464ff"/><rect x="704" y="465.2" width="5.4" height="2.7" fill="#145cff"/><rect x="709.3" y="465.2" width="5.4" height="2.7" fill="#1454ff"/><rect x="714.6" y="465.2" width="2.7" height="2.7" fill="#144cff"/><rect x="717.3" y="465.2" width="2.7" height="2.7" fill="#1444ff"/><rect x="719.9" y="465.2" width="2.7" height="2.7" fill="#143cff"/><rect x="722.6" y="465.2" width="2.7" height="2.7" fill="#1434ff"/><rect x="725.2" y="465.2" width="2.7" height="2.7" fill="#0c2cff"/><rect x="727.9" y="465.2" width="2.7" height="2.7" fill="#0c1cff"/><rect x="730.6" y="465.2" width="2.7" height="2.7" fill="#0c14ff"/><rect x="733.2" y="465.2" width="5.4" height="2.7" fill="#0c0cff"/><rect x="547" y="467.8" width="2.7" height="2.7" fill="#0c0cff"/><rect x="549.7" y="467.8" width="2.7" height="2.7" fill="#0c1cff"/><rect x="552.3" y="467.8" width="2.7" height="2.7" fill="#1434ff"/><rect x="555" y="467.8" width="2.7" height="2.7" fill="#1454ff"/><rect x="557.7" y="467.8" width="2.7" height="2.7" fill="#1474ff"/><rect x="560.3" y="467.8" width="2.7" height="2.7" fill="#148cff"/><rect x="563" y="467.8" width="2.7" height="2.7" fill="#149cff"/><rect x="565.6" y="467.8" width="2.7" height="2.7" fill="#14a4ff"/><rect x="568.3" y="467.8" width="2.7" height="2.7" fill="#149cff"/><rect x="571" y="467.8" width="2.7" height="2.7" fill="#1484ff"/><rect x="573.6" y="467.8" width="2.7" height="2.7" fill="#146cff"/><rect x="576.3" y="467.8" width="5.4" height="2.7" fill="#145cff"/><rect x="581.6" y="467.8" width="2.7" height="2.7" fill="#1464ff"/><rect x="584.3" y="467.8" width="2.7" height="2.7" fill="#147cff"/><rect x="586.9" y="467.8" width="2.7" height="2.7" fill="#148cff"/><rect x="589.6" y="467.8" width="2.7" height="2.7" fill="#14a4ff"/><rect x="592.2" y="467.8" width="2.7" height="2.7" fill="#1cbcff"/><rect x="594.9" y="467.8" width="5.4" height="2.7" fill="#1cccff"/><rect x="600.2" y="467.8" width="2.7" height="2.7" fill="#1cc4ff"/><rect x="602.9" y="467.8" width="2.7" height="2.7" fill="#1cb4ff"/><rect x="605.5" y="467.8" width="2.7" height="2.7" fill="#149cff"/><rect x="608.2" y="467.8" width="2.7" height="2.7" fill="#1484ff"/><rect x="610.9" y="467.8" width="2.7" height="2.7" fill="#1464ff"/><rect x="613.5" y="467.8" width="2.7" height="2.7" fill="#1454ff"/><rect x="616.2" y="467.8" width="2.7" height="2.7" fill="#146cff"/><rect x="618.8" y="467.8" width="2.7" height="2.7" fill="#1494ff"/><rect x="621.5" y="467.8" width="2.7" height="2.7" fill="#1ce4ff"/><rect x="624.2" y="467.8" width="2.7" height="2.7" fill="#9cffac"/><rect x="626.8" y="467.8" width="2.7" height="2.7" fill="#fcff34"/><rect x="629.5" y="467.8" width="2.7" height="2.7" fill="#ffc414"/><rect x="632.1" y="467.8" width="2.7" height="2.7" fill="#ff8c0c"/><rect x="634.8" y="467.8" width="2.7" height="2.7" fill="#ff6c0c"/><rect x="637.5" y="467.8" width="2.7" height="2.7" fill="#ff5c04"/><rect x="640.1" y="467.8" width="2.7" height="2.7" fill="#ff6404"/><rect x="642.8" y="467.8" width="2.7" height="2.7" fill="#ff7c0c"/><rect x="645.4" y="467.8" width="2.7" height="2.7" fill="#ffa40c"/><rect x="648.1" y="467.8" width="2.7" height="2.7" fill="#ffdc1c"/><rect x="650.8" y="467.8" width="2.7" height="2.7" fill="#d4ff64"/><rect x="653.4" y="467.8" width="2.7" height="2.7" fill="#64f4d4"/><rect x="656.1" y="467.8" width="2.7" height="2.7" fill="#1cbcff"/><rect x="658.7" y="467.8" width="2.7" height="2.7" fill="#1464ff"/><rect x="661.4" y="467.8" width="2.7" height="2.7" fill="#142cff"/><rect x="664.1" y="467.8" width="5.4" height="2.7" fill="#0c14ff"/><rect x="669.4" y="467.8" width="2.7" height="2.7" fill="#0c1cff"/><rect x="672" y="467.8" width="2.7" height="2.7" fill="#0c24ff"/><rect x="674.7" y="467.8" width="2.7" height="2.7" fill="#142cff"/><rect x="677.4" y="467.8" width="2.7" height="2.7" fill="#1434ff"/><rect x="680" y="467.8" width="8" height="2.7" fill="#143cff"/><rect x="688" y="467.8" width="5.4" height="2.7" fill="#1444ff"/><rect x="693.3" y="467.8" width="21.3" height="2.7" fill="#144cff"/><rect x="714.6" y="467.8" width="2.7" height="2.7" fill="#1444ff"/><rect x="717.3" y="467.8" width="2.7" height="2.7" fill="#143cff"/><rect x="719.9" y="467.8" width="2.7" height="2.7" fill="#1434ff"/><rect x="722.6" y="467.8" width="2.7" height="2.7" fill="#142cff"/><rect x="725.2" y="467.8" width="2.7" height="2.7" fill="#0c24ff"/><rect x="727.9" y="467.8" width="2.7" height="2.7" fill="#0c1cff"/><rect x="730.6" y="467.8" width="2.7" height="2.7" fill="#0c14ff"/><rect x="733.2" y="467.8" width="2.7" height="2.7" fill="#0c0cff"/><rect x="547" y="470.5" width="5.4" height="2.7" fill="#0c0cff"/><rect x="552.3" y="470.5" width="2.7" height="2.7" fill="#0c14ff"/><rect x="555" y="470.5" width="2.7" height="2.7" fill="#0c24ff"/><rect x="557.7" y="470.5" width="2.7" height="2.7" fill="#1434ff"/><rect x="560.3" y="470.5" width="2.7" height="2.7" fill="#1444ff"/><rect x="563" y="470.5" width="8" height="2.7" fill="#144cff"/><rect x="571" y="470.5" width="2.7" height="2.7" fill="#143cff"/><rect x="573.6" y="470.5" width="2.7" height="2.7" fill="#1434ff"/><rect x="576.3" y="470.5" width="2.7" height="2.7" fill="#142cff"/><rect x="578.9" y="470.5" width="2.7" height="2.7" fill="#1434ff"/><rect x="581.6" y="470.5" width="2.7" height="2.7" fill="#1444ff"/><rect x="584.3" y="470.5" width="2.7" height="2.7" fill="#145cff"/><rect x="586.9" y="470.5" width="2.7" height="2.7" fill="#1474ff"/><rect x="589.6" y="470.5" width="2.7" height="2.7" fill="#1484ff"/><rect x="592.2" y="470.5" width="2.7" height="2.7" fill="#1494ff"/><rect x="594.9" y="470.5" width="5.4" height="2.7" fill="#14a4ff"/><rect x="600.2" y="470.5" width="2.7" height="2.7" fill="#149cff"/><rect x="602.9" y="470.5" width="2.7" height="2.7" fill="#1494ff"/><rect x="605.5" y="470.5" width="2.7" height="2.7" fill="#147cff"/><rect x="608.2" y="470.5" width="2.7" height="2.7" fill="#146cff"/><rect x="610.9" y="470.5" width="2.7" height="2.7" fill="#144cff"/><rect x="613.5" y="470.5" width="2.7" height="2.7" fill="#143cff"/><rect x="616.2" y="470.5" width="2.7" height="2.7" fill="#1444ff"/><rect x="618.8" y="470.5" width="2.7" height="2.7" fill="#146cff"/><rect x="621.5" y="470.5" width="2.7" height="2.7" fill="#14b4ff"/><rect x="624.2" y="470.5" width="2.7" height="2.7" fill="#4cf4e4"/><rect x="626.8" y="470.5" width="2.7" height="2.7" fill="#bcff8c"/><rect x="629.5" y="470.5" width="2.7" height="2.7" fill="#fff424"/><rect x="632.1" y="470.5" width="2.7" height="2.7" fill="#ffc414"/><rect x="634.8" y="470.5" width="2.7" height="2.7" fill="#ffac0c"/><rect x="637.5" y="470.5" width="5.4" height="2.7" fill="#ff9c0c"/><rect x="642.8" y="470.5" width="2.7" height="2.7" fill="#ffb414"/><rect x="645.4" y="470.5" width="2.7" height="2.7" fill="#ffdc1c"/><rect x="648.1" y="470.5" width="2.7" height="2.7" fill="#ecff44"/><rect x="650.8" y="470.5" width="2.7" height="2.7" fill="#94ffac"/><rect x="653.4" y="470.5" width="2.7" height="2.7" fill="#1cecff"/><rect x="656.1" y="470.5" width="2.7" height="2.7" fill="#148cff"/><rect x="658.7" y="470.5" width="2.7" height="2.7" fill="#144cff"/><rect x="661.4" y="470.5" width="2.7" height="2.7" fill="#0c24ff"/><rect x="664.1" y="470.5" width="2.7" height="2.7" fill="#0c0cff"/><rect x="666.7" y="470.5" width="5.4" height="2.7" fill="#0c14ff"/><rect x="672" y="470.5" width="2.7" height="2.7" fill="#0c1cff"/><rect x="674.7" y="470.5" width="5.4" height="2.7" fill="#0c24ff"/><rect x="680" y="470.5" width="2.7" height="2.7" fill="#0c2cff"/><rect x="682.7" y="470.5" width="10.7" height="2.7" fill="#142cff"/><rect x="693.3" y="470.5" width="10.7" height="2.7" fill="#1434ff"/><rect x="704" y="470.5" width="5.4" height="2.7" fill="#143cff"/><rect x="709.3" y="470.5" width="2.7" height="2.7" fill="#1444ff"/><rect x="711.9" y="470.5" width="5.4" height="2.7" fill="#143cff"/><rect x="717.3" y="470.5" width="2.7" height="2.7" fill="#1434ff"/><rect x="719.9" y="470.5" width="2.7" height="2.7" fill="#142cff"/><rect x="722.6" y="470.5" width="2.7" height="2.7" fill="#0c24ff"/><rect x="725.2" y="470.5" width="2.7" height="2.7" fill="#0c1cff"/><rect x="727.9" y="470.5" width="2.7" height="2.7" fill="#0c14ff"/><rect x="730.6" y="470.5" width="5.4" height="2.7" fill="#0c0cff"/><rect x="549.7" y="473.2" width="5.4" height="2.7" fill="#0c0cff"/><rect x="555" y="473.2" width="5.4" height="2.7" fill="#0c14ff"/><rect x="560.3" y="473.2" width="5.4" height="2.7" fill="#0c1cff"/><rect x="565.6" y="473.2" width="5.4" height="2.7" fill="#0c24ff"/><rect x="571" y="473.2" width="8" height="2.7" fill="#0c1cff"/><rect x="578.9" y="473.2" width="2.7" height="2.7" fill="#0c24ff"/><rect x="581.6" y="473.2" width="2.7" height="2.7" fill="#142cff"/><rect x="584.3" y="473.2" width="2.7" height="2.7" fill="#143cff"/><rect x="586.9" y="473.2" width="2.7" height="2.7" fill="#144cff"/><rect x="589.6" y="473.2" width="2.7" height="2.7" fill="#1464ff"/><rect x="592.2" y="473.2" width="2.7" height="2.7" fill="#146cff"/><rect x="594.9" y="473.2" width="5.4" height="2.7" fill="#147cff"/><rect x="600.2" y="473.2" width="2.7" height="2.7" fill="#1474ff"/><rect x="602.9" y="473.2" width="2.7" height="2.7" fill="#146cff"/><rect x="605.5" y="473.2" width="2.7" height="2.7" fill="#145cff"/><rect x="608.2" y="473.2" width="2.7" height="2.7" fill="#144cff"/><rect x="610.9" y="473.2" width="2.7" height="2.7" fill="#1434ff"/><rect x="613.5" y="473.2" width="5.4" height="2.7" fill="#0c24ff"/><rect x="618.8" y="473.2" width="2.7" height="2.7" fill="#1444ff"/><rect x="621.5" y="473.2" width="2.7" height="2.7" fill="#147cff"/><rect x="624.2" y="473.2" width="2.7" height="2.7" fill="#1cc4ff"/><rect x="626.8" y="473.2" width="2.7" height="2.7" fill="#54f4dc"/><rect x="629.5" y="473.2" width="2.7" height="2.7" fill="#b4ff94"/><rect x="632.1" y="473.2" width="2.7" height="2.7" fill="#e4ff4c"/><rect x="634.8" y="473.2" width="2.7" height="2.7" fill="#fff424"/><rect x="637.5" y="473.2" width="2.7" height="2.7" fill="#ffe424"/><rect x="640.1" y="473.2" width="2.7" height="2.7" fill="#ffec24"/><rect x="642.8" y="473.2" width="2.7" height="2.7" fill="#ffff2c"/><rect x="645.4" y="473.2" width="2.7" height="2.7" fill="#d4ff64"/><rect x="648.1" y="473.2" width="2.7" height="2.7" fill="#94ffb4"/><rect x="650.8" y="473.2" width="2.7" height="2.7" fill="#2cecf4"/><rect x="653.4" y="473.2" width="2.7" height="2.7" fill="#14a4ff"/><rect x="656.1" y="473.2" width="2.7" height="2.7" fill="#1464ff"/><rect x="658.7" y="473.2" width="2.7" height="2.7" fill="#1434ff"/><rect x="661.4" y="473.2" width="2.7" height="2.7" fill="#0c14ff"/><rect x="664.1" y="473.2" width="5.4" height="2.7" fill="#0c0cff"/><rect x="669.4" y="473.2" width="5.4" height="2.7" fill="#0c14ff"/><rect x="674.7" y="473.2" width="21.3" height="2.7" fill="#0c1cff"/><rect x="696" y="473.2" width="5.4" height="2.7" fill="#0c24ff"/><rect x="701.3" y="473.2" width="2.7" height="2.7" fill="#0c2cff"/><rect x="704" y="473.2" width="2.7" height="2.7" fill="#142cff"/><rect x="706.6" y="473.2" width="10.7" height="2.7" fill="#1434ff"/><rect x="717.3" y="473.2" width="2.7" height="2.7" fill="#142cff"/><rect x="719.9" y="473.2" width="2.7" height="2.7" fill="#0c24ff"/><rect x="722.6" y="473.2" width="2.7" height="2.7" fill="#0c1cff"/><rect x="725.2" y="473.2" width="5.4" height="2.7" fill="#0c14ff"/><rect x="730.6" y="473.2" width="2.7" height="2.7" fill="#0c0cff"/><rect x="552.3" y="475.8" width="5.4" height="2.7" fill="#0c0cff"/><rect x="557.7" y="475.8" width="24" height="2.7" fill="#0c14ff"/><rect x="581.6" y="475.8" width="2.7" height="2.7" fill="#0c1cff"/><rect x="584.3" y="475.8" width="2.7" height="2.7" fill="#0c24ff"/><rect x="586.9" y="475.8" width="2.7" height="2.7" fill="#1434ff"/><rect x="589.6" y="475.8" width="2.7" height="2.7" fill="#143cff"/><rect x="592.2" y="475.8" width="2.7" height="2.7" fill="#144cff"/><rect x="594.9" y="475.8" width="5.4" height="2.7" fill="#1454ff"/><rect x="600.2" y="475.8" width="2.7" height="2.7" fill="#144cff"/><rect x="602.9" y="475.8" width="2.7" height="2.7" fill="#1444ff"/><rect x="605.5" y="475.8" width="2.7" height="2.7" fill="#143cff"/><rect x="608.2" y="475.8" width="2.7" height="2.7" fill="#142cff"/><rect x="610.9" y="475.8" width="2.7" height="2.7" fill="#0c24ff"/><rect x="613.5" y="475.8" width="5.4" height="2.7" fill="#0c14ff"/><rect x="618.8" y="475.8" width="2.7" height="2.7" fill="#0c24ff"/><rect x="621.5" y="475.8" width="2.7" height="2.7" fill="#144cff"/><rect x="624.2" y="475.8" width="2.7" height="2.7" fill="#147cff"/><rect x="626.8" y="475.8" width="2.7" height="2.7" fill="#1cbcff"/><rect x="629.5" y="475.8" width="2.7" height="2.7" fill="#2cecf4"/><rect x="632.1" y="475.8" width="2.7" height="2.7" fill="#6cf4cc"/><rect x="634.8" y="475.8" width="2.7" height="2.7" fill="#9cffac"/><rect x="637.5" y="475.8" width="2.7" height="2.7" fill="#acff9c"/><rect x="640.1" y="475.8" width="2.7" height="2.7" fill="#acffa4"/><rect x="642.8" y="475.8" width="2.7" height="2.7" fill="#8cffb4"/><rect x="645.4" y="475.8" width="2.7" height="2.7" fill="#5cf4dc"/><rect x="648.1" y="475.8" width="2.7" height="2.7" fill="#1ce4ff"/><rect x="650.8" y="475.8" width="2.7" height="2.7" fill="#14a4ff"/><rect x="653.4" y="475.8" width="2.7" height="2.7" fill="#146cff"/><rect x="656.1" y="475.8" width="2.7" height="2.7" fill="#143cff"/><rect x="658.7" y="475.8" width="2.7" height="2.7" fill="#0c1cff"/><rect x="661.4" y="475.8" width="2.7" height="2.7" fill="#0c0cff"/><rect x="669.4" y="475.8" width="8" height="2.7" fill="#0c0cff"/><rect x="677.4" y="475.8" width="21.3" height="2.7" fill="#0c14ff"/><rect x="698.6" y="475.8" width="5.4" height="2.7" fill="#0c1cff"/><rect x="704" y="475.8" width="16" height="2.7" fill="#0c24ff"/><rect x="719.9" y="475.8" width="2.7" height="2.7" fill="#0c1cff"/><rect x="722.6" y="475.8" width="5.4" height="2.7" fill="#0c14ff"/><rect x="727.9" y="475.8" width="5.4" height="2.7" fill="#0c0cff"/><rect x="555" y="478.5" width="10.7" height="2.7" fill="#0c0cff"/><rect x="565.6" y="478.5" width="8" height="2.7" fill="#0c14ff"/><rect x="573.6" y="478.5" width="10.7" height="2.7" fill="#0c0cff"/><rect x="584.3" y="478.5" width="2.7" height="2.7" fill="#0c14ff"/><rect x="586.9" y="478.5" width="2.7" height="2.7" fill="#0c1cff"/><rect x="589.6" y="478.5" width="2.7" height="2.7" fill="#0c24ff"/><rect x="592.2" y="478.5" width="2.7" height="2.7" fill="#0c2cff"/><rect x="594.9" y="478.5" width="2.7" height="2.7" fill="#142cff"/><rect x="597.6" y="478.5" width="2.7" height="2.7" fill="#1434ff"/><rect x="600.2" y="478.5" width="2.7" height="2.7" fill="#142cff"/><rect x="602.9" y="478.5" width="2.7" height="2.7" fill="#0c2cff"/><rect x="605.5" y="478.5" width="2.7" height="2.7" fill="#0c24ff"/><rect x="608.2" y="478.5" width="2.7" height="2.7" fill="#0c1cff"/><rect x="610.9" y="478.5" width="2.7" height="2.7" fill="#0c14ff"/><rect x="613.5" y="478.5" width="2.7" height="2.7" fill="#0c0cff"/><rect x="618.8" y="478.5" width="2.7" height="2.7" fill="#0c14ff"/><rect x="621.5" y="478.5" width="2.7" height="2.7" fill="#0c24ff"/><rect x="624.2" y="478.5" width="2.7" height="2.7" fill="#1444ff"/><rect x="626.8" y="478.5" width="2.7" height="2.7" fill="#146cff"/><rect x="629.5" y="478.5" width="2.7" height="2.7" fill="#1494ff"/><rect x="632.1" y="478.5" width="2.7" height="2.7" fill="#1cbcff"/><rect x="634.8" y="478.5" width="2.7" height="2.7" fill="#1cd4ff"/><rect x="637.5" y="478.5" width="2.7" height="2.7" fill="#1ce4ff"/><rect x="640.1" y="478.5" width="2.7" height="2.7" fill="#1cdcff"/><rect x="642.8" y="478.5" width="2.7" height="2.7" fill="#1cccff"/><rect x="645.4" y="478.5" width="2.7" height="2.7" fill="#14acff"/><rect x="648.1" y="478.5" width="2.7" height="2.7" fill="#1484ff"/><rect x="650.8" y="478.5" width="2.7" height="2.7" fill="#145cff"/><rect x="653.4" y="478.5" width="2.7" height="2.7" fill="#1434ff"/><rect x="656.1" y="478.5" width="2.7" height="2.7" fill="#0c1cff"/><rect x="658.7" y="478.5" width="2.7" height="2.7" fill="#0c0cff"/><rect x="672" y="478.5" width="26.7" height="2.7" fill="#0c0cff"/><rect x="698.6" y="478.5" width="5.4" height="2.7" fill="#0c14ff"/><rect x="704" y="478.5" width="13.4" height="2.7" fill="#0c1cff"/><rect x="717.3" y="478.5" width="5.4" height="2.7" fill="#0c14ff"/><rect x="722.6" y="478.5" width="8" height="2.7" fill="#0c0cff"/><rect x="560.3" y="481.1" width="18.7" height="2.7" fill="#0c0cff"/><rect x="584.3" y="481.1" width="5.4" height="2.7" fill="#0c0cff"/><rect x="589.6" y="481.1" width="18.7" height="2.7" fill="#0c14ff"/><rect x="608.2" y="481.1" width="5.4" height="2.7" fill="#0c0cff"/><rect x="621.5" y="481.1" width="2.7" height="2.7" fill="#0c0cff"/><rect x="624.2" y="481.1" width="2.7" height="2.7" fill="#0c1cff"/><rect x="626.8" y="481.1" width="2.7" height="2.7" fill="#1434ff"/><rect x="629.5" y="481.1" width="2.7" height="2.7" fill="#1444ff"/><rect x="632.1" y="481.1" width="2.7" height="2.7" fill="#145cff"/><rect x="634.8" y="481.1" width="2.7" height="2.7" fill="#146cff"/><rect x="637.5" y="481.1" width="5.4" height="2.7" fill="#1474ff"/><rect x="642.8" y="481.1" width="2.7" height="2.7" fill="#146cff"/><rect x="645.4" y="481.1" width="2.7" height="2.7" fill="#1454ff"/><rect x="648.1" y="481.1" width="2.7" height="2.7" fill="#143cff"/><rect x="650.8" y="481.1" width="2.7" height="2.7" fill="#0c2cff"/><rect x="653.4" y="481.1" width="2.7" height="2.7" fill="#0c14ff"/><rect x="656.1" y="481.1" width="2.7" height="2.7" fill="#0c0cff"/><rect x="696" y="481.1" width="10.7" height="2.7" fill="#0c0cff"/><rect x="706.6" y="481.1" width="10.7" height="2.7" fill="#0c14ff"/><rect x="717.3" y="481.1" width="8" height="2.7" fill="#0c0cff"/><rect x="592.2" y="483.8" width="13.4" height="2.7" fill="#0c0cff"/><rect x="624.2" y="483.8" width="2.7" height="2.7" fill="#0c0cff"/><rect x="626.8" y="483.8" width="2.7" height="2.7" fill="#0c14ff"/><rect x="629.5" y="483.8" width="2.7" height="2.7" fill="#0c1cff"/><rect x="632.1" y="483.8" width="2.7" height="2.7" fill="#0c24ff"/><rect x="634.8" y="483.8" width="2.7" height="2.7" fill="#142cff"/><rect x="637.5" y="483.8" width="5.4" height="2.7" fill="#1434ff"/><rect x="642.8" y="483.8" width="2.7" height="2.7" fill="#142cff"/><rect x="645.4" y="483.8" width="2.7" height="2.7" fill="#0c24ff"/><rect x="648.1" y="483.8" width="2.7" height="2.7" fill="#0c14ff"/><rect x="650.8" y="483.8" width="2.7" height="2.7" fill="#0c0cff"/><rect x="701.3" y="483.8" width="18.7" height="2.7" fill="#0c0cff"/><rect x="629.5" y="486.5" width="18.7" height="2.7" fill="#0c0cff"/></g>
<use href="#riv" transform="translate(461.9,324.2) scale(1.001,1.0185)"/>
<use href="#legend" transform="translate(461.9,324.2) scale(1.001,1.0185)"/>
</g>
<path d="M461.4 324.2 H815.8" stroke="#888" stroke-width="1.2"/>
<path d="M815.3 323.7 V539.9" stroke="#888" stroke-width="1.2"/>
<path d="M461.4 539.4 H815.8" stroke="#888" stroke-width="1.2"/>
<path d="M461.9 323.7 V539.9" stroke="#888" stroke-width="1.05"/>
<text class="t" x="476.5" y="340.2" stroke="#000" stroke-width="0.3" style="font-size:12.1px">D(6.8-6.2 ka)</text>
<text x="555.1" y="431" font-size="11.3" font-weight="bold" stroke="#000" stroke-width="0.3">Chinese Loess Plateau</text>
<text x="654.2" y="389" font-size="11.2" font-weight="bold" stroke="#000" stroke-width="0.3">The Yellow River</text>
<text x="579.4" y="456.2" font-size="11.4" font-weight="bold" fill="#f01010" stroke="#f01010" stroke-width="0.25">DDW</text>
<path d="M0,-3.2 L0.85,-1.05 3.1,-1 1.35,0.45 1.95,2.7 0,1.4 -1.95,2.7 -1.35,0.45 -3.1,-1 -0.85,-1.05Z" transform="translate(574.2,452.4)" fill="#d81010" stroke="#000" stroke-width="1.0" stroke-linejoin="miter"/>
<path d="M556.3 539.4 v2.4" stroke="#000" stroke-width="1"/>
<g transform="translate(556.6,550.7) scale(1.33,1)"><text x="0" y="0" font-size="8.3" font-weight="bold" stroke="#000" stroke-width="0.2" text-anchor="middle">105°E</text></g>
<path d="M656.3 539.4 v2.4" stroke="#000" stroke-width="1"/>
<g transform="translate(656.6,550.7) scale(1.33,1)"><text x="0" y="0" font-size="8.3" font-weight="bold" stroke="#000" stroke-width="0.2" text-anchor="middle">110°E</text></g>
<path d="M756.3 539.4 v2.4" stroke="#000" stroke-width="1"/>
<g transform="translate(756.6,550.7) scale(1.33,1)"><text x="0" y="0" font-size="8.3" font-weight="bold" stroke="#000" stroke-width="0.2" text-anchor="middle">115°E</text></g>
<path d="M815.3 362.8 h2.4" stroke="#000" stroke-width="1"/>
<g transform="translate(818.7,365.8) scale(1.33,1)"><text x="0" y="0" font-size="8.3" font-weight="bold" stroke="#000" stroke-width="0.2">40°N</text></g>
<path d="M815.3 451.7 h2.4" stroke="#000" stroke-width="1"/>
<g transform="translate(818.7,454.7) scale(1.33,1)"><text x="0" y="0" font-size="8.3" font-weight="bold" stroke="#000" stroke-width="0.2">35°N</text></g>
</g>
</svg></body></html>
